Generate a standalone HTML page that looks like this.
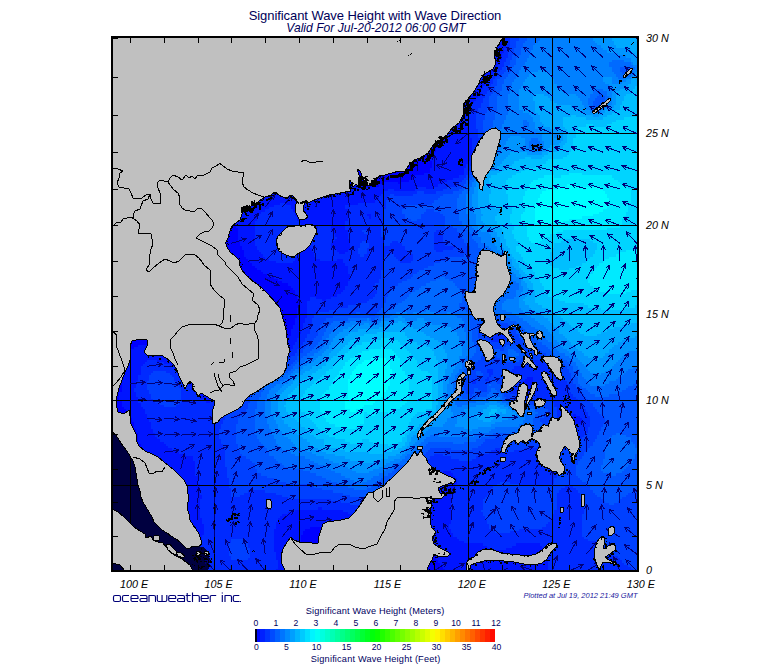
<!DOCTYPE html><html><head><meta charset="utf-8"><title>Significant Wave Height</title>
<style>html,body{margin:0;padding:0;background:#fff}body{width:775px;height:665px;overflow:hidden;position:relative;font-family:"Liberation Sans",sans-serif}svg{position:absolute;left:0;top:0}text{font-family:"Liberation Sans",sans-serif}</style></head><body>
<svg width="775" height="665" viewBox="0 0 775 665">
<defs><clipPath id="mc"><rect x="113" y="38" width="524" height="532"/></clipPath>
<linearGradient id="cb" x1="0" x2="1" y1="0" y2="0">
<stop offset="0" stop-color="#000000"/>
<stop offset="0.008" stop-color="#000010"/>
<stop offset="0.0081" stop-color="#0000ff"/>
<stop offset="0.25" stop-color="#00ffff"/>
<stop offset="0.5" stop-color="#00ff00"/>
<stop offset="0.75" stop-color="#ffff00"/>
<stop offset="1" stop-color="#ff0000"/>
</linearGradient></defs>
<rect x="0" y="0" width="775" height="665" fill="#fff"/>
<g clip-path="url(#mc)" shape-rendering="crispEdges">
<rect x="113" y="38" width="524" height="532" fill="#0000ff"/>
<path fill="#0015ff" d="M157 573h45v2h-45zM276 573h34v2h-34zM449 573h99v2h-99zM157 571h43v2h-43zM276 571h34v2h-34zM447 571h101v2h-101zM157 569h43v2h-43zM276 569h34v2h-34zM445 569h103v2h-103zM157 567h43v2h-43zM278 567h29v2h-29zM443 567h105v2h-105zM157 565h43v2h-43zM278 565h29v2h-29zM440 565h108v2h-108zM157 563h43v2h-43zM278 563h29v2h-29zM440 563h108v2h-108zM157 560h43v3h-43zM278 560h29v3h-29zM438 560h110v3h-110zM160 558h40v2h-40zM276 558h29v2h-29zM436 558h110v2h-110zM160 556h40v2h-40zM276 556h29v2h-29zM436 556h110v2h-110zM160 554h40v2h-40zM276 554h29v2h-29zM434 554h112v2h-112zM160 552h40v2h-40zM276 552h27v2h-27zM434 552h110v2h-110zM160 550h40v2h-40zM274 550h29v2h-29zM432 550h112v2h-112zM162 548h38v2h-38zM274 548h29v2h-29zM432 548h61v2h-61zM506 548h38v2h-38zM162 546h38v2h-38zM274 546h27v2h-27zM432 546h55v2h-55zM512 546h30v2h-30zM162 543h38v3h-38zM274 543h27v3h-27zM430 543h53v3h-53zM516 543h24v3h-24zM164 541h38v2h-38zM274 541h27v2h-27zM430 541h34v2h-34zM164 539h38v2h-38zM274 539h27v2h-27zM364 539h28v2h-28zM430 539h29v2h-29zM164 537h38v2h-38zM274 537h27v2h-27zM358 537h42v2h-42zM430 537h27v2h-27zM166 535h36v2h-36zM274 535h27v2h-27zM352 535h57v2h-57zM430 535h23v2h-23zM166 533h38v2h-38zM274 533h29v2h-29zM348 533h69v2h-69zM428 533h25v2h-25zM166 531h38v2h-38zM274 531h29v2h-29zM343 531h108v2h-108zM166 529h38v2h-38zM274 529h31v2h-31zM339 529h112v2h-112zM168 527h36v2h-36zM276 527h34v2h-34zM333 527h116v2h-116zM168 524h36v3h-36zM276 524h173v3h-173zM168 522h34v2h-34zM276 522h175v2h-175zM168 520h34v2h-34zM278 520h173v2h-173zM170 518h32v2h-32zM278 518h173v2h-173zM170 516h30v2h-30zM280 516h82v2h-82zM375 516h76v2h-76zM170 514h30v2h-30zM282 514h72v2h-72zM383 514h68v2h-68zM170 512h30v2h-30zM288 512h60v2h-60zM388 512h63v2h-63zM170 510h30v2h-30zM295 510h48v2h-48zM392 510h59v2h-59zM170 507h30v3h-30zM318 507h4v3h-4zM396 507h55v3h-55zM170 505h30v2h-30zM400 505h51v2h-51zM170 503h30v2h-30zM402 503h49v2h-49zM170 501h30v2h-30zM405 501h46v2h-46zM170 499h30v2h-30zM409 499h42v2h-42zM170 497h32v2h-32zM411 497h40v2h-40zM170 495h32v2h-32zM413 495h38v2h-38zM170 493h30v2h-30zM417 493h34v2h-34zM168 490h32v3h-32zM419 490h34v3h-34zM168 488h32v2h-32zM424 488h29v2h-29zM168 486h32v2h-32zM426 486h29v2h-29zM168 484h32v2h-32zM428 484h27v2h-27zM166 482h32v2h-32zM430 482h27v2h-27zM166 480h32v2h-32zM432 480h25v2h-25zM166 478h32v2h-32zM434 478h23v2h-23zM166 476h32v2h-32zM436 476h19v2h-19zM164 473h31v3h-31zM438 473h15v3h-15zM164 471h31v2h-31zM443 471h8v2h-8zM162 469h33v2h-33zM162 467h33v2h-33zM162 465h33v2h-33zM160 463h35v2h-35zM160 461h35v2h-35zM155 459h38v2h-38zM151 456h42v3h-42zM147 454h36v2h-36zM145 452h34v2h-34zM143 450h33v2h-33zM143 448h29v2h-29zM141 446h27v2h-27zM141 444h25v2h-25zM138 442h26v2h-26zM138 439h22v3h-22zM138 437h19v2h-19zM138 435h17v2h-17zM138 433h17v2h-17zM136 431h17v2h-17zM136 429h17v2h-17zM134 427h17v2h-17zM134 424h17v3h-17zM134 422h17v2h-17zM573 422h9v2h-9zM132 420h17v2h-17zM573 420h9v2h-9zM132 418h17v2h-17zM573 418h9v2h-9zM130 416h17v2h-17zM573 416h7v2h-7zM128 414h19v2h-19zM573 414h3v2h-3zM126 412h19v2h-19zM126 409h19v3h-19zM124 407h19v2h-19zM122 405h19v2h-19zM122 403h19v2h-19zM122 401h16v2h-16zM206 401h4v2h-4zM119 399h19v2h-19zM204 399h8v2h-8zM119 397h19v2h-19zM200 397h14v2h-14zM119 394h17v3h-17zM198 394h19v3h-19zM529 394h2v3h-2zM119 392h17v2h-17zM195 392h24v2h-24zM527 392h8v2h-8zM122 390h12v2h-12zM193 390h28v2h-28zM525 390h13v2h-13zM122 388h12v2h-12zM191 388h32v2h-32zM525 388h10v2h-10zM122 386h14v2h-14zM191 386h34v2h-34zM525 386h10v2h-10zM122 384h14v2h-14zM189 384h38v2h-38zM523 384h12v2h-12zM122 381h14v3h-14zM187 381h42v3h-42zM523 381h10v3h-10zM122 379h16v2h-16zM185 379h46v2h-46zM525 379h8v2h-8zM124 377h14v2h-14zM183 377h50v2h-50zM527 377h6v2h-6zM124 375h14v2h-14zM181 375h52v2h-52zM124 373h17v2h-17zM179 373h57v2h-57zM124 371h17v2h-17zM179 371h59v2h-59zM124 369h17v2h-17zM176 369h66v2h-66zM124 366h17v3h-17zM174 366h70v3h-70zM124 364h19v2h-19zM170 364h78v2h-78zM124 362h21v2h-21zM164 362h88v2h-88zM124 360h23v2h-23zM157 360h41v2h-41zM210 360h47v2h-47zM124 358h69v2h-69zM217 358h46v2h-46zM126 356h65v2h-65zM221 356h48v2h-48zM126 353h61v3h-61zM227 353h53v3h-53zM128 351h53v2h-53zM233 351h53v2h-53zM130 349h46v2h-46zM238 349h53v2h-53zM134 347h38v2h-38zM246 347h47v2h-47zM138 345h30v2h-30zM255 345h38v2h-38zM149 342h11v3h-11zM269 342h26v3h-26zM280 340h17v2h-17zM284 338h13v2h-13zM288 336h11v2h-11zM291 334h8v2h-8zM291 332h10v2h-10zM291 329h10v3h-10zM293 327h10v2h-10zM293 325h10v2h-10zM295 323h8v2h-8zM295 321h10v2h-10zM295 318h10v3h-10zM297 316h10v2h-10zM297 314h10v2h-10zM297 312h10v2h-10zM297 310h10v2h-10zM297 308h10v2h-10zM299 305h8v3h-8zM299 303h8v2h-8zM299 301h8v2h-8zM299 299h11v2h-11zM322 299h4v2h-4zM297 297h13v2h-13zM316 297h15v2h-15zM297 294h40v3h-40zM295 292h46v2h-46zM295 290h48v2h-48zM293 288h52v2h-52zM291 286h54v2h-54zM288 283h60v3h-60zM282 281h66v2h-66zM278 279h72v2h-72zM274 277h76v2h-76zM267 274h83v3h-83zM263 272h85v2h-85zM261 270h87v2h-87zM257 268h91v2h-91zM255 266h93v2h-93zM252 263h93v3h-93zM250 261h26v2h-26zM293 261h50v2h-50zM248 259h21v2h-21zM295 259h25v2h-25zM337 259h6v2h-6zM246 257h19v2h-19zM295 257h21v2h-21zM244 254h19v3h-19zM297 254h17v3h-17zM244 252h17v2h-17zM297 252h17v2h-17zM339 252h6v2h-6zM244 250h15v2h-15zM299 250h13v2h-13zM337 250h11v2h-11zM242 248h15v2h-15zM299 248h13v2h-13zM333 248h17v2h-17zM242 246h15v2h-15zM301 246h9v2h-9zM331 246h19v2h-19zM240 243h15v3h-15zM331 243h19v3h-19zM240 241h15v2h-15zM333 241h17v2h-17zM238 239h17v2h-17zM335 239h15v2h-15zM238 237h17v2h-17zM337 237h11v2h-11zM238 234h17v3h-17zM335 234h13v3h-13zM238 232h17v2h-17zM333 232h15v2h-15zM238 230h17v2h-17zM331 230h17v2h-17zM238 228h17v2h-17zM307 228h5v2h-5zM331 228h14v2h-14zM236 225h19v3h-19zM303 225h15v3h-15zM331 225h14v3h-14zM236 223h19v2h-19zM301 223h44v2h-44zM236 221h19v2h-19zM299 221h46v2h-46zM236 219h21v2h-21zM297 219h51v2h-51zM236 216h21v3h-21zM297 216h51v3h-51zM369 216h2v3h-2zM236 214h23v2h-23zM295 214h53v2h-53zM367 214h4v2h-4zM238 212h23v2h-23zM295 212h53v2h-53zM238 209h27v3h-27zM293 209h55v3h-55zM238 207h31v2h-31zM291 207h54v2h-54zM240 205h34v2h-34zM291 205h54v2h-54zM240 203h40v2h-40zM286 203h72v2h-72zM242 200h133v3h-133zM242 198h137v2h-137zM244 196h135v2h-135zM246 194h135v2h-135zM248 191h135v3h-135zM252 189h136v2h-136zM394 189h21v2h-21zM255 187h162v2h-162zM426 187h8v2h-8zM257 184h105v3h-105zM379 184h59v3h-59zM261 182h97v2h-97zM383 182h15v2h-15zM400 182h43v2h-43zM265 180h91v2h-91zM409 180h38v2h-38zM267 178h85v2h-85zM413 178h40v2h-40zM274 175h71v3h-71zM415 175h44v3h-44zM284 173h51v2h-51zM424 173h40v2h-40zM430 171h34v2h-34zM430 168h34v3h-34zM432 166h34v2h-34zM432 164h34v2h-34zM432 161h36v3h-36zM430 159h40v2h-40zM432 157h38v2h-38zM432 155h40v2h-40zM434 152h38v3h-38zM436 150h36v2h-36zM436 148h36v2h-36zM440 145h32v3h-32zM443 143h29v2h-29zM443 141h29v2h-29zM445 138h27v3h-27zM447 136h23v2h-23zM447 134h23v2h-23zM449 131h19v3h-19zM449 129h19v2h-19zM449 127h19v2h-19zM451 124h15v3h-15zM451 122h15v2h-15zM451 120h15v2h-15zM453 117h13v3h-13zM453 115h15v2h-15zM453 113h15v2h-15zM455 110h13v3h-13zM457 108h13v2h-13zM457 105h13v3h-13zM459 103h13v2h-13zM459 101h15v2h-15zM462 98h14v3h-14zM464 96h14v2h-14zM466 94h15v2h-15zM468 91h13v3h-13zM470 89h11v2h-11zM472 86h11v3h-11zM474 84h11v2h-11zM476 82h11v2h-11zM478 79h11v3h-11zM481 77h10v2h-10zM483 74h8v3h-8zM483 72h10v2h-10zM485 70h8v2h-8zM487 67h8v3h-8zM487 65h10v2h-10zM489 62h11v3h-11zM491 60h9v2h-9zM491 58h11v2h-11zM493 55h9v3h-9zM493 53h9v2h-9zM493 50h11v3h-11zM495 48h9v2h-9zM495 45h11v3h-11zM493 43h13v2h-13zM493 41h11v2h-11zM493 38h11v3h-11zM491 36h13v2h-13zM491 33h11v3h-11z"/>
<path fill="#002aff" d="M202 573h74v2h-74zM548 573h89v2h-89zM200 571h76v2h-76zM548 571h87v2h-87zM200 569h76v2h-76zM548 569h85v2h-85zM200 567h78v2h-78zM548 567h83v2h-83zM200 565h78v2h-78zM548 565h80v2h-80zM200 563h78v2h-78zM548 563h76v2h-76zM200 560h78v3h-78zM548 560h74v3h-74zM200 558h31v2h-31zM248 558h28v2h-28zM546 558h74v2h-74zM200 556h31v2h-31zM250 556h26v2h-26zM546 556h72v2h-72zM200 554h29v2h-29zM250 554h26v2h-26zM546 554h68v2h-68zM200 552h29v2h-29zM250 552h26v2h-26zM544 552h68v2h-68zM200 550h29v2h-29zM250 550h24v2h-24zM544 550h68v2h-68zM200 548h29v2h-29zM250 548h24v2h-24zM493 548h13v2h-13zM544 548h65v2h-65zM200 546h29v2h-29zM248 546h26v2h-26zM487 546h25v2h-25zM542 546h65v2h-65zM200 543h29v3h-29zM248 543h26v3h-26zM483 543h33v3h-33zM540 543h63v3h-63zM202 541h29v2h-29zM248 541h26v2h-26zM464 541h135v2h-135zM202 539h29v2h-29zM246 539h28v2h-28zM459 539h129v2h-129zM202 537h72v2h-72zM457 537h127v2h-127zM202 535h72v2h-72zM453 535h129v2h-129zM204 533h70v2h-70zM453 533h129v2h-129zM204 531h70v2h-70zM451 531h44v2h-44zM510 531h72v2h-72zM204 529h70v2h-70zM451 529h40v2h-40zM519 529h63v2h-63zM204 527h72v2h-72zM449 527h40v2h-40zM542 527h40v2h-40zM204 524h72v3h-72zM449 524h40v3h-40zM546 524h36v3h-36zM202 522h74v2h-74zM451 522h36v2h-36zM548 522h34v2h-34zM202 520h76v2h-76zM451 520h36v2h-36zM550 520h32v2h-32zM202 518h76v2h-76zM451 518h34v2h-34zM550 518h32v2h-32zM200 516h80v2h-80zM362 516h13v2h-13zM451 516h34v2h-34zM552 516h30v2h-30zM200 514h82v2h-82zM354 514h29v2h-29zM451 514h32v2h-32zM552 514h30v2h-30zM200 512h88v2h-88zM348 512h40v2h-40zM451 512h32v2h-32zM554 512h30v2h-30zM200 510h95v2h-95zM343 510h49v2h-49zM451 510h30v2h-30zM554 510h30v2h-30zM200 507h118v3h-118zM322 507h74v3h-74zM451 507h32v3h-32zM557 507h27v3h-27zM200 505h200v2h-200zM451 505h32v2h-32zM557 505h25v2h-25zM200 503h150v2h-150zM373 503h29v2h-29zM451 503h32v2h-32zM557 503h25v2h-25zM200 501h141v2h-141zM379 501h26v2h-26zM451 501h32v2h-32zM557 501h25v2h-25zM200 499h131v2h-131zM383 499h26v2h-26zM451 499h32v2h-32zM557 499h25v2h-25zM202 497h86v2h-86zM386 497h25v2h-25zM451 497h34v2h-34zM557 497h23v2h-23zM202 495h29v2h-29zM240 495h42v2h-42zM388 495h25v2h-25zM451 495h36v2h-36zM557 495h23v2h-23zM200 493h31v2h-31zM244 493h32v2h-32zM390 493h27v2h-27zM451 493h38v2h-38zM557 493h23v2h-23zM200 490h31v3h-31zM248 490h17v3h-17zM392 490h27v3h-27zM453 490h38v3h-38zM559 490h19v3h-19zM200 488h31v2h-31zM396 488h28v2h-28zM453 488h38v2h-38zM561 488h15v2h-15zM200 486h29v2h-29zM398 486h28v2h-28zM455 486h38v2h-38zM565 486h8v2h-8zM200 484h29v2h-29zM402 484h26v2h-26zM455 484h42v2h-42zM519 484h33v2h-33zM198 482h31v2h-31zM405 482h25v2h-25zM457 482h43v2h-43zM510 482h44v2h-44zM198 480h31v2h-31zM407 480h25v2h-25zM457 480h97v2h-97zM198 478h31v2h-31zM409 478h25v2h-25zM457 478h97v2h-97zM198 476h29v2h-29zM411 476h25v2h-25zM455 476h102v2h-102zM195 473h32v3h-32zM415 473h23v3h-23zM453 473h104v3h-104zM195 471h32v2h-32zM417 471h26v2h-26zM451 471h106v2h-106zM195 469h32v2h-32zM419 469h138v2h-138zM195 467h32v2h-32zM421 467h136v2h-136zM195 465h30v2h-30zM424 465h133v2h-133zM195 463h30v2h-30zM426 463h133v2h-133zM195 461h30v2h-30zM428 461h131v2h-131zM193 459h32v2h-32zM428 459h31v2h-31zM472 459h87v2h-87zM193 456h32v3h-32zM430 456h21v3h-21zM476 456h83v3h-83zM183 454h42v2h-42zM434 454h9v2h-9zM481 454h80v2h-80zM179 452h46v2h-46zM489 452h72v2h-72zM176 450h49v2h-49zM491 450h11v2h-11zM514 450h49v2h-49zM172 448h53v2h-53zM495 448h5v2h-5zM525 448h40v2h-40zM168 446h55v2h-55zM538 446h29v2h-29zM166 444h57v2h-57zM546 444h25v2h-25zM164 442h57v2h-57zM550 442h23v2h-23zM160 439h61v3h-61zM554 439h24v3h-24zM157 437h62v2h-62zM554 437h28v2h-28zM155 435h64v2h-64zM554 435h30v2h-30zM155 433h64v2h-64zM554 433h32v2h-32zM153 431h66v2h-66zM554 431h34v2h-34zM153 429h66v2h-66zM557 429h31v2h-31zM151 427h70v2h-70zM557 427h31v2h-31zM151 424h70v3h-70zM557 424h33v3h-33zM151 422h72v2h-72zM557 422h16v2h-16zM582 422h8v2h-8zM149 420h74v2h-74zM557 420h16v2h-16zM582 420h8v2h-8zM149 418h76v2h-76zM557 418h16v2h-16zM582 418h8v2h-8zM147 416h78v2h-78zM557 416h16v2h-16zM580 416h10v2h-10zM147 414h80v2h-80zM557 414h16v2h-16zM576 414h12v2h-12zM145 412h82v2h-82zM557 412h31v2h-31zM145 409h84v3h-84zM557 409h29v3h-29zM143 407h88v2h-88zM557 407h27v2h-27zM141 405h23v2h-23zM176 405h57v2h-57zM554 405h30v2h-30zM141 403h19v2h-19zM179 403h54v2h-54zM554 403h28v2h-28zM138 401h17v2h-17zM181 401h25v2h-25zM210 401h26v2h-26zM552 401h28v2h-28zM138 399h15v2h-15zM181 399h23v2h-23zM212 399h24v2h-24zM529 399h49v2h-49zM138 397h13v2h-13zM181 397h19v2h-19zM214 397h24v2h-24zM523 397h53v2h-53zM136 394h15v3h-15zM181 394h17v3h-17zM217 394h23v3h-23zM516 394h13v3h-13zM531 394h42v3h-42zM136 392h13v2h-13zM181 392h14v2h-14zM219 392h21v2h-21zM510 392h17v2h-17zM535 392h36v2h-36zM134 390h15v2h-15zM181 390h12v2h-12zM221 390h21v2h-21zM510 390h15v2h-15zM538 390h31v2h-31zM134 388h13v2h-13zM181 388h10v2h-10zM223 388h19v2h-19zM510 388h15v2h-15zM535 388h34v2h-34zM136 386h11v2h-11zM179 386h12v2h-12zM225 386h19v2h-19zM510 386h15v2h-15zM535 386h34v2h-34zM136 384h11v2h-11zM179 384h10v2h-10zM227 384h19v2h-19zM508 384h15v2h-15zM535 384h34v2h-34zM136 381h11v3h-11zM176 381h11v3h-11zM229 381h19v3h-19zM472 381h4v3h-4zM508 381h15v3h-15zM533 381h34v3h-34zM138 379h11v2h-11zM174 379h11v2h-11zM231 379h19v2h-19zM472 379h4v2h-4zM485 379h4v2h-4zM508 379h17v2h-17zM533 379h32v2h-32zM138 377h11v2h-11zM174 377h9v2h-9zM233 377h19v2h-19zM487 377h2v2h-2zM506 377h21v2h-21zM533 377h30v2h-30zM138 375h11v2h-11zM172 375h9v2h-9zM233 375h19v2h-19zM489 375h2v2h-2zM506 375h57v2h-57zM141 373h10v2h-10zM170 373h9v2h-9zM236 373h19v2h-19zM489 373h4v2h-4zM508 373h53v2h-53zM141 371h12v2h-12zM166 371h13v2h-13zM238 371h21v2h-21zM487 371h6v2h-6zM508 371h51v2h-51zM141 369h35v2h-35zM242 369h21v2h-21zM487 369h6v2h-6zM512 369h45v2h-45zM141 366h33v3h-33zM244 366h23v3h-23zM514 366h38v3h-38zM143 364h27v2h-27zM248 364h26v2h-26zM525 364h23v2h-23zM145 362h19v2h-19zM252 362h28v2h-28zM529 362h17v2h-17zM147 360h10v2h-10zM257 360h29v2h-29zM533 360h9v2h-9zM263 358h25v2h-25zM269 356h22v2h-22zM280 353h15v3h-15zM286 351h11v2h-11zM291 349h6v2h-6zM293 347h6v2h-6zM293 345h8v2h-8zM295 342h8v3h-8zM297 340h8v2h-8zM491 340h11v2h-11zM297 338h8v2h-8zM489 338h17v2h-17zM299 336h8v2h-8zM487 336h21v2h-21zM299 334h8v2h-8zM487 334h21v2h-21zM301 332h9v2h-9zM489 332h19v2h-19zM301 329h9v3h-9zM491 329h17v3h-17zM303 327h7v2h-7zM303 325h9v2h-9zM303 323h9v2h-9zM305 321h7v2h-7zM305 318h7v3h-7zM307 316h7v2h-7zM307 314h7v2h-7zM307 312h11v2h-11zM307 310h22v2h-22zM307 308h30v2h-30zM371 308h2v2h-2zM307 305h41v3h-41zM307 303h49v2h-49zM307 301h60v2h-60zM310 299h12v2h-12zM326 299h43v2h-43zM310 297h6v2h-6zM331 297h42v2h-42zM337 294h38v3h-38zM341 292h36v2h-36zM343 290h34v2h-34zM345 288h28v2h-28zM345 286h28v2h-28zM348 283h27v3h-27zM348 281h31v2h-31zM350 279h29v2h-29zM350 277h31v2h-31zM350 274h31v3h-31zM348 272h33v2h-33zM348 270h33v2h-33zM348 268h35v2h-35zM348 266h35v2h-35zM345 263h38v3h-38zM276 261h17v2h-17zM343 261h40v2h-40zM400 261h11v2h-11zM269 259h26v2h-26zM320 259h17v2h-17zM343 259h40v2h-40zM398 259h15v2h-15zM265 257h30v2h-30zM316 257h67v2h-67zM396 257h17v2h-17zM263 254h34v3h-34zM314 254h46v3h-46zM364 254h22v3h-22zM394 254h19v3h-19zM261 252h36v2h-36zM314 252h25v2h-25zM345 252h13v2h-13zM367 252h42v2h-42zM259 250h40v2h-40zM312 250h25v2h-25zM348 250h10v2h-10zM367 250h40v2h-40zM436 250h7v2h-7zM257 248h42v2h-42zM312 248h21v2h-21zM350 248h8v2h-8zM367 248h38v2h-38zM434 248h19v2h-19zM257 246h44v2h-44zM310 246h21v2h-21zM350 246h10v2h-10zM369 246h36v2h-36zM434 246h21v2h-21zM255 243h76v3h-76zM350 243h10v3h-10zM369 243h14v3h-14zM390 243h12v3h-12zM434 243h11v3h-11zM255 241h78v2h-78zM350 241h12v2h-12zM367 241h16v2h-16zM392 241h6v2h-6zM434 241h9v2h-9zM255 239h80v2h-80zM350 239h33v2h-33zM434 239h9v2h-9zM255 237h82v2h-82zM348 237h35v2h-35zM434 237h9v2h-9zM255 234h80v3h-80zM348 234h33v3h-33zM434 234h9v3h-9zM255 232h78v2h-78zM348 232h16v2h-16zM369 232h12v2h-12zM434 232h6v2h-6zM255 230h76v2h-76zM348 230h14v2h-14zM367 230h14v2h-14zM436 230h4v2h-4zM255 228h52v2h-52zM312 228h19v2h-19zM345 228h36v2h-36zM255 225h48v3h-48zM318 225h13v3h-13zM345 225h36v3h-36zM255 223h46v2h-46zM345 223h38v2h-38zM255 221h44v2h-44zM345 221h38v2h-38zM257 219h40v2h-40zM348 219h35v2h-35zM257 216h40v3h-40zM348 216h21v3h-21zM371 216h12v3h-12zM259 214h36v2h-36zM348 214h19v2h-19zM371 214h12v2h-12zM261 212h34v2h-34zM348 212h35v2h-35zM265 209h28v3h-28zM348 209h35v3h-35zM269 207h22v2h-22zM345 207h41v2h-41zM274 205h17v2h-17zM345 205h41v2h-41zM280 203h6v2h-6zM358 203h28v2h-28zM375 200h11v3h-11zM379 198h9v2h-9zM379 196h9v2h-9zM381 194h9v2h-9zM394 194h19v2h-19zM383 191h34v3h-34zM424 191h12v3h-12zM388 189h6v2h-6zM415 189h28v2h-28zM417 187h9v2h-9zM434 187h13v2h-13zM438 184h19v3h-19zM443 182h16v2h-16zM447 180h15v2h-15zM453 178h11v2h-11zM459 175h7v3h-7zM464 173h4v2h-4zM464 171h4v2h-4zM464 168h6v3h-6zM466 166h4v2h-4zM466 164h6v2h-6zM468 161h4v3h-4zM470 159h4v2h-4zM470 157h6v2h-6zM472 155h4v2h-4zM472 152h4v3h-4zM472 150h6v2h-6zM472 148h6v2h-6zM472 145h6v3h-6zM472 143h6v2h-6zM472 141h9v2h-9zM472 138h9v3h-9zM470 136h8v2h-8zM470 134h8v2h-8zM468 131h10v3h-10zM468 129h10v2h-10zM468 127h8v2h-8zM466 124h10v3h-10zM466 122h10v2h-10zM466 120h10v2h-10zM466 117h10v3h-10zM468 115h8v2h-8zM468 113h8v2h-8zM468 110h10v3h-10zM470 108h8v2h-8zM470 105h11v3h-11zM472 103h9v2h-9zM474 101h9v2h-9zM476 98h7v3h-7zM478 96h7v2h-7zM481 94h4v2h-4zM481 91h6v3h-6zM481 89h8v2h-8zM483 86h6v3h-6zM485 84h6v2h-6zM487 82h6v2h-6zM489 79h4v3h-4zM491 77h4v2h-4zM491 74h6v3h-6zM493 72h4v2h-4zM493 70h7v2h-7zM495 67h7v3h-7zM497 65h7v2h-7zM500 62h4v3h-4zM500 60h6v2h-6zM502 58h4v2h-4zM502 55h6v3h-6zM502 53h6v2h-6zM504 50h4v3h-4zM504 48h6v2h-6zM506 45h4v3h-4zM506 43h4v2h-4zM504 41h6v2h-6zM504 38h6v3h-6zM504 36h8v2h-8zM502 33h10v3h-10z"/>
<path fill="#0040ff" d="M637 573h4v2h-4zM635 571h6v2h-6zM633 569h8v2h-8zM631 567h10v2h-10zM628 565h13v2h-13zM624 563h17v2h-17zM622 560h19v3h-19zM231 558h17v2h-17zM620 558h21v2h-21zM231 556h19v2h-19zM618 556h23v2h-23zM229 554h21v2h-21zM614 554h27v2h-27zM229 552h21v2h-21zM612 552h29v2h-29zM229 550h21v2h-21zM612 550h29v2h-29zM229 548h21v2h-21zM609 548h32v2h-32zM229 546h19v2h-19zM607 546h34v2h-34zM229 543h19v3h-19zM603 543h38v3h-38zM231 541h17v2h-17zM599 541h42v2h-42zM231 539h15v2h-15zM588 539h53v2h-53zM584 537h57v2h-57zM582 535h59v2h-59zM582 533h59v2h-59zM495 531h15v2h-15zM582 531h59v2h-59zM491 529h28v2h-28zM582 529h59v2h-59zM489 527h53v2h-53zM582 527h59v2h-59zM489 524h57v3h-57zM582 524h59v3h-59zM487 522h61v2h-61zM582 522h59v2h-59zM487 520h63v2h-63zM582 520h59v2h-59zM485 518h65v2h-65zM582 518h59v2h-59zM485 516h67v2h-67zM582 516h59v2h-59zM483 514h69v2h-69zM582 514h59v2h-59zM483 512h71v2h-71zM584 512h57v2h-57zM481 510h73v2h-73zM584 510h57v2h-57zM483 507h74v3h-74zM584 507h57v3h-57zM483 505h74v2h-74zM582 505h59v2h-59zM350 503h23v2h-23zM483 503h74v2h-74zM582 503h27v2h-27zM614 503h27v2h-27zM341 501h38v2h-38zM483 501h74v2h-74zM582 501h23v2h-23zM618 501h23v2h-23zM331 499h52v2h-52zM483 499h74v2h-74zM582 499h21v2h-21zM620 499h21v2h-21zM288 497h98v2h-98zM485 497h72v2h-72zM580 497h21v2h-21zM622 497h19v2h-19zM231 495h9v2h-9zM282 495h68v2h-68zM369 495h19v2h-19zM487 495h70v2h-70zM580 495h17v2h-17zM626 495h15v2h-15zM231 493h13v2h-13zM276 493h67v2h-67zM373 493h17v2h-17zM489 493h68v2h-68zM580 493h15v2h-15zM628 493h13v2h-13zM231 490h17v3h-17zM265 490h68v3h-68zM377 490h15v3h-15zM491 490h68v3h-68zM578 490h15v3h-15zM633 490h8v3h-8zM231 488h91v2h-91zM381 488h15v2h-15zM491 488h70v2h-70zM576 488h14v2h-14zM229 486h85v2h-85zM383 486h15v2h-15zM493 486h72v2h-72zM573 486h17v2h-17zM229 484h78v2h-78zM383 484h19v2h-19zM497 484h22v2h-22zM552 484h36v2h-36zM229 482h57v2h-57zM386 482h19v2h-19zM500 482h10v2h-10zM554 482h32v2h-32zM229 480h51v2h-51zM390 480h17v2h-17zM554 480h28v2h-28zM229 478h45v2h-45zM392 478h17v2h-17zM554 478h26v2h-26zM227 476h40v2h-40zM396 476h15v2h-15zM557 476h21v2h-21zM227 473h34v3h-34zM400 473h15v3h-15zM557 473h19v3h-19zM227 471h30v2h-30zM402 471h15v2h-15zM557 471h19v2h-19zM227 469h30v2h-30zM405 469h14v2h-14zM557 469h19v2h-19zM227 467h28v2h-28zM409 467h12v2h-12zM557 467h19v2h-19zM225 465h30v2h-30zM411 465h13v2h-13zM557 465h19v2h-19zM225 463h30v2h-30zM413 463h13v2h-13zM559 463h19v2h-19zM225 461h27v2h-27zM417 461h11v2h-11zM559 461h19v2h-19zM225 459h25v2h-25zM419 459h9v2h-9zM459 459h13v2h-13zM559 459h21v2h-21zM225 456h21v3h-21zM421 456h9v3h-9zM451 456h25v3h-25zM559 456h23v3h-23zM225 454h17v2h-17zM424 454h10v2h-10zM443 454h38v2h-38zM561 454h23v2h-23zM225 452h15v2h-15zM426 452h63v2h-63zM561 452h23v2h-23zM225 450h15v2h-15zM428 450h63v2h-63zM502 450h12v2h-12zM563 450h23v2h-23zM225 448h13v2h-13zM430 448h21v2h-21zM472 448h23v2h-23zM500 448h25v2h-25zM565 448h23v2h-23zM223 446h15v2h-15zM478 446h60v2h-60zM567 446h23v2h-23zM223 444h15v2h-15zM481 444h65v2h-65zM571 444h22v2h-22zM221 442h15v2h-15zM483 442h67v2h-67zM573 442h20v2h-20zM221 439h15v3h-15zM485 439h23v3h-23zM527 439h27v3h-27zM578 439h17v3h-17zM219 437h17v2h-17zM495 437h7v2h-7zM535 437h19v2h-19zM582 437h15v2h-15zM219 435h17v2h-17zM538 435h16v2h-16zM584 435h13v2h-13zM219 433h17v2h-17zM538 433h16v2h-16zM586 433h13v2h-13zM219 431h17v2h-17zM540 431h14v2h-14zM588 431h11v2h-11zM219 429h17v2h-17zM540 429h17v2h-17zM588 429h13v2h-13zM221 427h15v2h-15zM542 427h15v2h-15zM588 427h13v2h-13zM221 424h15v3h-15zM542 424h15v3h-15zM590 424h13v3h-13zM223 422h15v2h-15zM542 422h15v2h-15zM590 422h15v2h-15zM223 420h15v2h-15zM540 420h17v2h-17zM590 420h15v2h-15zM225 418h13v2h-13zM540 418h17v2h-17zM590 418h15v2h-15zM225 416h15v2h-15zM544 416h13v2h-13zM590 416h13v2h-13zM227 414h15v2h-15zM546 414h11v2h-11zM588 414h13v2h-13zM227 412h17v2h-17zM548 412h9v2h-9zM588 412h11v2h-11zM229 409h17v3h-17zM548 409h9v3h-9zM586 409h11v3h-11zM231 407h17v2h-17zM544 407h13v2h-13zM584 407h11v2h-11zM164 405h12v2h-12zM233 405h15v2h-15zM538 405h16v2h-16zM584 405h9v2h-9zM160 403h19v2h-19zM233 403h15v2h-15zM529 403h25v2h-25zM582 403h11v2h-11zM155 401h26v2h-26zM236 401h14v2h-14zM521 401h31v2h-31zM580 401h10v2h-10zM153 399h28v2h-28zM236 399h14v2h-14zM508 399h21v2h-21zM578 399h10v2h-10zM151 397h30v2h-30zM238 397h12v2h-12zM506 397h17v2h-17zM576 397h10v2h-10zM151 394h30v3h-30zM240 394h12v3h-12zM470 394h2v3h-2zM504 394h12v3h-12zM573 394h11v3h-11zM149 392h32v2h-32zM240 392h12v2h-12zM466 392h8v2h-8zM504 392h6v2h-6zM571 392h11v2h-11zM149 390h32v2h-32zM242 390h13v2h-13zM466 390h8v2h-8zM481 390h6v2h-6zM504 390h6v2h-6zM569 390h11v2h-11zM147 388h34v2h-34zM242 388h13v2h-13zM464 388h10v2h-10zM478 388h9v2h-9zM502 388h8v2h-8zM569 388h9v2h-9zM147 386h32v2h-32zM244 386h11v2h-11zM464 386h23v2h-23zM502 386h8v2h-8zM569 386h7v2h-7zM147 384h32v2h-32zM246 384h11v2h-11zM464 384h23v2h-23zM500 384h8v2h-8zM569 384h7v2h-7zM147 381h29v3h-29zM248 381h11v3h-11zM464 381h8v3h-8zM476 381h15v3h-15zM497 381h11v3h-11zM567 381h6v3h-6zM149 379h25v2h-25zM250 379h13v2h-13zM466 379h6v2h-6zM476 379h9v2h-9zM489 379h19v2h-19zM565 379h8v2h-8zM149 377h25v2h-25zM252 377h13v2h-13zM466 377h21v2h-21zM489 377h17v2h-17zM563 377h8v2h-8zM149 375h23v2h-23zM252 375h15v2h-15zM466 375h12v2h-12zM483 375h6v2h-6zM491 375h15v2h-15zM563 375h8v2h-8zM151 373h19v2h-19zM255 373h16v2h-16zM468 373h8v2h-8zM483 373h6v2h-6zM493 373h15v2h-15zM561 373h10v2h-10zM153 371h13v2h-13zM259 371h17v2h-17zM470 371h6v2h-6zM481 371h6v2h-6zM493 371h15v2h-15zM559 371h10v2h-10zM263 369h17v2h-17zM470 369h17v2h-17zM493 369h19v2h-19zM557 369h12v2h-12zM267 366h19v3h-19zM470 366h44v3h-44zM552 366h15v3h-15zM274 364h17v2h-17zM470 364h55v2h-55zM548 364h17v2h-17zM280 362h13v2h-13zM474 362h55v2h-55zM546 362h13v2h-13zM286 360h9v2h-9zM478 360h26v2h-26zM519 360h14v2h-14zM542 360h15v2h-15zM288 358h9v2h-9zM481 358h19v2h-19zM521 358h31v2h-31zM291 356h6v2h-6zM481 356h16v2h-16zM523 356h27v2h-27zM295 353h4v3h-4zM485 353h6v3h-6zM525 353h21v3h-21zM297 351h6v2h-6zM525 351h17v2h-17zM297 349h6v2h-6zM485 349h4v2h-4zM500 349h4v2h-4zM525 349h15v2h-15zM299 347h6v2h-6zM485 347h19v2h-19zM523 347h12v2h-12zM301 345h6v2h-6zM483 345h23v2h-23zM519 345h8v2h-8zM303 342h7v3h-7zM481 342h31v3h-31zM514 342h11v3h-11zM305 340h7v2h-7zM481 340h10v2h-10zM502 340h21v2h-21zM305 338h9v2h-9zM481 338h8v2h-8zM506 338h15v2h-15zM307 336h9v2h-9zM478 336h9v2h-9zM508 336h11v2h-11zM307 334h11v2h-11zM478 334h9v2h-9zM508 334h11v2h-11zM310 332h8v2h-8zM478 332h11v2h-11zM508 332h8v2h-8zM310 329h8v3h-8zM478 329h13v3h-13zM508 329h8v3h-8zM310 327h10v2h-10zM481 327h33v2h-33zM312 325h8v2h-8zM481 325h29v2h-29zM312 323h10v2h-10zM481 323h27v2h-27zM312 321h12v2h-12zM483 321h17v2h-17zM312 318h14v3h-14zM314 316h19v2h-19zM314 314h36v2h-36zM369 314h6v2h-6zM318 312h38v2h-38zM360 312h17v2h-17zM329 310h50v2h-50zM337 308h34v2h-34zM373 308h8v2h-8zM348 305h35v3h-35zM356 303h27v2h-27zM367 301h19v2h-19zM369 299h17v2h-17zM373 297h13v2h-13zM375 294h13v3h-13zM377 292h11v2h-11zM377 290h13v2h-13zM373 288h19v2h-19zM373 286h21v2h-21zM375 283h23v3h-23zM379 281h23v2h-23zM379 279h28v2h-28zM381 277h30v2h-30zM381 274h32v3h-32zM381 272h36v2h-36zM381 270h38v2h-38zM383 268h41v2h-41zM383 266h45v2h-45zM383 263h51v3h-51zM383 261h17v2h-17zM411 261h29v2h-29zM383 259h15v2h-15zM413 259h32v2h-32zM383 257h13v2h-13zM413 257h34v2h-34zM360 254h4v3h-4zM386 254h8v3h-8zM413 254h51v3h-51zM358 252h9v2h-9zM409 252h59v2h-59zM358 250h9v2h-9zM407 250h29v2h-29zM443 250h27v2h-27zM358 248h9v2h-9zM405 248h29v2h-29zM453 248h17v2h-17zM360 246h9v2h-9zM405 246h29v2h-29zM455 246h15v2h-15zM360 243h9v3h-9zM383 243h7v3h-7zM402 243h32v3h-32zM445 243h21v3h-21zM362 241h5v2h-5zM383 241h9v2h-9zM398 241h36v2h-36zM443 241h21v2h-21zM383 239h51v2h-51zM443 239h21v2h-21zM383 237h51v2h-51zM443 237h19v2h-19zM381 234h53v3h-53zM443 234h16v3h-16zM364 232h5v2h-5zM381 232h53v2h-53zM440 232h19v2h-19zM362 230h5v2h-5zM381 230h55v2h-55zM440 230h17v2h-17zM381 228h76v2h-76zM381 225h64v3h-64zM447 225h6v3h-6zM383 223h62v2h-62zM383 221h62v2h-62zM383 219h28v2h-28zM417 219h28v2h-28zM383 216h22v3h-22zM421 216h24v3h-24zM383 214h22v2h-22zM421 214h22v2h-22zM383 212h19v2h-19zM424 212h16v2h-16zM383 209h19v3h-19zM426 209h8v3h-8zM386 207h19v2h-19zM386 205h21v2h-21zM386 203h46v2h-46zM386 200h48v3h-48zM388 198h50v2h-50zM388 196h52v2h-52zM390 194h4v2h-4zM413 194h30v2h-30zM417 191h7v3h-7zM436 191h17v3h-17zM443 189h16v2h-16zM447 187h15v2h-15zM457 184h7v3h-7zM459 182h7v2h-7zM462 180h4v2h-4zM464 178h4v2h-4zM466 175h4v3h-4zM468 173h4v2h-4zM468 171h4v2h-4zM470 168h4v3h-4zM470 166h4v2h-4zM472 164h4v2h-4zM472 161h6v3h-6zM474 159h4v2h-4zM476 157h2v2h-2zM476 155h5v2h-5zM476 152h5v3h-5zM478 150h5v2h-5zM478 148h5v2h-5zM478 145h7v3h-7zM478 143h7v2h-7zM481 141h4v2h-4zM481 138h4v3h-4zM478 136h7v2h-7zM478 134h7v2h-7zM478 131h7v3h-7zM478 129h5v2h-5zM476 127h7v2h-7zM476 124h7v3h-7zM476 122h7v2h-7zM476 120h7v2h-7zM476 117h9v3h-9zM476 115h9v2h-9zM476 113h9v2h-9zM478 110h9v3h-9zM478 108h9v2h-9zM481 105h8v3h-8zM481 103h8v2h-8zM483 101h6v2h-6zM483 98h6v3h-6zM485 96h4v2h-4zM485 94h6v2h-6zM487 91h6v3h-6zM489 89h6v2h-6zM489 86h6v3h-6zM491 84h6v2h-6zM493 82h4v2h-4zM493 79h4v3h-4zM495 77h5v2h-5zM497 74h5v3h-5zM497 72h7v2h-7zM500 70h6v2h-6zM502 67h4v3h-4zM504 65h4v2h-4zM504 62h6v3h-6zM506 60h4v2h-4zM506 58h6v2h-6zM508 55h4v3h-4zM508 53h6v2h-6zM508 50h6v3h-6zM510 48h4v2h-4zM510 45h6v3h-6zM510 43h6v2h-6zM510 41h6v2h-6zM510 38h9v3h-9zM512 36h7v2h-7zM512 33h7v3h-7z"/>
<path fill="#0055ff" d="M609 503h5v2h-5zM605 501h13v2h-13zM603 499h17v2h-17zM601 497h21v2h-21zM350 495h19v2h-19zM597 495h29v2h-29zM343 493h30v2h-30zM595 493h33v2h-33zM333 490h44v3h-44zM593 490h40v3h-40zM322 488h32v2h-32zM367 488h14v2h-14zM590 488h51v2h-51zM314 486h34v2h-34zM371 486h12v2h-12zM590 486h51v2h-51zM307 484h36v2h-36zM373 484h10v2h-10zM588 484h53v2h-53zM286 482h51v2h-51zM375 482h11v2h-11zM586 482h55v2h-55zM280 480h51v2h-51zM379 480h11v2h-11zM582 480h59v2h-59zM274 478h52v2h-52zM381 478h11v2h-11zM580 478h61v2h-61zM267 476h55v2h-55zM383 476h13v2h-13zM578 476h63v2h-63zM261 473h55v3h-55zM388 473h12v3h-12zM576 473h33v3h-33zM616 473h25v3h-25zM257 471h53v2h-53zM392 471h10v2h-10zM576 471h27v2h-27zM622 471h19v2h-19zM257 469h46v2h-46zM394 469h11v2h-11zM576 469h25v2h-25zM624 469h17v2h-17zM255 467h33v2h-33zM398 467h11v2h-11zM576 467h25v2h-25zM626 467h15v2h-15zM255 465h29v2h-29zM400 465h11v2h-11zM576 465h25v2h-25zM628 465h13v2h-13zM255 463h27v2h-27zM405 463h8v2h-8zM578 463h25v2h-25zM631 463h10v2h-10zM252 461h26v2h-26zM407 461h10v2h-10zM578 461h25v2h-25zM633 461h8v2h-8zM250 459h26v2h-26zM409 459h10v2h-10zM580 459h23v2h-23zM633 459h8v2h-8zM246 456h28v3h-28zM413 456h8v3h-8zM582 456h23v3h-23zM635 456h6v3h-6zM242 454h27v2h-27zM415 454h9v2h-9zM584 454h21v2h-21zM635 454h6v2h-6zM240 452h29v2h-29zM417 452h9v2h-9zM584 452h21v2h-21zM637 452h4v2h-4zM240 450h27v2h-27zM419 450h9v2h-9zM586 450h19v2h-19zM637 450h4v2h-4zM238 448h29v2h-29zM421 448h9v2h-9zM451 448h21v2h-21zM588 448h17v2h-17zM637 448h4v2h-4zM238 446h27v2h-27zM424 446h54v2h-54zM590 446h15v2h-15zM635 446h6v2h-6zM238 444h25v2h-25zM426 444h55v2h-55zM593 444h14v2h-14zM635 444h6v2h-6zM236 442h25v2h-25zM428 442h25v2h-25zM464 442h19v2h-19zM593 442h14v2h-14zM633 442h8v2h-8zM236 439h23v3h-23zM476 439h9v3h-9zM508 439h19v3h-19zM595 439h12v3h-12zM631 439h10v3h-10zM236 437h21v2h-21zM481 437h14v2h-14zM502 437h33v2h-33zM597 437h12v2h-12zM631 437h10v2h-10zM236 435h21v2h-21zM489 435h49v2h-49zM597 435h15v2h-15zM626 435h15v2h-15zM236 433h19v2h-19zM493 433h13v2h-13zM519 433h19v2h-19zM599 433h17v2h-17zM622 433h19v2h-19zM236 431h19v2h-19zM531 431h9v2h-9zM599 431h42v2h-42zM236 429h19v2h-19zM533 429h7v2h-7zM601 429h40v2h-40zM236 427h19v2h-19zM533 427h9v2h-9zM601 427h40v2h-40zM236 424h19v3h-19zM533 424h9v3h-9zM603 424h38v3h-38zM238 422h17v2h-17zM533 422h9v2h-9zM605 422h36v2h-36zM238 420h17v2h-17zM533 420h7v2h-7zM605 420h36v2h-36zM238 418h17v2h-17zM533 418h7v2h-7zM605 418h36v2h-36zM240 416h15v2h-15zM535 416h9v2h-9zM603 416h38v2h-38zM242 414h13v2h-13zM535 414h11v2h-11zM601 414h40v2h-40zM244 412h11v2h-11zM538 412h10v2h-10zM599 412h42v2h-42zM246 409h9v3h-9zM535 409h13v3h-13zM597 409h44v3h-44zM248 407h9v2h-9zM525 407h19v2h-19zM595 407h46v2h-46zM248 405h9v2h-9zM521 405h17v2h-17zM593 405h48v2h-48zM248 403h9v2h-9zM514 403h15v2h-15zM593 403h48v2h-48zM250 401h7v2h-7zM508 401h13v2h-13zM590 401h51v2h-51zM250 399h9v2h-9zM504 399h4v2h-4zM588 399h53v2h-53zM250 397h9v2h-9zM462 397h14v2h-14zM502 397h4v2h-4zM586 397h55v2h-55zM252 394h9v3h-9zM459 394h11v3h-11zM472 394h15v3h-15zM502 394h2v3h-2zM584 394h11v3h-11zM609 394h32v3h-32zM252 392h9v2h-9zM459 392h7v2h-7zM474 392h15v2h-15zM500 392h4v2h-4zM582 392h8v2h-8zM618 392h23v2h-23zM255 390h8v2h-8zM459 390h7v2h-7zM474 390h7v2h-7zM487 390h4v2h-4zM497 390h7v2h-7zM580 390h8v2h-8zM622 390h19v2h-19zM255 388h8v2h-8zM459 388h5v2h-5zM474 388h4v2h-4zM487 388h4v2h-4zM495 388h7v2h-7zM578 388h8v2h-8zM626 388h15v2h-15zM255 386h10v2h-10zM459 386h5v2h-5zM487 386h15v2h-15zM576 386h6v2h-6zM628 386h13v2h-13zM257 384h10v2h-10zM459 384h5v2h-5zM487 384h2v2h-2zM491 384h9v2h-9zM576 384h4v2h-4zM633 384h8v2h-8zM259 381h10v3h-10zM459 381h5v3h-5zM491 381h6v3h-6zM573 381h5v3h-5zM263 379h11v2h-11zM459 379h7v2h-7zM573 379h5v2h-5zM265 377h13v2h-13zM459 377h7v2h-7zM571 377h7v2h-7zM267 375h15v2h-15zM462 375h4v2h-4zM478 375h5v2h-5zM571 375h5v2h-5zM271 373h13v2h-13zM462 373h6v2h-6zM476 373h7v2h-7zM571 373h5v2h-5zM276 371h12v2h-12zM464 371h6v2h-6zM476 371h5v2h-5zM569 371h7v2h-7zM280 369h11v2h-11zM464 369h6v2h-6zM569 369h4v2h-4zM286 366h7v3h-7zM466 366h4v3h-4zM567 366h6v3h-6zM291 364h4v2h-4zM466 364h4v2h-4zM565 364h6v2h-6zM293 362h4v2h-4zM466 362h8v2h-8zM559 362h10v2h-10zM295 360h4v2h-4zM468 360h10v2h-10zM504 360h15v2h-15zM557 360h10v2h-10zM297 358h4v2h-4zM470 358h11v2h-11zM500 358h21v2h-21zM552 358h11v2h-11zM297 356h6v2h-6zM472 356h9v2h-9zM497 356h15v2h-15zM516 356h7v2h-7zM550 356h9v2h-9zM299 353h8v3h-8zM474 353h11v3h-11zM491 353h17v3h-17zM519 353h6v3h-6zM546 353h8v3h-8zM303 351h7v2h-7zM476 351h32v2h-32zM516 351h9v2h-9zM542 351h10v2h-10zM303 349h9v2h-9zM476 349h9v2h-9zM489 349h11v2h-11zM504 349h4v2h-4zM514 349h11v2h-11zM540 349h10v2h-10zM305 347h9v2h-9zM476 347h9v2h-9zM504 347h19v2h-19zM535 347h13v2h-13zM307 345h9v2h-9zM474 345h9v2h-9zM506 345h13v2h-13zM527 345h19v2h-19zM310 342h8v3h-8zM474 342h7v3h-7zM512 342h2v3h-2zM525 342h17v3h-17zM312 340h8v2h-8zM472 340h9v2h-9zM523 340h15v2h-15zM314 338h8v2h-8zM472 338h9v2h-9zM521 338h14v2h-14zM316 336h6v2h-6zM472 336h6v2h-6zM519 336h14v2h-14zM318 334h6v2h-6zM472 334h6v2h-6zM519 334h12v2h-12zM318 332h6v2h-6zM472 332h6v2h-6zM516 332h13v2h-13zM318 329h8v3h-8zM472 329h6v3h-6zM516 329h9v3h-9zM320 327h6v2h-6zM470 327h11v2h-11zM514 327h9v2h-9zM320 325h9v2h-9zM470 325h11v2h-11zM510 325h11v2h-11zM322 323h9v2h-9zM470 323h11v2h-11zM508 323h11v2h-11zM324 321h9v2h-9zM470 321h13v2h-13zM500 321h16v2h-16zM326 318h22v3h-22zM371 318h4v3h-4zM470 318h40v3h-40zM333 316h46v2h-46zM470 316h34v2h-34zM350 314h19v2h-19zM375 314h6v2h-6zM468 314h32v2h-32zM356 312h4v2h-4zM377 312h9v2h-9zM468 312h27v2h-27zM379 310h9v2h-9zM466 310h27v2h-27zM381 308h11v2h-11zM462 308h29v2h-29zM383 305h11v3h-11zM459 305h32v3h-32zM383 303h15v2h-15zM459 303h30v2h-30zM386 301h16v2h-16zM462 301h27v2h-27zM386 299h19v2h-19zM462 299h27v2h-27zM386 297h21v2h-21zM462 297h29v2h-29zM388 294h21v3h-21zM462 294h29v3h-29zM388 292h23v2h-23zM462 292h33v2h-33zM390 290h25v2h-25zM462 290h35v2h-35zM392 288h27v2h-27zM459 288h41v2h-41zM394 286h27v2h-27zM457 286h45v2h-45zM398 283h28v3h-28zM455 283h49v3h-49zM402 281h28v2h-28zM453 281h51v2h-51zM407 279h29v2h-29zM449 279h57v2h-57zM411 277h29v2h-29zM445 277h61v2h-61zM413 274h93v3h-93zM417 272h87v2h-87zM419 270h83v2h-83zM424 268h78v2h-78zM428 266h74v2h-74zM434 263h68v3h-68zM440 261h55v2h-55zM445 259h44v2h-44zM447 257h40v2h-40zM464 254h21v3h-21zM468 252h15v2h-15zM470 250h11v2h-11zM470 248h11v2h-11zM470 246h8v2h-8zM466 243h12v3h-12zM464 241h12v2h-12zM464 239h10v2h-10zM462 237h10v2h-10zM459 234h13v3h-13zM459 232h11v2h-11zM457 230h11v2h-11zM457 228h9v2h-9zM445 225h2v3h-2zM453 225h11v3h-11zM445 223h17v2h-17zM445 221h17v2h-17zM411 219h6v2h-6zM445 219h14v2h-14zM405 216h16v3h-16zM445 216h14v3h-14zM405 214h16v2h-16zM443 214h16v2h-16zM402 212h22v2h-22zM440 212h19v2h-19zM402 209h24v3h-24zM434 209h25v3h-25zM405 207h52v2h-52zM407 205h50v2h-50zM432 203h25v2h-25zM434 200h23v3h-23zM438 198h19v2h-19zM440 196h19v2h-19zM443 194h16v2h-16zM453 191h9v3h-9zM459 189h5v2h-5zM462 187h4v2h-4zM464 184h4v3h-4zM466 182h4v2h-4zM466 180h4v2h-4zM468 178h4v2h-4zM470 175h4v3h-4zM472 173h2v2h-2zM472 171h4v2h-4zM474 168h2v3h-2zM474 166h4v2h-4zM476 164h5v2h-5zM478 161h3v3h-3zM478 159h5v2h-5zM478 157h7v2h-7zM481 155h4v2h-4zM481 152h6v3h-6zM483 150h4v2h-4zM483 148h6v2h-6zM485 145h4v3h-4zM485 143h6v2h-6zM485 141h6v2h-6zM485 138h6v3h-6zM485 136h6v2h-6zM485 134h6v2h-6zM485 131h6v3h-6zM483 129h8v2h-8zM483 127h8v2h-8zM483 124h10v3h-10zM483 122h10v2h-10zM483 120h10v2h-10zM485 117h10v3h-10zM485 115h10v2h-10zM485 113h10v2h-10zM487 110h10v3h-10zM487 108h10v2h-10zM489 105h8v3h-8zM593 105h10v3h-10zM489 103h8v2h-8zM593 103h12v2h-12zM489 101h8v2h-8zM593 101h12v2h-12zM489 98h8v3h-8zM595 98h10v3h-10zM489 96h8v2h-8zM597 96h8v2h-8zM491 94h9v2h-9zM599 94h4v2h-4zM493 91h7v3h-7zM495 89h7v2h-7zM495 86h7v3h-7zM497 84h5v2h-5zM497 82h7v2h-7zM497 79h7v3h-7zM500 77h6v2h-6zM502 74h6v3h-6zM504 72h6v2h-6zM622 72h6v2h-6zM506 70h6v2h-6zM620 70h11v2h-11zM506 67h6v3h-6zM620 67h11v3h-11zM508 65h6v2h-6zM510 62h6v3h-6zM510 60h6v2h-6zM512 58h4v2h-4zM512 55h7v3h-7zM514 53h7v2h-7zM514 50h7v3h-7zM514 48h7v2h-7zM516 45h7v3h-7zM516 43h7v2h-7zM516 41h9v2h-9zM519 38h8v3h-8zM519 36h8v2h-8zM519 33h10v3h-10z"/>
<path fill="#006aff" d="M354 488h13v2h-13zM348 486h23v2h-23zM343 484h30v2h-30zM337 482h23v2h-23zM362 482h13v2h-13zM331 480h23v2h-23zM367 480h12v2h-12zM326 478h24v2h-24zM371 478h10v2h-10zM322 476h23v2h-23zM373 476h10v2h-10zM316 473h25v3h-25zM379 473h9v3h-9zM609 473h7v3h-7zM310 471h25v2h-25zM383 471h9v2h-9zM603 471h19v2h-19zM303 469h28v2h-28zM386 469h8v2h-8zM601 469h23v2h-23zM288 467h38v2h-38zM390 467h8v2h-8zM601 467h25v2h-25zM284 465h40v2h-40zM392 465h8v2h-8zM601 465h27v2h-27zM282 463h36v2h-36zM396 463h9v2h-9zM603 463h28v2h-28zM278 461h36v2h-36zM400 461h7v2h-7zM603 461h30v2h-30zM276 459h34v2h-34zM402 459h7v2h-7zM603 459h30v2h-30zM274 456h31v3h-31zM405 456h8v3h-8zM605 456h30v3h-30zM269 454h26v2h-26zM407 454h8v2h-8zM605 454h30v2h-30zM269 452h22v2h-22zM411 452h6v2h-6zM605 452h32v2h-32zM267 450h19v2h-19zM413 450h6v2h-6zM605 450h32v2h-32zM267 448h15v2h-15zM415 448h6v2h-6zM605 448h32v2h-32zM265 446h15v2h-15zM417 446h7v2h-7zM605 446h30v2h-30zM263 444h15v2h-15zM419 444h7v2h-7zM607 444h28v2h-28zM261 442h15v2h-15zM421 442h7v2h-7zM453 442h11v2h-11zM607 442h26v2h-26zM259 439h17v3h-17zM424 439h52v3h-52zM607 439h24v3h-24zM257 437h17v2h-17zM426 437h55v2h-55zM609 437h22v2h-22zM257 435h17v2h-17zM430 435h8v2h-8zM474 435h15v2h-15zM612 435h14v2h-14zM255 433h16v2h-16zM478 433h15v2h-15zM506 433h13v2h-13zM616 433h6v2h-6zM255 431h16v2h-16zM489 431h42v2h-42zM255 429h16v2h-16zM491 429h42v2h-42zM255 427h14v2h-14zM495 427h38v2h-38zM255 424h14v3h-14zM519 424h14v3h-14zM255 422h12v2h-12zM523 422h10v2h-10zM255 420h12v2h-12zM523 420h10v2h-10zM255 418h12v2h-12zM525 418h8v2h-8zM255 416h12v2h-12zM525 416h10v2h-10zM255 414h10v2h-10zM523 414h12v2h-12zM255 412h10v2h-10zM523 412h15v2h-15zM255 409h10v3h-10zM519 409h16v3h-16zM257 407h8v2h-8zM516 407h9v2h-9zM257 405h8v2h-8zM457 405h5v2h-5zM510 405h11v2h-11zM257 403h8v2h-8zM455 403h13v2h-13zM506 403h8v2h-8zM257 401h8v2h-8zM455 401h21v2h-21zM502 401h6v2h-6zM259 399h6v2h-6zM455 399h28v2h-28zM500 399h4v2h-4zM259 397h8v2h-8zM453 397h9v2h-9zM476 397h13v2h-13zM500 397h2v2h-2zM261 394h6v3h-6zM453 394h6v3h-6zM487 394h6v3h-6zM497 394h5v3h-5zM595 394h14v3h-14zM261 392h8v2h-8zM453 392h6v2h-6zM489 392h11v2h-11zM590 392h28v2h-28zM263 390h6v2h-6zM453 390h6v2h-6zM491 390h6v2h-6zM588 390h34v2h-34zM263 388h8v2h-8zM453 388h6v2h-6zM491 388h4v2h-4zM586 388h40v2h-40zM265 386h9v2h-9zM453 386h6v2h-6zM582 386h46v2h-46zM267 384h9v2h-9zM453 384h6v2h-6zM489 384h2v2h-2zM580 384h10v2h-10zM605 384h28v2h-28zM269 381h11v3h-11zM453 381h6v3h-6zM578 381h10v3h-10zM609 381h32v3h-32zM274 379h10v2h-10zM455 379h4v2h-4zM578 379h8v2h-8zM616 379h25v2h-25zM278 377h10v2h-10zM455 377h4v2h-4zM578 377h6v2h-6zM618 377h23v2h-23zM282 375h6v2h-6zM455 375h7v2h-7zM576 375h6v2h-6zM622 375h19v2h-19zM284 373h7v2h-7zM457 373h5v2h-5zM576 373h6v2h-6zM624 373h17v2h-17zM288 371h5v2h-5zM459 371h5v2h-5zM576 371h4v2h-4zM626 371h15v2h-15zM291 369h4v2h-4zM459 369h5v2h-5zM573 369h7v2h-7zM628 369h13v2h-13zM293 366h6v3h-6zM462 366h4v3h-4zM573 366h5v3h-5zM633 366h8v3h-8zM295 364h6v2h-6zM462 364h4v2h-4zM571 364h5v2h-5zM297 362h6v2h-6zM462 362h4v2h-4zM569 362h7v2h-7zM299 360h6v2h-6zM464 360h4v2h-4zM567 360h6v2h-6zM301 358h6v2h-6zM464 358h6v2h-6zM563 358h8v2h-8zM303 356h7v2h-7zM466 356h6v2h-6zM512 356h4v2h-4zM559 356h10v2h-10zM307 353h7v3h-7zM468 353h6v3h-6zM508 353h11v3h-11zM554 353h11v3h-11zM310 351h8v2h-8zM468 351h8v2h-8zM508 351h8v2h-8zM552 351h7v2h-7zM312 349h8v2h-8zM468 349h8v2h-8zM508 349h6v2h-6zM550 349h7v2h-7zM314 347h8v2h-8zM468 347h8v2h-8zM548 347h6v2h-6zM316 345h8v2h-8zM468 345h6v2h-6zM546 345h8v2h-8zM318 342h6v3h-6zM468 342h6v3h-6zM542 342h10v3h-10zM320 340h6v2h-6zM468 340h4v2h-4zM538 340h10v2h-10zM322 338h4v2h-4zM466 338h6v2h-6zM535 338h11v2h-11zM322 336h7v2h-7zM466 336h6v2h-6zM533 336h11v2h-11zM324 334h5v2h-5zM466 334h6v2h-6zM531 334h11v2h-11zM324 332h7v2h-7zM466 332h6v2h-6zM529 332h11v2h-11zM326 329h7v3h-7zM464 329h8v3h-8zM525 329h13v3h-13zM326 327h9v2h-9zM464 327h6v2h-6zM523 327h12v2h-12zM329 325h10v2h-10zM464 325h6v2h-6zM521 325h10v2h-10zM331 323h14v2h-14zM464 323h6v2h-6zM519 323h10v2h-10zM333 321h17v2h-17zM371 321h6v2h-6zM464 321h6v2h-6zM516 321h11v2h-11zM348 318h19v3h-19zM369 318h2v3h-2zM375 318h6v3h-6zM462 318h8v3h-8zM510 318h13v3h-13zM379 316h11v2h-11zM457 316h13v2h-13zM504 316h15v2h-15zM381 314h11v2h-11zM455 314h13v2h-13zM500 314h16v2h-16zM386 312h10v2h-10zM407 312h6v2h-6zM436 312h11v2h-11zM451 312h17v2h-17zM495 312h17v2h-17zM388 310h38v2h-38zM430 310h36v2h-36zM493 310h13v2h-13zM392 308h70v2h-70zM491 308h11v2h-11zM394 305h65v3h-65zM491 305h11v3h-11zM398 303h61v2h-61zM489 303h13v2h-13zM402 301h60v2h-60zM489 301h15v2h-15zM405 299h57v2h-57zM489 299h17v2h-17zM407 297h55v2h-55zM491 297h23v2h-23zM409 294h53v3h-53zM491 294h25v3h-25zM411 292h51v2h-51zM495 292h21v2h-21zM415 290h47v2h-47zM497 290h19v2h-19zM419 288h40v2h-40zM500 288h19v2h-19zM421 286h36v2h-36zM502 286h17v2h-17zM426 283h29v3h-29zM504 283h15v3h-15zM430 281h23v2h-23zM504 281h12v2h-12zM436 279h13v2h-13zM506 279h6v2h-6zM440 277h5v2h-5zM506 277h6v2h-6zM506 274h6v3h-6zM504 272h6v2h-6zM502 270h6v2h-6zM502 268h4v2h-4zM502 266h4v2h-4zM502 263h4v3h-4zM495 261h11v2h-11zM489 259h15v2h-15zM487 257h15v2h-15zM485 254h12v3h-12zM483 252h12v2h-12zM481 250h12v2h-12zM481 248h10v2h-10zM478 246h11v2h-11zM478 243h7v3h-7zM476 241h5v2h-5zM474 239h7v2h-7zM472 237h9v2h-9zM472 234h6v3h-6zM470 232h6v2h-6zM468 230h8v2h-8zM466 228h8v2h-8zM464 225h8v3h-8zM462 223h8v2h-8zM462 221h8v2h-8zM459 219h11v2h-11zM459 216h9v3h-9zM459 214h9v2h-9zM459 212h7v2h-7zM459 209h7v3h-7zM457 207h9v2h-9zM457 205h9v2h-9zM457 203h9v2h-9zM457 200h9v3h-9zM457 198h9v2h-9zM459 196h7v2h-7zM459 194h7v2h-7zM462 191h6v3h-6zM464 189h6v2h-6zM466 187h4v2h-4zM468 184h4v3h-4zM470 182h2v2h-2zM470 180h4v2h-4zM472 178h4v2h-4zM474 175h2v3h-2zM474 173h4v2h-4zM476 171h2v2h-2zM476 168h5v3h-5zM478 166h5v2h-5zM481 164h2v2h-2zM481 161h6v3h-6zM483 159h6v2h-6zM485 157h4v2h-4zM485 155h6v2h-6zM487 152h6v3h-6zM487 150h6v2h-6zM489 148h6v2h-6zM533 148h5v2h-5zM489 145h6v3h-6zM529 145h11v3h-11zM491 143h6v2h-6zM529 143h13v2h-13zM491 141h6v2h-6zM529 141h11v2h-11zM491 138h6v3h-6zM531 138h7v3h-7zM491 136h9v2h-9zM491 134h9v2h-9zM491 131h9v3h-9zM491 129h9v2h-9zM491 127h11v2h-11zM493 124h9v3h-9zM523 124h6v3h-6zM493 122h11v2h-11zM523 122h6v2h-6zM493 120h11v2h-11zM523 120h4v2h-4zM495 117h11v3h-11zM495 115h11v2h-11zM495 113h13v2h-13zM497 110h11v3h-11zM497 108h11v2h-11zM590 108h13v2h-13zM497 105h11v3h-11zM590 105h3v3h-3zM603 105h2v3h-2zM497 103h11v2h-11zM588 103h5v2h-5zM605 103h2v2h-2zM497 101h11v2h-11zM588 101h5v2h-5zM605 101h4v2h-4zM497 98h11v3h-11zM588 98h7v3h-7zM605 98h4v3h-4zM497 96h11v2h-11zM590 96h7v2h-7zM605 96h4v2h-4zM500 94h8v2h-8zM590 94h9v2h-9zM603 94h4v2h-4zM500 91h10v3h-10zM593 91h14v3h-14zM502 89h8v2h-8zM593 89h10v2h-10zM502 86h8v3h-8zM502 84h10v2h-10zM504 82h8v2h-8zM504 79h10v3h-10zM506 77h10v2h-10zM618 77h6v2h-6zM508 74h8v3h-8zM616 74h15v3h-15zM510 72h9v2h-9zM614 72h8v2h-8zM628 72h5v2h-5zM512 70h7v2h-7zM612 70h8v2h-8zM631 70h2v2h-2zM512 67h9v3h-9zM612 67h8v3h-8zM631 67h4v3h-4zM514 65h9v2h-9zM609 65h24v2h-24zM516 62h9v3h-9zM609 62h22v3h-22zM516 60h11v2h-11zM612 60h12v2h-12zM516 58h11v2h-11zM519 55h10v3h-10zM521 53h10v2h-10zM521 50h10v3h-10zM521 48h12v2h-12zM523 45h10v3h-10zM523 43h12v2h-12zM525 41h13v2h-13zM527 38h13v3h-13zM527 36h15v2h-15zM529 33h17v3h-17z"/>
<path fill="#0080ff" d="M360 482h2v2h-2zM354 480h13v2h-13zM350 478h21v2h-21zM345 476h28v2h-28zM341 473h38v3h-38zM335 471h21v2h-21zM369 471h14v2h-14zM331 469h21v2h-21zM373 469h13v2h-13zM326 467h22v2h-22zM379 467h11v2h-11zM324 465h19v2h-19zM383 465h9v2h-9zM318 463h21v2h-21zM386 463h10v2h-10zM314 461h19v2h-19zM390 461h10v2h-10zM310 459h19v2h-19zM394 459h8v2h-8zM305 456h19v3h-19zM400 456h5v3h-5zM295 454h21v2h-21zM402 454h5v2h-5zM291 452h21v2h-21zM405 452h6v2h-6zM286 450h21v2h-21zM407 450h6v2h-6zM282 448h19v2h-19zM409 448h6v2h-6zM280 446h15v2h-15zM411 446h6v2h-6zM278 444h17v2h-17zM413 444h6v2h-6zM276 442h17v2h-17zM415 442h6v2h-6zM276 439h15v3h-15zM417 439h7v3h-7zM274 437h14v2h-14zM419 437h7v2h-7zM274 435h10v2h-10zM421 435h9v2h-9zM438 435h36v2h-36zM271 433h11v2h-11zM424 433h54v2h-54zM271 431h11v2h-11zM426 431h63v2h-63zM271 429h9v2h-9zM428 429h42v2h-42zM472 429h19v2h-19zM269 427h9v2h-9zM430 427h34v2h-34zM478 427h17v2h-17zM269 424h9v3h-9zM443 424h12v3h-12zM491 424h28v3h-28zM267 422h9v2h-9zM445 422h12v2h-12zM495 422h28v2h-28zM267 420h9v2h-9zM447 420h10v2h-10zM502 420h21v2h-21zM267 418h7v2h-7zM447 418h10v2h-10zM508 418h17v2h-17zM267 416h7v2h-7zM451 416h6v2h-6zM514 416h11v2h-11zM265 414h9v2h-9zM453 414h6v2h-6zM516 414h7v2h-7zM265 412h6v2h-6zM453 412h9v2h-9zM516 412h7v2h-7zM265 409h6v3h-6zM451 409h13v3h-13zM512 409h7v3h-7zM265 407h6v2h-6zM451 407h19v2h-19zM508 407h8v2h-8zM265 405h6v2h-6zM449 405h8v2h-8zM462 405h14v2h-14zM504 405h6v2h-6zM265 403h6v2h-6zM449 403h6v2h-6zM468 403h17v2h-17zM500 403h6v2h-6zM265 401h6v2h-6zM449 401h6v2h-6zM476 401h13v2h-13zM497 401h5v2h-5zM265 399h6v2h-6zM447 399h8v2h-8zM483 399h17v2h-17zM267 397h7v2h-7zM447 397h6v2h-6zM489 397h11v2h-11zM267 394h7v3h-7zM447 394h6v3h-6zM493 394h4v3h-4zM269 392h7v2h-7zM447 392h6v2h-6zM269 390h9v2h-9zM447 390h6v2h-6zM271 388h9v2h-9zM447 388h6v2h-6zM274 386h8v2h-8zM447 386h6v2h-6zM276 384h8v2h-8zM447 384h6v2h-6zM590 384h15v2h-15zM280 381h8v3h-8zM449 381h4v3h-4zM588 381h21v3h-21zM284 379h7v2h-7zM449 379h6v2h-6zM586 379h30v2h-30zM288 377h3v2h-3zM449 377h6v2h-6zM584 377h34v2h-34zM288 375h5v2h-5zM451 375h4v2h-4zM582 375h40v2h-40zM291 373h4v2h-4zM451 373h6v2h-6zM582 373h13v2h-13zM601 373h23v2h-23zM293 371h6v2h-6zM453 371h6v2h-6zM580 371h10v2h-10zM605 371h21v2h-21zM295 369h6v2h-6zM453 369h6v2h-6zM580 369h8v2h-8zM609 369h19v2h-19zM299 366h4v3h-4zM455 366h7v3h-7zM578 366h8v3h-8zM612 366h21v3h-21zM301 364h6v2h-6zM457 364h5v2h-5zM576 364h8v2h-8zM614 364h27v2h-27zM303 362h7v2h-7zM457 362h5v2h-5zM576 362h6v2h-6zM616 362h25v2h-25zM305 360h9v2h-9zM459 360h5v2h-5zM573 360h7v2h-7zM618 360h23v2h-23zM307 358h9v2h-9zM459 358h5v2h-5zM571 358h7v2h-7zM620 358h21v2h-21zM310 356h8v2h-8zM459 356h7v2h-7zM569 356h7v2h-7zM622 356h19v2h-19zM314 353h8v3h-8zM462 353h6v3h-6zM565 353h8v3h-8zM626 353h15v3h-15zM318 351h6v2h-6zM462 351h6v2h-6zM559 351h10v2h-10zM628 351h13v2h-13zM320 349h6v2h-6zM462 349h6v2h-6zM557 349h10v2h-10zM322 347h7v2h-7zM462 347h6v2h-6zM554 347h9v2h-9zM324 345h5v2h-5zM462 345h6v2h-6zM554 345h7v2h-7zM324 342h7v3h-7zM462 342h6v3h-6zM552 342h7v3h-7zM326 340h7v2h-7zM459 340h9v2h-9zM548 340h9v2h-9zM326 338h7v2h-7zM459 338h7v2h-7zM546 338h8v2h-8zM329 336h6v2h-6zM459 336h7v2h-7zM544 336h10v2h-10zM329 334h8v2h-8zM457 334h9v2h-9zM542 334h10v2h-10zM331 332h8v2h-8zM457 332h9v2h-9zM540 332h10v2h-10zM333 329h10v3h-10zM453 329h11v3h-11zM538 329h10v3h-10zM335 327h13v2h-13zM451 327h13v2h-13zM535 327h11v2h-11zM339 325h13v2h-13zM447 325h17v2h-17zM531 325h13v2h-13zM345 323h19v2h-19zM369 323h10v2h-10zM432 323h32v2h-32zM529 323h11v2h-11zM350 321h21v2h-21zM377 321h4v2h-4zM428 321h36v2h-36zM527 321h11v2h-11zM367 318h2v3h-2zM381 318h13v3h-13zM405 318h12v3h-12zM424 318h38v3h-38zM523 318h12v3h-12zM390 316h8v2h-8zM402 316h55v2h-55zM519 316h12v2h-12zM392 314h63v2h-63zM516 314h11v2h-11zM396 312h11v2h-11zM413 312h23v2h-23zM447 312h4v2h-4zM512 312h13v2h-13zM426 310h4v2h-4zM506 310h17v2h-17zM502 308h19v2h-19zM502 305h17v3h-17zM502 303h17v2h-17zM504 301h15v2h-15zM506 299h13v2h-13zM514 297h5v2h-5zM516 294h5v3h-5zM516 292h5v2h-5zM516 290h7v2h-7zM519 288h4v2h-4zM519 286h4v2h-4zM519 283h2v3h-2zM516 281h5v2h-5zM512 279h9v2h-9zM512 277h7v2h-7zM512 274h4v3h-4zM510 272h4v2h-4zM508 270h4v2h-4zM506 268h4v2h-4zM506 266h2v2h-2zM506 263h4v3h-4zM506 261h4v2h-4zM504 259h4v2h-4zM502 257h6v2h-6zM497 254h9v3h-9zM495 252h7v2h-7zM493 250h7v2h-7zM491 248h6v2h-6zM489 246h8v2h-8zM485 243h10v3h-10zM481 241h14v2h-14zM481 239h14v2h-14zM481 237h14v2h-14zM478 234h13v3h-13zM476 232h13v2h-13zM476 230h5v2h-5zM474 228h4v2h-4zM472 225h6v3h-6zM470 223h6v2h-6zM470 221h6v2h-6zM470 219h6v2h-6zM468 216h8v3h-8zM468 214h8v2h-8zM466 212h8v2h-8zM466 209h8v3h-8zM466 207h8v2h-8zM466 205h6v2h-6zM466 203h6v2h-6zM466 200h6v3h-6zM466 198h6v2h-6zM466 196h6v2h-6zM466 194h6v2h-6zM468 191h6v3h-6zM470 189h4v2h-4zM470 187h4v2h-4zM472 184h4v3h-4zM472 182h4v2h-4zM474 180h4v2h-4zM476 178h2v2h-2zM476 175h5v3h-5zM478 173h3v2h-3zM478 171h5v2h-5zM481 168h4v3h-4zM483 166h4v2h-4zM483 164h6v2h-6zM487 161h6v3h-6zM489 159h6v2h-6zM489 157h8v2h-8zM491 155h6v2h-6zM493 152h7v3h-7zM493 150h7v2h-7zM529 150h11v2h-11zM495 148h7v2h-7zM527 148h6v2h-6zM538 148h4v2h-4zM495 145h9v3h-9zM525 145h4v3h-4zM540 145h4v3h-4zM497 143h9v2h-9zM525 143h4v2h-4zM542 143h2v2h-2zM497 141h9v2h-9zM525 141h4v2h-4zM540 141h4v2h-4zM497 138h11v3h-11zM525 138h6v3h-6zM538 138h4v3h-4zM500 136h10v2h-10zM521 136h21v2h-21zM554 136h5v2h-5zM500 134h42v2h-42zM554 134h5v2h-5zM500 131h40v3h-40zM500 129h38v2h-38zM502 127h33v2h-33zM502 124h21v3h-21zM529 124h6v3h-6zM504 122h19v2h-19zM529 122h6v2h-6zM504 120h19v2h-19zM527 120h6v2h-6zM506 117h27v3h-27zM506 115h25v2h-25zM508 113h21v2h-21zM508 110h15v3h-15zM590 110h11v3h-11zM508 108h11v2h-11zM586 108h4v2h-4zM603 108h2v2h-2zM508 105h11v3h-11zM584 105h6v3h-6zM605 105h4v3h-4zM508 103h11v2h-11zM582 103h6v2h-6zM607 103h5v2h-5zM508 101h11v2h-11zM582 101h6v2h-6zM609 101h3v2h-3zM508 98h11v3h-11zM580 98h8v3h-8zM609 98h3v3h-3zM508 96h11v2h-11zM578 96h12v2h-12zM609 96h3v2h-3zM508 94h11v2h-11zM576 94h14v2h-14zM607 94h5v2h-5zM510 91h9v3h-9zM565 91h28v3h-28zM607 91h5v3h-5zM510 89h9v2h-9zM561 89h32v2h-32zM603 89h9v2h-9zM510 86h11v3h-11zM559 86h53v3h-53zM512 84h11v2h-11zM557 84h52v2h-52zM512 82h11v2h-11zM554 82h51v2h-51zM612 82h10v2h-10zM514 79h11v3h-11zM554 79h49v3h-49zM612 79h14v3h-14zM516 77h11v2h-11zM552 77h51v2h-51zM612 77h6v2h-6zM624 77h7v2h-7zM516 74h13v3h-13zM552 74h64v3h-64zM631 74h2v3h-2zM519 72h12v2h-12zM548 72h66v2h-66zM633 72h2v2h-2zM519 70h19v2h-19zM546 70h66v2h-66zM633 70h4v2h-4zM521 67h91v3h-91zM635 67h2v3h-2zM523 65h86v2h-86zM633 65h4v2h-4zM525 62h84v3h-84zM631 62h2v3h-2zM527 60h85v2h-85zM624 60h7v2h-7zM527 58h104v2h-104zM529 55h97v3h-97zM531 53h87v2h-87zM531 50h76v3h-76zM533 48h70v2h-70zM533 45h68v3h-68zM535 43h62v2h-62zM538 41h57v2h-57zM540 38h53v3h-53zM542 36h51v2h-51zM546 33h44v3h-44z"/>
<path fill="#0095ff" d="M356 471h13v2h-13zM352 469h21v2h-21zM348 467h31v2h-31zM343 465h40v2h-40zM339 463h47v2h-47zM333 461h25v2h-25zM373 461h17v2h-17zM329 459h21v2h-21zM381 459h13v2h-13zM324 456h21v3h-21zM388 456h12v3h-12zM316 454h19v2h-19zM396 454h6v2h-6zM312 452h14v2h-14zM400 452h5v2h-5zM307 450h15v2h-15zM402 450h5v2h-5zM301 448h17v2h-17zM405 448h4v2h-4zM295 446h17v2h-17zM407 446h4v2h-4zM295 444h15v2h-15zM409 444h4v2h-4zM293 442h17v2h-17zM409 442h6v2h-6zM291 439h16v3h-16zM411 439h6v3h-6zM288 437h15v2h-15zM411 437h8v2h-8zM284 435h15v2h-15zM413 435h8v2h-8zM282 433h15v2h-15zM417 433h7v2h-7zM282 431h13v2h-13zM421 431h5v2h-5zM280 429h11v2h-11zM421 429h7v2h-7zM470 429h2v2h-2zM278 427h13v2h-13zM424 427h6v2h-6zM464 427h14v2h-14zM278 424h10v3h-10zM426 424h17v3h-17zM455 424h36v3h-36zM276 422h8v2h-8zM428 422h17v2h-17zM457 422h38v2h-38zM276 420h8v2h-8zM430 420h17v2h-17zM457 420h26v2h-26zM491 420h11v2h-11zM274 418h8v2h-8zM432 418h15v2h-15zM457 418h21v2h-21zM493 418h15v2h-15zM274 416h8v2h-8zM436 416h15v2h-15zM457 416h19v2h-19zM497 416h17v2h-17zM274 414h6v2h-6zM438 414h15v2h-15zM459 414h17v2h-17zM500 414h16v2h-16zM271 412h9v2h-9zM440 412h13v2h-13zM462 412h16v2h-16zM500 412h2v2h-2zM506 412h10v2h-10zM271 409h7v3h-7zM443 409h8v3h-8zM464 409h19v3h-19zM506 409h6v3h-6zM271 407h7v2h-7zM443 407h8v2h-8zM470 407h17v2h-17zM500 407h8v2h-8zM271 405h7v2h-7zM443 405h6v2h-6zM476 405h13v2h-13zM497 405h7v2h-7zM271 403h7v2h-7zM443 403h6v2h-6zM485 403h15v2h-15zM271 401h7v2h-7zM443 401h6v2h-6zM489 401h8v2h-8zM271 399h7v2h-7zM443 399h4v2h-4zM274 397h6v2h-6zM443 397h4v2h-4zM274 394h6v3h-6zM443 394h4v3h-4zM276 392h6v2h-6zM443 392h4v2h-4zM278 390h6v2h-6zM443 390h4v2h-4zM280 388h6v2h-6zM443 388h4v2h-4zM282 386h6v2h-6zM443 386h4v2h-4zM284 384h7v2h-7zM443 384h4v2h-4zM288 381h5v3h-5zM443 381h6v3h-6zM291 379h4v2h-4zM443 379h6v2h-6zM291 377h6v2h-6zM443 377h6v2h-6zM293 375h6v2h-6zM445 375h6v2h-6zM295 373h8v2h-8zM445 373h6v2h-6zM595 373h6v2h-6zM299 371h6v2h-6zM445 371h8v2h-8zM590 371h15v2h-15zM301 369h9v2h-9zM445 369h8v2h-8zM588 369h21v2h-21zM303 366h9v3h-9zM447 366h8v3h-8zM586 366h26v3h-26zM307 364h9v2h-9zM447 364h10v2h-10zM584 364h30v2h-30zM310 362h10v2h-10zM447 362h10v2h-10zM582 362h34v2h-34zM314 360h8v2h-8zM447 360h12v2h-12zM580 360h38v2h-38zM316 358h8v2h-8zM447 358h12v2h-12zM578 358h15v2h-15zM599 358h21v2h-21zM318 356h8v2h-8zM447 356h12v2h-12zM576 356h12v2h-12zM603 356h19v2h-19zM322 353h7v3h-7zM447 353h15v3h-15zM573 353h11v3h-11zM605 353h21v3h-21zM324 351h7v2h-7zM445 351h17v2h-17zM569 351h13v2h-13zM609 351h19v2h-19zM326 349h7v2h-7zM445 349h17v2h-17zM567 349h11v2h-11zM609 349h32v2h-32zM329 347h6v2h-6zM443 347h19v2h-19zM563 347h13v2h-13zM612 347h29v2h-29zM329 345h8v2h-8zM443 345h19v2h-19zM561 345h12v2h-12zM614 345h27v2h-27zM331 342h8v3h-8zM440 342h22v3h-22zM559 342h12v3h-12zM618 342h23v3h-23zM333 340h8v2h-8zM438 340h21v2h-21zM557 340h12v2h-12zM622 340h19v2h-19zM333 338h10v2h-10zM434 338h25v2h-25zM554 338h13v2h-13zM628 338h13v2h-13zM335 336h10v2h-10zM430 336h29v2h-29zM554 336h11v2h-11zM635 336h6v2h-6zM337 334h11v2h-11zM426 334h31v2h-31zM552 334h11v2h-11zM339 332h11v2h-11zM424 332h33v2h-33zM550 332h9v2h-9zM343 329h15v3h-15zM421 329h32v3h-32zM548 329h11v3h-11zM348 327h31v2h-31zM413 327h38v2h-38zM546 327h11v2h-11zM352 325h34v2h-34zM407 325h40v2h-40zM544 325h10v2h-10zM364 323h5v2h-5zM379 323h15v2h-15zM405 323h27v2h-27zM540 323h12v2h-12zM381 321h17v2h-17zM402 321h26v2h-26zM538 321h12v2h-12zM394 318h11v3h-11zM417 318h7v3h-7zM535 318h13v3h-13zM398 316h4v2h-4zM531 316h13v2h-13zM527 314h15v2h-15zM525 312h13v2h-13zM523 310h12v2h-12zM521 308h10v2h-10zM519 305h10v3h-10zM519 303h6v2h-6zM519 301h6v2h-6zM519 299h4v2h-4zM519 297h6v2h-6zM521 294h6v3h-6zM521 292h6v2h-6zM523 290h6v2h-6zM523 288h6v2h-6zM523 286h4v2h-4zM521 283h6v3h-6zM521 281h4v2h-4zM521 279h2v2h-2zM519 277h4v2h-4zM516 274h5v3h-5zM514 272h5v2h-5zM512 270h7v2h-7zM510 268h6v2h-6zM508 266h6v2h-6zM510 263h2v3h-2zM510 261h2v2h-2zM508 259h4v2h-4zM508 257h2v2h-2zM506 254h2v3h-2zM502 252h6v2h-6zM500 250h6v2h-6zM497 248h7v2h-7zM497 246h5v2h-5zM495 243h7v3h-7zM495 241h5v2h-5zM495 239h5v2h-5zM495 237h5v2h-5zM491 234h6v3h-6zM489 232h8v2h-8zM481 230h14v2h-14zM478 228h15v2h-15zM478 225h13v3h-13zM476 223h9v2h-9zM476 221h7v2h-7zM476 219h5v2h-5zM476 216h5v3h-5zM476 214h7v2h-7zM474 212h7v2h-7zM474 209h7v3h-7zM474 207h4v2h-4zM472 205h6v2h-6zM472 203h6v2h-6zM472 200h6v3h-6zM472 198h6v2h-6zM472 196h6v2h-6zM472 194h6v2h-6zM474 191h4v3h-4zM474 189h4v2h-4zM474 187h4v2h-4zM476 184h5v3h-5zM476 182h5v2h-5zM478 180h5v2h-5zM478 178h5v2h-5zM481 175h4v3h-4zM481 173h4v2h-4zM483 171h4v2h-4zM485 168h12v3h-12zM487 166h10v2h-10zM489 164h11v2h-11zM493 161h9v3h-9zM495 159h9v2h-9zM497 157h9v2h-9zM497 155h11v2h-11zM500 152h10v3h-10zM527 152h15v3h-15zM500 150h29v2h-29zM540 150h6v2h-6zM502 148h25v2h-25zM542 148h6v2h-6zM504 145h21v3h-21zM544 145h6v3h-6zM506 143h19v2h-19zM544 143h15v2h-15zM506 141h19v2h-19zM544 141h17v2h-17zM508 138h17v3h-17zM542 138h21v3h-21zM510 136h11v2h-11zM542 136h12v2h-12zM559 136h4v2h-4zM542 134h12v2h-12zM559 134h4v2h-4zM540 131h23v3h-23zM538 129h21v2h-21zM535 127h15v2h-15zM535 124h9v3h-9zM535 122h7v2h-7zM533 120h7v2h-7zM533 117h7v3h-7zM531 115h9v2h-9zM593 115h6v2h-6zM529 113h9v2h-9zM586 113h17v2h-17zM523 110h12v3h-12zM582 110h8v3h-8zM601 110h4v3h-4zM519 108h16v2h-16zM578 108h8v2h-8zM605 108h7v2h-7zM519 105h16v3h-16zM571 105h13v3h-13zM609 105h5v3h-5zM519 103h16v2h-16zM557 103h25v2h-25zM612 103h4v2h-4zM519 101h16v2h-16zM554 101h28v2h-28zM612 101h4v2h-4zM519 98h14v3h-14zM550 98h30v3h-30zM612 98h4v3h-4zM519 96h14v2h-14zM548 96h30v2h-30zM612 96h4v2h-4zM519 94h16v2h-16zM544 94h32v2h-32zM612 94h4v2h-4zM519 91h46v3h-46zM612 91h4v3h-4zM519 89h42v2h-42zM612 89h8v2h-8zM521 86h38v3h-38zM612 86h12v3h-12zM523 84h34v2h-34zM609 84h19v2h-19zM523 82h31v2h-31zM605 82h7v2h-7zM622 82h9v2h-9zM525 79h29v3h-29zM603 79h9v3h-9zM626 79h5v3h-5zM527 77h25v2h-25zM603 77h9v2h-9zM631 77h2v2h-2zM529 74h23v3h-23zM633 74h6v3h-6zM531 72h17v2h-17zM635 72h6v2h-6zM538 70h8v2h-8zM637 70h4v2h-4zM637 67h4v3h-4zM637 65h4v2h-4zM633 62h8v3h-8zM631 60h8v2h-8zM631 58h8v2h-8zM626 55h11v3h-11zM618 53h17v2h-17zM607 50h24v3h-24zM603 48h25v2h-25zM601 45h15v3h-15zM597 43h17v2h-17zM595 41h19v2h-19zM593 38h19v3h-19zM593 36h19v2h-19zM590 33h22v3h-22z"/>
<path fill="#00aaff" d="M358 461h15v2h-15zM350 459h31v2h-31zM345 456h43v3h-43zM335 454h61v2h-61zM326 452h43v2h-43zM383 452h17v2h-17zM322 450h23v2h-23zM392 450h10v2h-10zM318 448h21v2h-21zM398 448h7v2h-7zM312 446h14v2h-14zM402 446h5v2h-5zM310 444h14v2h-14zM405 444h4v2h-4zM310 442h14v2h-14zM405 442h4v2h-4zM307 439h17v3h-17zM407 439h4v3h-4zM303 437h13v2h-13zM407 437h4v2h-4zM299 435h15v2h-15zM407 435h6v2h-6zM297 433h13v2h-13zM409 433h8v2h-8zM295 431h15v2h-15zM411 431h10v2h-10zM291 429h16v2h-16zM415 429h6v2h-6zM291 427h14v2h-14zM417 427h7v2h-7zM288 424h13v3h-13zM419 424h7v3h-7zM284 422h15v2h-15zM424 422h4v2h-4zM284 420h13v2h-13zM424 420h6v2h-6zM483 420h8v2h-8zM282 418h13v2h-13zM426 418h6v2h-6zM478 418h15v2h-15zM282 416h9v2h-9zM428 416h8v2h-8zM476 416h21v2h-21zM280 414h11v2h-11zM430 414h8v2h-8zM476 414h13v2h-13zM491 414h9v2h-9zM280 412h8v2h-8zM432 412h8v2h-8zM478 412h11v2h-11zM495 412h5v2h-5zM502 412h4v2h-4zM278 409h8v3h-8zM436 409h7v3h-7zM483 409h8v3h-8zM497 409h9v3h-9zM278 407h8v2h-8zM436 407h7v2h-7zM487 407h13v2h-13zM278 405h6v2h-6zM436 405h7v2h-7zM489 405h8v2h-8zM278 403h8v2h-8zM438 403h5v2h-5zM278 401h8v2h-8zM438 401h5v2h-5zM278 399h8v2h-8zM438 399h5v2h-5zM280 397h8v2h-8zM438 397h5v2h-5zM280 394h8v3h-8zM438 394h5v3h-5zM282 392h9v2h-9zM438 392h5v2h-5zM284 390h9v2h-9zM438 390h5v2h-5zM286 388h9v2h-9zM438 388h5v2h-5zM288 386h9v2h-9zM438 386h5v2h-5zM291 384h8v2h-8zM438 384h5v2h-5zM293 381h8v3h-8zM438 381h5v3h-5zM295 379h8v2h-8zM438 379h5v2h-5zM297 377h10v2h-10zM438 377h5v2h-5zM299 375h11v2h-11zM438 375h7v2h-7zM303 373h9v2h-9zM438 373h7v2h-7zM305 371h11v2h-11zM438 371h7v2h-7zM310 369h8v2h-8zM438 369h7v2h-7zM312 366h10v3h-10zM438 366h9v3h-9zM316 364h10v2h-10zM438 364h9v2h-9zM320 362h6v2h-6zM438 362h9v2h-9zM322 360h7v2h-7zM438 360h9v2h-9zM324 358h7v2h-7zM436 358h11v2h-11zM593 358h6v2h-6zM326 356h7v2h-7zM436 356h11v2h-11zM588 356h15v2h-15zM329 353h8v3h-8zM434 353h13v3h-13zM584 353h21v3h-21zM331 351h8v2h-8zM434 351h11v2h-11zM582 351h27v2h-27zM333 349h8v2h-8zM432 349h13v2h-13zM578 349h31v2h-31zM335 347h8v2h-8zM430 347h13v2h-13zM576 347h36v2h-36zM337 345h8v2h-8zM426 345h17v2h-17zM573 345h41v2h-41zM339 342h9v3h-9zM417 342h23v3h-23zM571 342h47v3h-47zM341 340h9v2h-9zM413 340h25v2h-25zM569 340h53v2h-53zM343 338h11v2h-11zM411 338h23v2h-23zM567 338h61v2h-61zM345 336h13v2h-13zM407 336h23v2h-23zM565 336h70v2h-70zM348 334h16v2h-16zM405 334h21v2h-21zM563 334h21v2h-21zM597 334h44v2h-44zM350 332h27v2h-27zM405 332h19v2h-19zM559 332h21v2h-21zM601 332h40v2h-40zM358 329h63v3h-63zM559 329h19v3h-19zM607 329h34v3h-34zM379 327h34v2h-34zM557 327h16v2h-16zM614 327h27v2h-27zM386 325h21v2h-21zM554 325h17v2h-17zM622 325h19v2h-19zM394 323h11v2h-11zM552 323h17v2h-17zM631 323h10v2h-10zM398 321h4v2h-4zM550 321h17v2h-17zM637 321h4v2h-4zM548 318h15v3h-15zM544 316h17v2h-17zM542 314h15v2h-15zM538 312h16v2h-16zM535 310h17v2h-17zM531 308h17v2h-17zM529 305h13v3h-13zM525 303h13v2h-13zM525 301h10v2h-10zM523 299h12v2h-12zM525 297h10v2h-10zM527 294h8v3h-8zM527 292h8v2h-8zM529 290h6v2h-6zM529 288h4v2h-4zM527 286h6v2h-6zM527 283h6v3h-6zM525 281h6v2h-6zM523 279h6v2h-6zM523 277h6v2h-6zM521 274h6v3h-6zM519 272h6v2h-6zM519 270h4v2h-4zM516 268h5v2h-5zM514 266h5v2h-5zM512 263h7v3h-7zM512 261h4v2h-4zM512 259h4v2h-4zM510 257h4v2h-4zM508 254h4v3h-4zM508 252h2v2h-2zM506 250h4v2h-4zM504 248h6v2h-6zM502 246h6v2h-6zM502 243h4v3h-4zM500 241h6v2h-6zM500 239h6v2h-6zM500 237h4v2h-4zM497 234h7v3h-7zM497 232h7v2h-7zM495 230h7v2h-7zM493 228h9v2h-9zM491 225h9v3h-9zM485 223h12v2h-12zM483 221h14v2h-14zM481 219h14v2h-14zM481 216h14v3h-14zM483 214h14v2h-14zM481 212h21v2h-21zM481 209h19v3h-19zM478 207h17v2h-17zM478 205h15v2h-15zM478 203h13v2h-13zM478 200h11v3h-11zM478 198h11v2h-11zM478 196h11v2h-11zM478 194h11v2h-11zM478 191h13v3h-13zM478 189h13v2h-13zM478 187h11v2h-11zM481 184h8v3h-8zM481 182h8v2h-8zM483 180h6v2h-6zM483 178h6v2h-6zM485 175h6v3h-6zM485 173h12v2h-12zM487 171h13v2h-13zM497 168h7v3h-7zM497 166h13v2h-13zM500 164h12v2h-12zM502 161h12v3h-12zM504 159h15v2h-15zM506 157h19v2h-19zM531 157h11v2h-11zM508 155h36v2h-36zM510 152h17v3h-17zM542 152h6v3h-6zM546 150h11v2h-11zM548 148h13v2h-13zM550 145h13v3h-13zM559 143h6v2h-6zM561 141h6v2h-6zM563 138h4v3h-4zM563 136h4v2h-4zM563 134h4v2h-4zM563 131h4v3h-4zM559 129h8v2h-8zM550 127h15v2h-15zM544 124h19v3h-19zM542 122h21v2h-21zM540 120h23v2h-23zM540 117h23v3h-23zM586 117h17v3h-17zM540 115h31v2h-31zM576 115h17v2h-17zM599 115h8v2h-8zM538 113h48v2h-48zM603 113h9v2h-9zM535 110h47v3h-47zM605 110h11v3h-11zM535 108h43v2h-43zM612 108h8v2h-8zM535 105h36v3h-36zM614 105h6v3h-6zM535 103h22v2h-22zM616 103h6v2h-6zM535 101h19v2h-19zM616 101h6v2h-6zM533 98h17v3h-17zM616 98h8v3h-8zM533 96h15v2h-15zM616 96h8v2h-8zM535 94h9v2h-9zM616 94h10v2h-10zM616 91h15v3h-15zM620 89h13v2h-13zM624 86h11v3h-11zM628 84h9v2h-9zM631 82h8v2h-8zM631 79h10v3h-10zM633 77h8v2h-8zM639 74h2v3h-2zM639 60h2v2h-2zM639 58h2v2h-2zM637 55h4v3h-4zM635 53h6v2h-6zM631 50h10v3h-10zM628 48h13v2h-13zM616 45h25v3h-25zM614 43h27v2h-27zM614 41h27v2h-27zM612 38h29v3h-29zM612 36h29v2h-29zM612 33h29v3h-29z"/>
<path fill="#00bfff" d="M369 452h14v2h-14zM345 450h47v2h-47zM339 448h59v2h-59zM326 446h76v2h-76zM324 444h64v2h-64zM390 444h15v2h-15zM324 442h26v2h-26zM360 442h13v2h-13zM398 442h7v2h-7zM324 439h21v3h-21zM362 439h7v3h-7zM402 439h5v3h-5zM316 437h19v2h-19zM402 437h5v2h-5zM314 435h15v2h-15zM405 435h2v2h-2zM310 433h16v2h-16zM405 433h4v2h-4zM310 431h14v2h-14zM407 431h4v2h-4zM307 429h13v2h-13zM407 429h8v2h-8zM305 427h13v2h-13zM407 427h10v2h-10zM301 424h15v3h-15zM409 424h10v3h-10zM299 422h15v2h-15zM409 422h15v2h-15zM297 420h15v2h-15zM411 420h13v2h-13zM295 418h15v2h-15zM411 418h15v2h-15zM291 416h16v2h-16zM413 416h15v2h-15zM291 414h16v2h-16zM415 414h15v2h-15zM489 414h2v2h-2zM288 412h17v2h-17zM417 412h15v2h-15zM489 412h6v2h-6zM286 409h15v3h-15zM426 409h10v3h-10zM491 409h6v3h-6zM286 407h13v2h-13zM432 407h4v2h-4zM284 405h15v2h-15zM432 405h4v2h-4zM286 403h13v2h-13zM432 403h6v2h-6zM286 401h13v2h-13zM432 401h6v2h-6zM286 399h15v2h-15zM432 399h6v2h-6zM288 397h13v2h-13zM432 397h6v2h-6zM288 394h15v3h-15zM432 394h6v3h-6zM291 392h14v2h-14zM432 392h6v2h-6zM293 390h12v2h-12zM432 390h6v2h-6zM295 388h12v2h-12zM432 388h6v2h-6zM297 386h13v2h-13zM432 386h6v2h-6zM299 384h13v2h-13zM432 384h6v2h-6zM301 381h13v3h-13zM432 381h6v3h-6zM303 379h15v2h-15zM432 379h6v2h-6zM307 377h13v2h-13zM432 377h6v2h-6zM310 375h12v2h-12zM432 375h6v2h-6zM312 373h14v2h-14zM430 373h8v2h-8zM316 371h10v2h-10zM428 371h10v2h-10zM318 369h11v2h-11zM421 369h17v2h-17zM322 366h11v3h-11zM419 366h19v3h-19zM326 364h9v2h-9zM419 364h19v2h-19zM326 362h11v2h-11zM417 362h21v2h-21zM329 360h10v2h-10zM417 360h21v2h-21zM331 358h10v2h-10zM415 358h21v2h-21zM333 356h10v2h-10zM413 356h23v2h-23zM337 353h8v3h-8zM411 353h23v3h-23zM339 351h9v2h-9zM409 351h25v2h-25zM341 349h9v2h-9zM407 349h25v2h-25zM343 347h9v2h-9zM405 347h25v2h-25zM345 345h11v2h-11zM402 345h24v2h-24zM348 342h14v3h-14zM400 342h17v3h-17zM350 340h21v2h-21zM398 340h15v2h-15zM354 338h27v2h-27zM390 338h21v2h-21zM358 336h49v2h-49zM364 334h41v2h-41zM584 334h13v2h-13zM377 332h28v2h-28zM580 332h21v2h-21zM578 329h29v3h-29zM573 327h41v2h-41zM571 325h51v2h-51zM569 323h62v2h-62zM567 321h70v2h-70zM563 318h78v3h-78zM561 316h80v2h-80zM557 314h84v2h-84zM554 312h87v2h-87zM552 310h89v2h-89zM548 308h53v2h-53zM624 308h17v2h-17zM542 305h46v3h-46zM635 305h6v3h-6zM538 303h46v2h-46zM535 301h30v2h-30zM535 299h24v2h-24zM535 297h19v2h-19zM535 294h13v3h-13zM535 292h11v2h-11zM535 290h9v2h-9zM533 288h11v2h-11zM533 286h11v2h-11zM533 283h9v3h-9zM531 281h9v2h-9zM529 279h11v2h-11zM529 277h9v2h-9zM527 274h8v3h-8zM525 272h10v2h-10zM523 270h10v2h-10zM521 268h10v2h-10zM559 268h10v2h-10zM519 266h10v2h-10zM552 266h24v2h-24zM519 263h8v3h-8zM550 263h32v3h-32zM516 261h9v2h-9zM550 261h36v2h-36zM516 259h7v2h-7zM550 259h38v2h-38zM514 257h9v2h-9zM550 257h40v2h-40zM512 254h9v3h-9zM550 254h43v3h-43zM510 252h9v2h-9zM550 252h45v2h-45zM510 250h6v2h-6zM552 250h43v2h-43zM510 248h6v2h-6zM552 248h45v2h-45zM508 246h8v2h-8zM554 246h43v2h-43zM506 243h13v3h-13zM554 243h43v3h-43zM506 241h13v2h-13zM561 241h32v2h-32zM506 239h10v2h-10zM565 239h25v2h-25zM504 237h10v2h-10zM504 234h10v3h-10zM504 232h8v2h-8zM502 230h10v2h-10zM502 228h12v2h-12zM500 225h14v3h-14zM497 223h15v2h-15zM497 221h13v2h-13zM495 219h15v2h-15zM495 216h15v3h-15zM497 214h13v2h-13zM502 212h10v2h-10zM500 209h12v3h-12zM495 207h17v2h-17zM493 205h17v2h-17zM491 203h17v2h-17zM489 200h19v3h-19zM489 198h19v2h-19zM489 196h19v2h-19zM489 194h19v2h-19zM491 191h15v3h-15zM491 189h15v2h-15zM489 187h17v2h-17zM489 184h17v3h-17zM489 182h17v2h-17zM489 180h17v2h-17zM489 178h19v2h-19zM491 175h21v3h-21zM497 173h19v2h-19zM500 171h21v2h-21zM504 168h21v3h-21zM510 166h25v2h-25zM512 164h30v2h-30zM514 161h32v3h-32zM519 159h29v2h-29zM525 157h6v2h-6zM542 157h21v2h-21zM544 155h23v2h-23zM548 152h21v3h-21zM557 150h14v2h-14zM561 148h10v2h-10zM563 145h10v3h-10zM565 143h8v2h-8zM567 141h6v2h-6zM567 138h6v3h-6zM567 136h9v2h-9zM567 134h9v2h-9zM567 131h9v3h-9zM567 129h9v2h-9zM565 127h13v2h-13zM563 124h23v3h-23zM593 124h14v3h-14zM563 122h49v2h-49zM563 120h53v2h-53zM563 117h23v3h-23zM603 117h21v3h-21zM571 115h5v2h-5zM607 115h32v2h-32zM612 113h29v2h-29zM616 110h25v3h-25zM620 108h21v2h-21zM620 105h21v3h-21zM622 103h19v2h-19zM622 101h19v2h-19zM624 98h17v3h-17zM624 96h17v2h-17zM626 94h15v2h-15zM631 91h10v3h-10zM633 89h8v2h-8zM635 86h6v3h-6zM637 84h4v2h-4zM639 82h2v2h-2z"/>
<path fill="#00d4ff" d="M388 444h2v2h-2zM350 442h10v2h-10zM373 442h25v2h-25zM345 439h17v3h-17zM369 439h33v3h-33zM335 437h67v2h-67zM329 435h76v2h-76zM326 433h79v2h-79zM324 431h83v2h-83zM320 429h87v2h-87zM318 427h23v2h-23zM356 427h51v2h-51zM316 424h19v3h-19zM360 424h49v3h-49zM314 422h15v2h-15zM364 422h45v2h-45zM312 420h14v2h-14zM364 420h47v2h-47zM310 418h16v2h-16zM364 418h47v2h-47zM307 416h17v2h-17zM364 416h49v2h-49zM307 414h15v2h-15zM364 414h7v2h-7zM375 414h40v2h-40zM305 412h17v2h-17zM364 412h3v2h-3zM377 412h11v2h-11zM394 412h23v2h-23zM301 409h19v3h-19zM396 409h30v3h-30zM299 407h21v2h-21zM400 407h32v2h-32zM299 405h21v2h-21zM402 405h30v2h-30zM299 403h21v2h-21zM405 403h27v2h-27zM299 401h21v2h-21zM407 401h25v2h-25zM301 399h19v2h-19zM407 399h25v2h-25zM301 397h19v2h-19zM409 397h23v2h-23zM303 394h19v3h-19zM409 394h23v3h-23zM305 392h19v2h-19zM411 392h21v2h-21zM305 390h21v2h-21zM411 390h21v2h-21zM307 388h22v2h-22zM409 388h23v2h-23zM310 386h19v2h-19zM409 386h23v2h-23zM312 384h19v2h-19zM409 384h23v2h-23zM314 381h19v3h-19zM409 381h23v3h-23zM318 379h15v2h-15zM407 379h25v2h-25zM320 377h15v2h-15zM407 377h25v2h-25zM322 375h15v2h-15zM407 375h25v2h-25zM326 373h13v2h-13zM405 373h25v2h-25zM326 371h13v2h-13zM405 371h23v2h-23zM329 369h12v2h-12zM402 369h19v2h-19zM333 366h10v3h-10zM402 366h17v3h-17zM335 364h10v2h-10zM402 364h17v2h-17zM337 362h8v2h-8zM400 362h17v2h-17zM339 360h9v2h-9zM400 360h17v2h-17zM341 358h9v2h-9zM400 358h15v2h-15zM343 356h11v2h-11zM398 356h15v2h-15zM345 353h13v3h-13zM396 353h15v3h-15zM348 351h14v2h-14zM394 351h15v2h-15zM350 349h19v2h-19zM392 349h15v2h-15zM352 347h29v2h-29zM386 347h19v2h-19zM356 345h46v2h-46zM362 342h38v3h-38zM371 340h27v2h-27zM381 338h9v2h-9zM601 308h23v2h-23zM588 305h47v3h-47zM584 303h57v2h-57zM565 301h76v2h-76zM559 299h82v2h-82zM554 297h87v2h-87zM548 294h93v3h-93zM546 292h59v2h-59zM626 292h15v2h-15zM544 290h55v2h-55zM631 290h10v2h-10zM544 288h51v2h-51zM637 288h4v2h-4zM544 286h49v2h-49zM639 286h2v2h-2zM542 283h48v3h-48zM540 281h48v2h-48zM540 279h48v2h-48zM538 277h52v2h-52zM535 274h55v3h-55zM535 272h58v2h-58zM533 270h60v2h-60zM531 268h28v2h-28zM569 268h26v2h-26zM529 266h23v2h-23zM576 266h21v2h-21zM527 263h23v3h-23zM582 263h17v3h-17zM525 261h25v2h-25zM586 261h17v2h-17zM523 259h27v2h-27zM588 259h17v2h-17zM523 257h27v2h-27zM590 257h19v2h-19zM521 254h29v3h-29zM593 254h23v3h-23zM519 252h31v2h-31zM595 252h25v2h-25zM516 250h36v2h-36zM595 250h31v2h-31zM516 248h36v2h-36zM597 248h42v2h-42zM516 246h38v2h-38zM597 246h44v2h-44zM519 243h35v3h-35zM597 243h44v3h-44zM519 241h12v2h-12zM540 241h21v2h-21zM593 241h48v2h-48zM516 239h13v2h-13zM542 239h23v2h-23zM590 239h51v2h-51zM514 237h15v2h-15zM546 237h95v2h-95zM514 234h13v3h-13zM550 234h91v3h-91zM512 232h15v2h-15zM557 232h84v2h-84zM512 230h15v2h-15zM563 230h78v2h-78zM514 228h13v2h-13zM607 228h34v2h-34zM514 225h13v3h-13zM620 225h21v3h-21zM512 223h13v2h-13zM622 223h19v2h-19zM510 221h13v2h-13zM622 221h19v2h-19zM510 219h11v2h-11zM622 219h19v2h-19zM510 216h11v3h-11zM624 216h17v3h-17zM510 214h11v2h-11zM626 214h15v2h-15zM512 212h11v2h-11zM626 212h15v2h-15zM512 209h13v3h-13zM628 209h13v3h-13zM512 207h13v2h-13zM628 207h13v2h-13zM510 205h13v2h-13zM628 205h13v2h-13zM508 203h15v2h-15zM628 203h13v2h-13zM508 200h15v3h-15zM631 200h10v3h-10zM508 198h15v2h-15zM631 198h10v2h-10zM508 196h15v2h-15zM631 196h10v2h-10zM508 194h17v2h-17zM631 194h10v2h-10zM506 191h19v3h-19zM631 191h10v3h-10zM506 189h21v2h-21zM631 189h10v2h-10zM506 187h23v2h-23zM628 187h13v2h-13zM506 184h23v3h-23zM624 184h17v3h-17zM506 182h25v2h-25zM620 182h21v2h-21zM506 180h27v2h-27zM618 180h23v2h-23zM508 178h30v2h-30zM614 178h27v2h-27zM512 175h32v3h-32zM554 175h7v3h-7zM612 175h29v3h-29zM516 173h53v2h-53zM582 173h59v2h-59zM521 171h120v2h-120zM525 168h116v3h-116zM535 166h106v2h-106zM542 164h99v2h-99zM546 161h95v3h-95zM548 159h93v2h-93zM563 157h78v2h-78zM567 155h74v2h-74zM569 152h72v3h-72zM571 150h70v2h-70zM571 148h70v2h-70zM573 145h68v3h-68zM573 143h68v2h-68zM573 141h68v2h-68zM573 138h68v3h-68zM576 136h65v2h-65zM576 134h65v2h-65zM576 131h65v3h-65zM576 129h65v2h-65zM578 127h63v2h-63zM586 124h7v3h-7zM607 124h34v3h-34zM612 122h29v2h-29zM616 120h25v2h-25zM624 117h17v3h-17zM639 115h2v2h-2z"/>
<path fill="#00eaff" d="M341 427h15v2h-15zM335 424h25v3h-25zM329 422h35v2h-35zM326 420h38v2h-38zM326 418h38v2h-38zM324 416h40v2h-40zM322 414h42v2h-42zM371 414h4v2h-4zM322 412h42v2h-42zM367 412h10v2h-10zM388 412h6v2h-6zM320 409h30v3h-30zM356 409h40v3h-40zM320 407h25v2h-25zM362 407h38v2h-38zM320 405h25v2h-25zM364 405h38v2h-38zM320 403h25v2h-25zM373 403h32v2h-32zM320 401h25v2h-25zM375 401h32v2h-32zM320 399h25v2h-25zM377 399h30v2h-30zM320 397h28v2h-28zM381 397h28v2h-28zM322 394h26v3h-26zM383 394h26v3h-26zM324 392h24v2h-24zM383 392h28v2h-28zM326 390h22v2h-22zM386 390h25v2h-25zM329 388h19v2h-19zM388 388h21v2h-21zM329 386h19v2h-19zM388 386h21v2h-21zM331 384h17v2h-17zM390 384h19v2h-19zM333 381h15v3h-15zM390 381h19v3h-19zM333 379h15v2h-15zM390 379h17v2h-17zM335 377h15v2h-15zM390 377h17v2h-17zM337 375h13v2h-13zM392 375h15v2h-15zM339 373h13v2h-13zM392 373h13v2h-13zM339 371h13v2h-13zM392 371h13v2h-13zM341 369h13v2h-13zM392 369h10v2h-10zM343 366h13v3h-13zM390 366h12v3h-12zM345 364h13v2h-13zM390 364h12v2h-12zM345 362h17v2h-17zM390 362h10v2h-10zM348 360h16v2h-16zM388 360h12v2h-12zM350 358h21v2h-21zM386 358h14v2h-14zM354 356h44v2h-44zM358 353h38v3h-38zM362 351h32v2h-32zM369 349h23v2h-23zM381 347h5v2h-5zM605 292h21v2h-21zM599 290h32v2h-32zM595 288h42v2h-42zM593 286h46v2h-46zM590 283h51v3h-51zM588 281h53v2h-53zM588 279h53v2h-53zM590 277h51v2h-51zM590 274h51v3h-51zM593 272h48v2h-48zM593 270h48v2h-48zM595 268h46v2h-46zM597 266h44v2h-44zM599 263h42v3h-42zM603 261h38v2h-38zM605 259h36v2h-36zM609 257h32v2h-32zM616 254h25v3h-25zM620 252h21v2h-21zM626 250h15v2h-15zM639 248h2v2h-2zM531 241h9v2h-9zM529 239h13v2h-13zM529 237h17v2h-17zM527 234h23v3h-23zM527 232h30v2h-30zM527 230h36v2h-36zM527 228h80v2h-80zM527 225h93v3h-93zM525 223h15v2h-15zM550 223h72v2h-72zM523 221h12v2h-12zM563 221h59v2h-59zM521 219h14v2h-14zM569 219h53v2h-53zM521 216h14v3h-14zM582 216h42v3h-42zM521 214h14v2h-14zM593 214h33v2h-33zM523 212h12v2h-12zM599 212h27v2h-27zM525 209h10v3h-10zM603 209h25v3h-25zM525 207h10v2h-10zM607 207h21v2h-21zM523 205h12v2h-12zM609 205h19v2h-19zM523 203h12v2h-12zM609 203h19v2h-19zM523 200h15v3h-15zM609 200h22v3h-22zM523 198h15v2h-15zM609 198h22v2h-22zM523 196h17v2h-17zM607 196h24v2h-24zM525 194h15v2h-15zM607 194h24v2h-24zM525 191h17v3h-17zM605 191h26v3h-26zM527 189h19v2h-19zM603 189h28v2h-28zM529 187h28v2h-28zM601 187h27v2h-27zM529 184h38v3h-38zM576 184h48v3h-48zM531 182h89v2h-89zM533 180h85v2h-85zM538 178h76v2h-76zM544 175h10v3h-10zM561 175h51v3h-51zM569 173h13v2h-13z"/>
<path fill="#00ffff" d="M350 409h6v3h-6zM345 407h17v2h-17zM345 405h19v2h-19zM345 403h28v2h-28zM345 401h30v2h-30zM345 399h32v2h-32zM348 397h33v2h-33zM348 394h35v3h-35zM348 392h35v2h-35zM348 390h38v2h-38zM348 388h40v2h-40zM348 386h40v2h-40zM348 384h42v2h-42zM348 381h42v3h-42zM348 379h42v2h-42zM350 377h40v2h-40zM350 375h42v2h-42zM352 373h40v2h-40zM352 371h40v2h-40zM354 369h38v2h-38zM356 366h34v3h-34zM358 364h32v2h-32zM362 362h28v2h-28zM364 360h24v2h-24zM371 358h15v2h-15zM540 223h10v2h-10zM535 221h28v2h-28zM535 219h34v2h-34zM535 216h47v3h-47zM535 214h58v2h-58zM535 212h64v2h-64zM535 209h68v3h-68zM535 207h72v2h-72zM535 205h74v2h-74zM535 203h74v2h-74zM538 200h71v3h-71zM538 198h71v2h-71zM540 196h67v2h-67zM540 194h67v2h-67zM542 191h63v3h-63zM546 189h57v2h-57zM557 187h44v2h-44zM567 184h9v3h-9z"/>
<polygon fill="#000040" points="112,425 122,432 127,440 143,458 153,473 163,490 169,510 175,525 186,538 196,546 204,547 208,552 210,560 208,572 112,572"/>
</g>
<g clip-path="url(#mc)" shape-rendering="crispEdges" stroke="#000" stroke-width="1">
<line x1="130.5" y1="38" x2="130.5" y2="570"/>
<line x1="214.5" y1="38" x2="214.5" y2="570"/>
<line x1="299.5" y1="38" x2="299.5" y2="570"/>
<line x1="383.5" y1="38" x2="383.5" y2="570"/>
<line x1="468.5" y1="38" x2="468.5" y2="570"/>
<line x1="552.5" y1="38" x2="552.5" y2="570"/>
<line x1="113" y1="485.5" x2="637" y2="485.5"/>
<line x1="113" y1="400.5" x2="637" y2="400.5"/>
<line x1="113" y1="314.5" x2="637" y2="314.5"/>
<line x1="113" y1="225.5" x2="637" y2="225.5"/>
<line x1="113" y1="133.5" x2="637" y2="133.5"/>
</g>
<g clip-path="url(#mc)" stroke="#000078" stroke-width="1" fill="none" shape-rendering="crispEdges">
<path d="M130.0 400.8L145.4 399.2M141.1 402.1L145.4 399.2L140.6 397.3"/>
<path d="M130.0 383.6L145.4 382.2M141.1 385.0L145.4 382.2L140.6 380.2"/>
<path d="M146.9 435.1L162.3 433.6M158.0 436.4L162.3 433.6L157.5 431.6"/>
<path d="M146.9 418.0L162.3 420.0M157.4 421.8L162.3 420.0L158.0 417.0"/>
<path d="M146.9 400.8L162.4 401.3M157.7 403.6L162.4 401.3L157.9 398.8"/>
<path d="M146.9 383.6L162.4 382.5M157.9 385.2L162.4 382.5L157.6 380.5"/>
<path d="M146.9 366.3L162.2 364.2M158.0 367.2L162.2 364.2L157.4 362.5"/>
<path d="M163.8 452.2L179.2 450.1M174.9 453.1L179.2 450.1L174.3 448.4"/>
<path d="M163.8 435.1L179.3 434.2M174.8 436.9L179.3 434.2L174.5 432.1"/>
<path d="M163.8 418.0L179.2 419.5M174.4 421.4L179.2 419.5L174.9 416.6"/>
<path d="M163.8 400.8L179.2 402.7M174.3 404.5L179.2 402.7L174.9 399.8"/>
<path d="M163.8 383.6L179.3 384.4M174.5 386.6L179.3 384.4L174.8 381.8"/>
<path d="M163.8 366.3L179.3 365.8M174.8 368.4L179.3 365.8L174.6 363.6"/>
<path d="M180.7 469.2L184.4 454.2M185.6 459.2L184.4 454.2L180.9 458.1"/>
<path d="M180.7 452.2L194.3 444.8M191.4 449.1L194.3 444.8L189.1 444.9"/>
<path d="M180.7 435.1L196.1 434.0M191.7 436.7L196.1 434.0L191.4 432.0"/>
<path d="M180.7 418.0L195.9 421.2M190.9 422.6L195.9 421.2L191.8 417.9"/>
<path d="M180.7 400.8L196.0 402.9M191.2 404.7L196.0 402.9L191.8 399.9"/>
<path d="M197.6 520.2L197.3 504.7M199.8 509.3L197.3 504.7L195.0 509.3"/>
<path d="M197.6 503.2L198.9 487.8M200.9 492.6L198.9 487.8L196.1 492.2"/>
<path d="M197.6 486.2L198.9 470.8M200.9 475.6L198.9 470.8L196.1 475.2"/>
<path d="M197.6 469.2L201.4 454.2M202.6 459.3L201.4 454.2L198.0 458.1"/>
<path d="M197.6 452.2L211.6 445.5M208.5 449.7L211.6 445.5L206.4 445.3"/>
<path d="M197.6 435.1L213.0 433.9M208.6 436.6L213.0 433.9L208.2 431.8"/>
<path d="M197.6 418.0L213.1 418.4M208.4 420.7L213.1 418.4L208.5 415.9"/>
<path d="M214.5 571.0L204.9 558.8M209.6 560.9L204.9 558.8L205.9 563.9"/>
<path d="M214.5 554.1L208.8 539.6M212.7 543.0L208.8 539.6L208.3 544.8"/>
<path d="M214.5 537.1L213.5 521.7M216.2 526.1L213.5 521.7L211.4 526.4"/>
<path d="M214.5 520.2L215.7 504.7M217.7 509.5L215.7 504.7L212.9 509.1"/>
<path d="M214.5 503.2L215.8 487.8M217.8 492.6L215.8 487.8L213.0 492.2"/>
<path d="M214.5 486.2L217.0 471.0M218.6 475.9L217.0 471.0L213.9 475.1"/>
<path d="M214.5 469.2L219.8 454.7M220.4 459.8L219.8 454.7L215.9 458.2"/>
<path d="M214.5 452.2L228.5 445.7M225.4 449.8L228.5 445.7L223.3 445.4"/>
<path d="M214.5 435.1L229.5 431.2M225.6 434.7L229.5 431.2L224.4 430.0"/>
<path d="M231.4 571.0L220.2 560.3M225.2 561.7L220.2 560.3L221.8 565.2"/>
<path d="M231.4 554.1L225.5 539.7M229.5 543.1L225.5 539.7L225.1 544.9"/>
<path d="M231.4 537.1L233.5 521.8M235.2 526.7L233.5 521.8L230.5 526.0"/>
<path d="M231.4 520.2L234.0 504.9M235.6 509.9L234.0 504.9L230.9 509.0"/>
<path d="M231.4 503.2L235.1 488.2M236.4 493.2L235.1 488.2L231.7 492.1"/>
<path d="M231.4 486.2L236.4 471.6M237.2 476.7L236.4 471.6L232.7 475.2"/>
<path d="M231.4 469.2L240.2 456.5M239.6 461.7L240.2 456.5L235.6 458.9"/>
<path d="M231.4 452.2L245.7 446.3M242.4 450.3L245.7 446.3L240.6 445.9"/>
<path d="M231.4 435.1L245.9 429.8M242.4 433.6L245.9 429.8L240.8 429.1"/>
<path d="M231.4 418.0L245.9 412.7M242.4 416.5L245.9 412.7L240.8 412.0"/>
<path d="M231.4 243.3L246.2 238.8M242.5 242.4L246.2 238.8L241.1 237.8"/>
<path d="M248.3 571.0L237.7 559.7M242.6 561.4L237.7 559.7L239.1 564.7"/>
<path d="M248.3 554.1L243.7 539.3M247.3 542.9L243.7 539.3L242.7 544.4"/>
<path d="M248.3 537.1L250.5 521.8M252.2 526.7L250.5 521.8L247.5 526.0"/>
<path d="M248.3 520.2L251.4 505.0M252.8 510.0L251.4 505.0L248.1 509.0"/>
<path d="M248.3 503.2L252.2 488.2M253.4 493.3L252.2 488.2L248.7 492.1"/>
<path d="M248.3 486.2L256.8 473.3M256.3 478.5L256.8 473.3L252.3 475.8"/>
<path d="M248.3 469.2L262.3 462.7M259.2 466.8L262.3 462.7L257.1 462.5"/>
<path d="M248.3 452.2L262.8 446.9M259.3 450.7L262.8 446.9L257.7 446.2"/>
<path d="M248.3 435.1L262.8 429.6M259.3 433.5L262.8 429.6L257.6 429.0"/>
<path d="M248.3 418.0L262.8 412.6M259.3 416.4L262.8 412.6L257.6 411.9"/>
<path d="M248.3 261.1L263.7 259.5M259.4 262.4L263.7 259.5L258.9 257.6"/>
<path d="M248.3 243.3L261.4 235.1M258.8 239.5L261.4 235.1L256.2 235.5"/>
<path d="M248.3 225.3L258.5 213.6M257.2 218.7L258.5 213.6L253.6 215.5"/>
<path d="M265.2 571.0L255.8 558.7M260.5 560.9L255.8 558.7L256.6 563.8"/>
<path d="M265.2 554.1L263.1 538.7M266.1 542.9L263.1 538.7L261.3 543.6"/>
<path d="M265.2 537.1L267.7 521.8M269.3 526.8L267.7 521.8L264.6 526.0"/>
<path d="M265.2 520.2L269.2 505.2M270.3 510.3L269.2 505.2L265.6 509.0"/>
<path d="M265.2 486.2L279.4 480.2M276.1 484.2L279.4 480.2L274.2 479.8"/>
<path d="M265.2 469.2L280.1 465.1M276.3 468.6L280.1 465.1L275.0 464.0"/>
<path d="M265.2 452.2L279.9 447.5M276.3 451.2L279.9 447.5L274.8 446.6"/>
<path d="M265.2 435.1L279.9 430.3M276.3 434.0L279.9 430.3L274.8 429.4"/>
<path d="M265.2 418.0L279.6 412.5M276.2 416.4L279.6 412.5L274.5 411.9"/>
<path d="M265.2 400.8L279.7 395.5M276.2 399.4L279.7 395.5L274.6 394.8"/>
<path d="M265.2 278.9L279.1 285.7M273.9 285.8L279.1 285.7L276.0 281.5"/>
<path d="M265.2 261.1L276.0 250.1M274.5 255.0L276.0 250.1L271.1 251.7"/>
<path d="M265.2 243.3L272.4 229.5M272.4 234.7L272.4 229.5L268.1 232.5"/>
<path d="M265.2 225.3L272.6 211.7M272.5 216.9L272.6 211.7L268.3 214.6"/>
<path d="M265.2 207.2L274.6 195.0M273.7 200.1L274.6 195.0L269.9 197.1"/>
<path d="M282.1 537.1L291.5 524.9M290.6 530.0L291.5 524.9L286.8 527.0"/>
<path d="M282.1 520.2L293.6 509.9M291.8 514.7L293.6 509.9L288.6 511.1"/>
<path d="M282.1 503.2L295.3 495.2M292.6 499.6L295.3 495.2L290.1 495.5"/>
<path d="M282.1 486.2L297.0 482.0M293.2 485.6L297.0 482.0L291.9 481.0"/>
<path d="M282.1 469.2L297.2 466.0M293.2 469.3L297.2 466.0L292.2 464.6"/>
<path d="M282.1 452.2L297.0 448.2M293.2 451.7L297.0 448.2L292.0 447.1"/>
<path d="M282.1 435.1L296.8 430.4M293.2 434.1L296.8 430.4L291.7 429.5"/>
<path d="M282.1 418.0L296.6 412.7M293.1 416.5L296.6 412.7L291.5 412.0"/>
<path d="M282.1 400.8L296.6 395.5M293.1 399.4L296.6 395.5L291.5 394.9"/>
<path d="M282.1 383.6L295.6 376.0M292.7 380.4L295.6 376.0L290.4 376.2"/>
<path d="M282.1 296.5L272.2 308.5M273.3 303.4L272.2 308.5L277.0 306.5"/>
<path d="M282.1 278.9L267.2 274.4M272.3 273.4L267.2 274.4L270.9 278.0"/>
<path d="M282.1 261.1L280.6 245.7M283.4 250.0L280.6 245.7L278.6 250.5"/>
<path d="M282.1 207.2L292.2 195.5M291.0 200.6L292.2 195.5L287.4 197.4"/>
<path d="M298.9 520.2L314.1 517.1M310.1 520.3L314.1 517.1L309.1 515.6"/>
<path d="M298.9 503.2L314.4 501.6M310.0 504.5L314.4 501.6L309.5 499.7"/>
<path d="M298.9 486.2L314.3 484.0M310.1 487.1L314.3 484.0L309.4 482.3"/>
<path d="M298.9 469.2L314.1 466.1M310.1 469.4L314.1 466.1L309.1 464.7"/>
<path d="M298.9 452.2L313.6 447.1M310.0 450.9L313.6 447.1L308.4 446.3"/>
<path d="M298.9 435.1L313.3 429.4M310.0 433.3L313.3 429.4L308.2 428.8"/>
<path d="M298.9 418.0L313.3 412.2M310.0 416.1L313.3 412.2L308.2 411.7"/>
<path d="M298.9 400.8L313.3 395.1M310.0 399.0L313.3 395.1L308.2 394.5"/>
<path d="M298.9 383.6L313.0 377.1M309.8 381.2L313.0 377.1L307.8 376.8"/>
<path d="M298.9 366.3L312.4 358.6M309.6 363.0L312.4 358.6L307.2 358.8"/>
<path d="M298.9 349.0L312.4 341.4M309.6 345.7L312.4 341.4L307.2 341.5"/>
<path d="M298.9 331.6L312.8 324.6M309.8 328.8L312.8 324.6L307.6 324.5"/>
<path d="M298.9 314.1L299.1 298.6M301.5 303.2L299.1 298.6L296.7 303.2"/>
<path d="M298.9 296.5L284.6 290.7M289.8 290.2L284.6 290.7L288.0 294.6"/>
<path d="M298.9 278.9L288.1 267.8M293.0 269.4L288.1 267.8L289.6 272.8"/>
<path d="M298.9 261.1L294.3 246.3M298.0 250.0L294.3 246.3L293.4 251.4"/>
<path d="M315.8 520.2L331.3 519.9M326.8 522.4L331.3 519.9L326.7 517.6"/>
<path d="M315.8 503.2L331.3 502.0M326.9 504.7L331.3 502.0L326.5 499.9"/>
<path d="M315.8 486.2L331.1 483.6M327.0 486.8L331.1 483.6L326.2 482.0"/>
<path d="M315.8 469.2L330.7 464.6M327.0 468.3L330.7 464.6L325.5 463.7"/>
<path d="M315.8 452.2L330.0 445.8M326.8 449.9L330.0 445.8L324.8 445.5"/>
<path d="M315.8 435.1L329.9 428.6M326.7 432.7L329.9 428.6L324.7 428.3"/>
<path d="M315.8 418.0L329.9 411.5M326.7 415.6L329.9 411.5L324.7 411.2"/>
<path d="M315.8 400.8L329.9 394.3M326.7 398.4L329.9 394.3L324.7 394.1"/>
<path d="M315.8 383.6L329.3 376.0M326.5 380.3L329.3 376.0L324.1 376.2"/>
<path d="M315.8 366.3L328.6 357.5M326.2 362.1L328.6 357.5L323.4 358.1"/>
<path d="M315.8 349.0L328.6 340.1M326.2 344.7L328.6 340.1L323.4 340.8"/>
<path d="M315.8 331.6L328.6 322.8M326.2 327.4L328.6 322.8L323.4 323.4"/>
<path d="M315.8 314.1L325.0 301.6M324.2 306.7L325.0 301.6L320.3 303.9"/>
<path d="M315.8 296.5L317.0 281.1M319.1 285.8L317.0 281.1L314.3 285.5"/>
<path d="M315.8 278.9L313.8 263.5M316.8 267.7L313.8 263.5L312.0 268.4"/>
<path d="M315.8 261.1L314.3 245.7M317.1 250.0L314.3 245.7L312.4 250.5"/>
<path d="M315.8 207.2L320.2 192.4M321.2 197.4L320.2 192.4L316.6 196.1"/>
<path d="M332.7 503.2L347.0 497.1M343.7 501.2L347.0 497.1L341.8 496.7"/>
<path d="M332.7 486.2L347.3 481.0M343.8 484.8L347.3 481.0L342.2 480.3"/>
<path d="M332.7 469.2L346.9 462.9M343.7 467.0L346.9 462.9L341.7 462.6"/>
<path d="M332.7 452.2L346.2 444.6M343.4 448.9L346.2 444.6L341.1 444.7"/>
<path d="M332.7 435.1L346.2 427.4M343.4 431.8L346.2 427.4L341.0 427.6"/>
<path d="M332.7 418.0L346.2 410.3M343.4 414.7L346.2 410.3L341.0 410.5"/>
<path d="M332.7 400.8L346.4 393.6M343.5 397.9L346.4 393.6L341.2 393.6"/>
<path d="M332.7 383.6L344.7 373.7M342.7 378.5L344.7 373.7L339.6 374.8"/>
<path d="M332.7 366.3L343.6 355.2M342.1 360.2L343.6 355.2L338.6 356.9"/>
<path d="M332.7 349.0L344.0 338.4M342.3 343.3L344.0 338.4L339.0 339.8"/>
<path d="M332.7 331.6L344.6 321.7M342.6 326.4L344.6 321.7L339.6 322.8"/>
<path d="M332.7 314.1L342.9 302.4M341.7 307.5L342.9 302.4L338.1 304.3"/>
<path d="M332.7 296.5L339.4 282.6M339.6 287.7L339.4 282.6L335.3 285.7"/>
<path d="M332.7 278.9L335.4 263.6M337.0 268.5L335.4 263.6L332.2 267.7"/>
<path d="M332.7 261.1L333.6 245.6M335.7 250.4L333.6 245.6L330.9 250.1"/>
<path d="M332.7 243.3L334.0 227.8M336.0 232.6L334.0 227.8L331.3 232.2"/>
<path d="M332.7 225.3L333.3 209.8M335.5 214.5L333.3 209.8L330.7 214.3"/>
<path d="M332.7 207.2L331.2 191.8M334.0 196.1L331.2 191.8L329.3 196.6"/>
<path d="M349.6 503.2L364.2 498.0M360.7 501.8L364.2 498.0L359.1 497.3"/>
<path d="M349.6 486.2L363.2 478.8M360.3 483.1L363.2 478.8L358.0 478.9"/>
<path d="M349.6 469.2L363.1 461.5M360.3 465.9L363.1 461.5L357.9 461.7"/>
<path d="M349.6 452.2L362.4 443.4M360.0 448.0L362.4 443.4L357.3 444.0"/>
<path d="M349.6 435.1L362.3 426.2M359.9 430.8L362.3 426.2L357.2 426.9"/>
<path d="M349.6 418.0L362.8 409.7M360.1 414.2L362.8 409.7L357.6 410.2"/>
<path d="M349.6 400.8L362.8 392.7M360.2 397.1L362.8 392.7L357.6 393.0"/>
<path d="M349.6 383.6L361.5 373.7M359.5 378.5L361.5 373.7L356.5 374.8"/>
<path d="M349.6 366.3L360.6 355.4M359.0 360.3L360.6 355.4L355.6 356.9"/>
<path d="M349.6 349.0L359.7 337.2M358.6 342.3L359.7 337.2L354.9 339.2"/>
<path d="M349.6 331.6L360.6 320.7M359.1 325.6L360.6 320.7L355.7 322.2"/>
<path d="M349.6 314.1L360.6 303.1M359.0 308.1L360.6 303.1L355.6 304.7"/>
<path d="M349.6 296.5L359.6 284.7M358.5 289.7L359.6 284.7L354.8 286.6"/>
<path d="M349.6 278.9L356.2 264.8M356.4 270.0L356.2 264.8L352.1 268.0"/>
<path d="M349.6 261.1L353.0 246.0M354.4 251.0L353.0 246.0L349.7 250.0"/>
<path d="M349.6 243.3L350.2 227.8M352.5 232.5L350.2 227.8L347.7 232.3"/>
<path d="M349.6 225.3L348.4 209.9M351.1 214.2L348.4 209.9L346.4 214.6"/>
<path d="M349.6 207.2L347.3 191.9M350.3 196.1L347.3 191.9L345.6 196.8"/>
<path d="M366.5 486.2L381.8 483.3M377.7 486.6L381.8 483.3L376.8 481.8"/>
<path d="M366.5 469.2L379.6 460.8M377.0 465.3L379.6 460.8L374.4 461.3"/>
<path d="M366.5 452.2L378.8 442.7M376.6 447.4L378.8 442.7L373.7 443.6"/>
<path d="M366.5 435.1L378.8 425.6M376.6 430.3L378.8 425.6L373.7 426.5"/>
<path d="M366.5 418.0L379.2 409.1M376.8 413.7L379.2 409.1L374.1 409.8"/>
<path d="M366.5 400.8L379.3 392.0M376.8 396.6L379.3 392.0L374.1 392.6"/>
<path d="M366.5 383.6L378.5 373.7M376.5 378.5L378.5 373.7L373.4 374.8"/>
<path d="M366.5 366.3L378.3 356.3M376.4 361.1L378.3 356.3L373.3 357.5"/>
<path d="M366.5 349.0L376.5 337.1M375.4 342.2L376.5 337.1L371.7 339.1"/>
<path d="M366.5 331.6L376.9 320.1M375.6 325.1L376.9 320.1L372.1 321.9"/>
<path d="M366.5 314.1L377.5 303.1M375.9 308.1L377.5 303.1L372.5 304.7"/>
<path d="M366.5 296.5L377.5 285.6M375.9 290.5L377.5 285.6L372.5 287.1"/>
<path d="M366.5 278.9L375.4 266.2M374.7 271.3L375.4 266.2L370.8 268.6"/>
<path d="M366.5 261.1L373.2 247.1M373.4 252.3L373.2 247.1L369.1 250.2"/>
<path d="M366.5 243.3L369.2 228.0M370.8 232.9L369.2 228.0L366.1 232.1"/>
<path d="M366.5 225.3L360.6 211.0M364.6 214.3L360.6 211.0L360.1 216.2"/>
<path d="M366.5 207.2L362.1 192.4M365.7 196.1L362.1 192.4L361.1 197.5"/>
<path d="M383.4 469.2L398.4 465.2M394.6 468.7L398.4 465.2L393.3 464.1"/>
<path d="M383.4 452.2L397.0 444.6M394.1 449.0L397.0 444.6L391.8 444.8"/>
<path d="M383.4 435.1L396.1 426.2M393.7 430.8L396.1 426.2L391.0 426.9"/>
<path d="M383.4 418.0L396.1 409.1M393.7 413.7L396.1 409.1L391.0 409.8"/>
<path d="M383.4 400.8L396.1 392.0M393.7 396.6L396.1 392.0L391.0 392.6"/>
<path d="M383.4 383.6L395.5 373.9M393.4 378.6L395.5 373.9L390.4 374.9"/>
<path d="M383.4 366.3L394.8 355.8M393.0 360.7L394.8 355.8L389.8 357.2"/>
<path d="M383.4 349.0L393.9 337.6M392.6 342.6L393.9 337.6L389.0 339.3"/>
<path d="M383.4 331.6L393.8 320.1M392.5 325.1L393.8 320.1L389.0 321.9"/>
<path d="M383.4 314.1L395.2 304.0M393.3 308.8L395.2 304.0L390.1 305.2"/>
<path d="M383.4 296.5L394.9 286.2M393.1 291.0L394.9 286.2L389.9 287.5"/>
<path d="M383.4 278.9L394.3 267.9M392.8 272.8L394.3 267.9L389.4 269.4"/>
<path d="M383.4 261.1L393.4 249.2M392.3 254.3L393.4 249.2L388.6 251.2"/>
<path d="M383.4 243.3L386.3 228.0M387.8 233.0L386.3 228.0L383.1 232.1"/>
<path d="M383.4 225.3L375.7 211.9M380.1 214.7L375.7 211.9L375.9 217.1"/>
<path d="M383.4 207.2L374.3 194.7M378.9 197.0L374.3 194.7L375.1 199.8"/>
<path d="M383.4 189.0L382.0 173.6M384.8 178.0L382.0 173.6L380.0 178.4"/>
<path d="M400.3 452.2L414.9 447.0M411.4 450.8L414.9 447.0L409.8 446.3"/>
<path d="M400.3 435.1L413.1 426.4M410.7 430.9L413.1 426.4L408.0 427.0"/>
<path d="M400.3 418.0L412.6 408.6M410.4 413.3L412.6 408.6L407.5 409.5"/>
<path d="M400.3 400.8L413.0 391.9M410.6 396.5L413.0 391.9L407.9 392.6"/>
<path d="M400.3 383.6L413.0 374.7M410.6 379.3L413.0 374.7L407.9 375.4"/>
<path d="M400.3 366.3L412.2 356.4M410.2 361.2L412.2 356.4L407.1 357.5"/>
<path d="M400.3 349.0L412.5 339.4M410.4 344.1L412.5 339.4L407.4 340.4"/>
<path d="M400.3 331.6L412.2 321.6M410.2 326.4L412.2 321.6L407.1 322.7"/>
<path d="M400.3 314.1L412.9 305.1M410.6 309.7L412.9 305.1L407.8 305.8"/>
<path d="M400.3 296.5L413.0 287.6M410.6 292.2L413.0 287.6L407.8 288.3"/>
<path d="M400.3 278.9L412.5 269.3M410.4 274.0L412.5 269.3L407.4 270.3"/>
<path d="M400.3 261.1L411.7 250.5M409.9 255.4L411.7 250.5L406.7 251.9"/>
<path d="M400.3 243.3L406.7 229.1M407.0 234.3L406.7 229.1L402.6 232.3"/>
<path d="M400.3 225.3L390.1 213.7M394.9 215.5L390.1 213.7L391.3 218.7"/>
<path d="M400.3 207.2L387.9 197.9M393.0 198.8L387.9 197.9L390.2 202.6"/>
<path d="M400.3 189.0L400.4 173.5M402.8 178.1L400.4 173.5L398.0 178.1"/>
<path d="M417.2 418.0L431.3 411.5M428.1 415.6L431.3 411.5L426.1 411.2"/>
<path d="M417.2 400.8L430.7 393.2M427.9 397.5L430.7 393.2L425.5 393.4"/>
<path d="M417.2 383.6L431.0 376.6M428.0 380.8L431.0 376.6L425.8 376.5"/>
<path d="M417.2 366.3L430.3 358.1M427.7 362.6L430.3 358.1L425.2 358.5"/>
<path d="M417.2 349.0L429.9 340.1M427.5 344.7L429.9 340.1L424.8 340.8"/>
<path d="M417.2 331.6L429.9 322.7M427.5 327.3L429.9 322.7L424.7 323.3"/>
<path d="M417.2 314.1L430.3 305.8M427.7 310.3L430.3 305.8L425.1 306.2"/>
<path d="M417.2 296.5L430.3 288.3M427.7 292.8L430.3 288.3L425.2 288.7"/>
<path d="M417.2 278.9L430.3 270.6M427.7 275.1L430.3 270.6L425.2 271.0"/>
<path d="M417.2 261.1L430.4 253.0M427.7 257.4L430.4 253.0L425.2 253.3"/>
<path d="M417.2 243.3L428.0 232.1M426.5 237.1L428.0 232.1L423.1 233.8"/>
<path d="M417.2 225.3L402.9 219.3M408.1 218.9L402.9 219.3L406.2 223.3"/>
<path d="M417.2 207.2L401.8 205.8M406.6 203.8L401.8 205.8L406.1 208.6"/>
<path d="M417.2 189.0L412.2 174.4M416.0 177.9L412.2 174.4L411.4 179.5"/>
<path d="M417.2 170.7L418.5 155.3M420.5 160.0L418.5 155.3L415.7 159.7"/>
<path d="M434.1 571.0L446.9 562.3M444.5 566.9L446.9 562.3L441.8 562.9"/>
<path d="M434.1 452.2L449.6 453.0M444.9 455.1L449.6 453.0L445.1 450.3"/>
<path d="M434.1 435.1L449.2 431.4M445.3 434.8L449.2 431.4L444.1 430.2"/>
<path d="M434.1 400.8L448.1 394.1M445.0 398.3L448.1 394.1L442.9 393.9"/>
<path d="M434.1 383.6L448.1 376.9M445.0 381.1L448.1 376.9L442.9 376.7"/>
<path d="M434.1 366.3L447.7 359.0M444.8 363.3L447.7 359.0L442.6 359.0"/>
<path d="M434.1 349.0L447.4 341.0M444.7 345.4L447.4 341.0L442.2 341.3"/>
<path d="M434.1 331.6L447.3 323.5M444.6 327.9L447.3 323.5L442.1 323.8"/>
<path d="M434.1 314.1L447.6 306.4M444.8 310.8L447.6 306.4L442.4 306.6"/>
<path d="M434.1 296.5L447.6 288.9M444.8 293.3L447.6 288.9L442.4 289.1"/>
<path d="M434.1 278.9L448.0 272.1M445.0 276.2L448.0 272.1L442.8 271.9"/>
<path d="M434.1 261.1L449.4 258.5M445.3 261.7L449.4 258.5L444.5 256.9"/>
<path d="M434.1 243.3L449.6 242.0M445.2 244.8L449.6 242.0L444.8 240.0"/>
<path d="M434.1 225.3L418.7 226.5M423.1 223.7L418.7 226.5L423.4 228.5"/>
<path d="M434.1 207.2L418.8 204.7M423.7 203.1L418.8 204.7L423.0 207.8"/>
<path d="M434.1 189.0L428.9 174.4M432.7 178.0L428.9 174.4L428.2 179.6"/>
<path d="M434.1 170.7L434.8 155.2M437.0 159.9L434.8 155.2L432.2 159.7"/>
<path d="M451.0 571.0L464.5 563.3M461.7 567.7L464.5 563.3L459.3 563.5"/>
<path d="M451.0 537.1L443.4 523.6M447.8 526.4L443.4 523.6L443.6 528.8"/>
<path d="M451.0 520.2L452.5 504.8M454.4 509.6L452.5 504.8L449.7 509.1"/>
<path d="M451.0 503.2L454.3 488.1M455.6 493.1L454.3 488.1L451.0 492.1"/>
<path d="M451.0 469.2L466.5 468.2M462.0 470.9L466.5 468.2L461.7 466.1"/>
<path d="M451.0 452.2L466.5 453.0M461.8 455.2L466.5 453.0L462.0 450.4"/>
<path d="M451.0 435.1L466.4 433.2M462.1 436.2L466.4 433.2L461.5 431.4"/>
<path d="M451.0 418.0L465.7 413.1M462.1 416.8L465.7 413.1L460.6 412.3"/>
<path d="M451.0 383.6L465.0 377.0M461.9 381.2L465.0 377.0L459.9 376.8"/>
<path d="M451.0 366.3L464.7 359.2M461.8 363.4L464.7 359.2L459.6 359.2"/>
<path d="M451.0 349.0L464.6 341.6M461.7 345.9L464.6 341.6L459.4 341.7"/>
<path d="M451.0 331.6L464.6 324.2M461.7 328.5L464.6 324.2L459.4 324.3"/>
<path d="M451.0 314.1L464.9 307.2M461.8 311.4L464.9 307.2L459.7 307.1"/>
<path d="M451.0 296.5L465.0 289.8M461.9 293.9L465.0 289.8L459.8 289.6"/>
<path d="M451.0 278.9L465.4 273.1M462.0 277.1L465.4 273.1L460.2 272.6"/>
<path d="M451.0 261.1L466.5 262.3M461.7 264.4L466.5 262.3L462.1 259.6"/>
<path d="M451.0 243.3L463.4 252.6M458.3 251.7L463.4 252.6L461.2 247.9"/>
<path d="M451.0 225.3L438.8 234.9M440.9 230.1L438.8 234.9L443.9 233.9"/>
<path d="M451.0 207.2L435.6 209.2M439.9 206.3L435.6 209.2L440.5 211.0"/>
<path d="M451.0 189.0L439.4 178.8M444.4 180.0L439.4 178.8L441.2 183.7"/>
<path d="M451.0 170.7L436.5 165.1M441.7 164.5L436.5 165.1L440.0 169.0"/>
<path d="M451.0 152.2L442.5 165.2M443.0 160.0L442.5 165.2L447.0 162.7"/>
<path d="M467.9 537.1L473.1 522.5M473.8 527.7L473.1 522.5L469.3 526.1"/>
<path d="M467.9 520.2L473.1 505.6M473.8 510.7L473.1 505.6L469.3 509.1"/>
<path d="M467.9 503.2L473.9 488.9M474.3 494.1L473.9 488.9L469.9 492.2"/>
<path d="M467.9 486.2L477.7 474.3M476.7 479.3L477.7 474.3L473.0 476.3"/>
<path d="M467.9 469.2L483.1 466.0M479.1 469.3L483.1 466.0L478.1 464.6"/>
<path d="M467.9 452.2L483.2 454.8M478.2 456.4L483.2 454.8L479.0 451.7"/>
<path d="M467.9 435.1L483.4 434.8M478.9 437.3L483.4 434.8L478.7 432.5"/>
<path d="M467.9 418.0L482.7 413.3M479.0 417.0L482.7 413.3L477.6 412.4"/>
<path d="M467.9 400.8L480.5 391.9M478.2 396.5L480.5 391.9L475.4 392.6"/>
<path d="M467.9 383.6L481.8 376.7M478.7 380.9L481.8 376.7L476.6 376.6"/>
<path d="M467.9 349.0L481.7 341.9M478.7 346.1L481.7 341.9L476.5 341.8"/>
<path d="M467.9 331.6L481.7 324.6M478.7 328.8L481.7 324.6L476.6 324.5"/>
<path d="M467.9 278.9L483.0 275.2M479.1 278.6L483.0 275.2L477.9 274.0"/>
<path d="M467.9 261.1L482.6 266.1M477.5 266.9L482.6 266.1L479.0 262.3"/>
<path d="M467.9 243.3L467.8 258.8M465.4 254.2L467.8 258.8L470.2 254.2"/>
<path d="M467.9 225.3L458.7 237.8M459.5 232.7L458.7 237.8L463.4 235.5"/>
<path d="M467.9 207.2L453.4 212.8M456.9 208.9L453.4 212.8L458.6 213.4"/>
<path d="M467.9 189.0L453.7 182.9M458.9 182.5L453.7 182.9L456.9 186.9"/>
<path d="M467.9 133.6L456.0 143.6M458.0 138.8L456.0 143.6L461.1 142.5"/>
<path d="M484.8 571.0L480.9 556.0M484.4 559.8L480.9 556.0L479.8 561.0"/>
<path d="M484.8 537.1L495.6 526.0M494.1 531.0L495.6 526.0L490.7 527.6"/>
<path d="M484.8 520.2L495.4 508.9M494.0 513.9L495.4 508.9L490.5 510.6"/>
<path d="M484.8 503.2L492.0 489.5M492.0 494.7L492.0 489.5L487.8 492.5"/>
<path d="M484.8 486.2L494.2 474.0M493.3 479.1L494.2 474.0L489.5 476.1"/>
<path d="M484.8 469.2L499.6 464.7M495.9 468.4L499.6 464.7L494.5 463.8"/>
<path d="M484.8 452.2L500.3 453.0M495.6 455.1L500.3 453.0L495.8 450.3"/>
<path d="M484.8 435.1L500.3 435.3M495.7 437.7L500.3 435.3L495.7 432.9"/>
<path d="M484.8 418.0L500.0 415.2M495.9 418.4L500.0 415.2L495.1 413.7"/>
<path d="M484.8 400.8L498.5 393.6M495.6 397.9L498.5 393.6L493.3 393.6"/>
<path d="M484.8 383.6L499.4 378.6M495.9 382.3L499.4 378.6L494.3 377.8"/>
<path d="M484.8 366.3L499.1 360.5M495.8 364.4L499.1 360.5L494.0 360.0"/>
<path d="M484.8 243.3L482.1 258.5M480.6 253.6L482.1 258.5L485.3 254.4"/>
<path d="M484.8 225.3L472.7 235.0M474.8 230.2L472.7 235.0L477.8 234.0"/>
<path d="M484.8 207.2L469.5 209.9M473.6 206.8L469.5 209.9L474.5 211.5"/>
<path d="M484.8 114.9L470.1 109.8M475.3 109.1L470.1 109.8L473.7 113.6"/>
<path d="M484.8 96.0L470.5 89.9M475.7 89.5L470.5 89.9L473.8 93.9"/>
<path d="M501.7 571.0L486.2 571.1M490.8 568.6L486.2 571.1L490.8 573.4"/>
<path d="M501.7 537.1L491.2 525.8M496.0 527.5L491.2 525.8L492.5 530.8"/>
<path d="M501.7 520.2L495.8 505.9M499.7 509.2L495.8 505.9L495.3 511.0"/>
<path d="M501.7 503.2L507.7 488.9M508.1 494.1L507.7 488.9L503.7 492.2"/>
<path d="M501.7 486.2L511.0 473.9M510.2 479.0L511.0 473.9L506.3 476.1"/>
<path d="M501.7 469.2L515.3 461.9M512.4 466.2L515.3 461.9L510.1 461.9"/>
<path d="M501.7 435.1L517.2 434.2M512.7 436.9L517.2 434.2L512.4 432.1"/>
<path d="M501.7 418.0L517.2 417.3M512.7 419.9L517.2 417.3L512.5 415.1"/>
<path d="M501.7 400.8L516.9 397.6M512.9 400.9L516.9 397.6L511.9 396.2"/>
<path d="M501.7 243.3L502.4 258.8M499.8 254.3L502.4 258.8L504.6 254.1"/>
<path d="M501.7 225.3L487.4 231.4M490.7 227.4L487.4 231.4L492.6 231.8"/>
<path d="M501.7 207.2L486.2 206.7M490.9 204.5L486.2 206.7L490.7 209.3"/>
<path d="M501.7 189.0L486.8 184.9M491.8 183.8L486.8 184.9L490.5 188.4"/>
<path d="M501.7 170.7L486.6 167.0M491.7 165.8L486.6 167.0L490.5 170.5"/>
<path d="M501.7 152.2L486.4 149.7M491.3 148.1L486.4 149.7L490.5 152.8"/>
<path d="M501.7 114.9L487.9 107.8M493.1 107.7L487.9 107.8L490.9 112.0"/>
<path d="M501.7 96.0L488.8 87.4M493.9 88.0L488.8 87.4L491.3 92.0"/>
<path d="M501.7 76.9L489.1 67.9M494.2 68.6L489.1 67.9L491.4 72.5"/>
<path d="M501.7 57.6L489.2 48.5M494.3 49.3L489.2 48.5L491.5 53.1"/>
<path d="M518.6 571.0L503.1 570.3M507.8 568.1L503.1 570.3L507.6 572.9"/>
<path d="M518.6 537.1L510.1 524.2M514.6 526.7L510.1 524.2L510.6 529.3"/>
<path d="M518.6 520.2L511.7 506.3M515.9 509.4L511.7 506.3L511.6 511.5"/>
<path d="M518.6 503.2L517.1 487.8M519.9 492.1L517.1 487.8L515.1 492.6"/>
<path d="M518.6 486.2L524.3 471.8M524.8 477.0L524.3 471.8L520.4 475.2"/>
<path d="M518.6 469.2L531.1 460.1M528.8 464.7L531.1 460.1L526.0 460.9"/>
<path d="M518.6 452.2L533.0 446.5M529.6 450.4L533.0 446.5L527.8 446.0"/>
<path d="M518.6 314.1L533.9 311.6M529.7 314.7L533.9 311.6L529.0 310.0"/>
<path d="M518.6 296.5L533.0 290.9M529.6 294.8L533.0 290.9L527.9 290.3"/>
<path d="M518.6 278.9L533.7 275.5M529.7 278.9L533.7 275.5L528.7 274.2"/>
<path d="M518.6 261.1L532.0 268.9M526.8 268.7L532.0 268.9L529.2 264.5"/>
<path d="M518.6 243.3L531.5 251.9M526.3 251.3L531.5 251.9L529.0 247.3"/>
<path d="M518.6 225.3L503.1 226.0M507.6 223.4L503.1 226.0L507.8 228.2"/>
<path d="M518.6 207.2L503.2 205.8M508.0 203.8L503.2 205.8L507.5 208.6"/>
<path d="M518.6 189.0L503.3 186.7M508.2 185.0L503.3 186.7L507.4 189.8"/>
<path d="M518.6 170.7L503.6 166.6M508.7 165.5L503.6 166.6L507.4 170.2"/>
<path d="M518.6 152.2L503.7 148.0M508.8 147.0L503.7 148.0L507.4 151.6"/>
<path d="M518.6 133.6L504.3 127.6M509.5 127.2L504.3 127.6L507.6 131.6"/>
<path d="M518.6 114.9L505.6 106.4M510.8 106.9L505.6 106.4L508.2 110.9"/>
<path d="M518.6 96.0L506.6 86.2M511.7 87.2L506.6 86.2L508.6 90.9"/>
<path d="M518.6 76.9L506.9 66.7M511.9 67.9L506.9 66.7L508.8 71.5"/>
<path d="M518.6 57.6L506.8 47.5M511.9 48.7L506.8 47.5L508.7 52.3"/>
<path d="M518.6 38.2L506.8 28.1M511.9 29.2L506.8 28.1L508.8 32.9"/>
<path d="M535.5 571.0L520.7 566.3M525.8 565.4L520.7 566.3L524.4 570.0"/>
<path d="M535.5 537.1L523.8 526.9M528.9 528.2L523.8 526.9L525.7 531.8"/>
<path d="M535.5 520.2L528.4 506.4M532.7 509.4L528.4 506.4L528.4 511.6"/>
<path d="M535.5 503.2L533.6 487.8M536.5 492.1L533.6 487.8L531.8 492.7"/>
<path d="M535.5 486.2L536.6 470.8M538.7 475.5L536.6 470.8L533.9 475.2"/>
<path d="M535.5 469.2L543.1 455.7M542.9 460.9L543.1 455.7L538.8 458.6"/>
<path d="M535.5 418.0L550.2 413.1M546.6 416.8L550.2 413.1L545.0 412.3"/>
<path d="M535.5 314.1L550.6 310.8M546.6 314.1L550.6 310.8L545.6 309.4"/>
<path d="M535.5 296.5L549.7 290.4M546.4 294.4L549.7 290.4L544.5 290.0"/>
<path d="M535.5 278.9L550.6 275.4M546.6 278.8L550.6 275.4L545.6 274.1"/>
<path d="M535.5 261.1L551.0 261.4M546.3 263.7L551.0 261.4L546.4 258.9"/>
<path d="M535.5 243.3L550.2 248.2M545.1 249.0L550.2 248.2L546.6 244.4"/>
<path d="M535.5 225.3L520.2 222.7M525.1 221.1L520.2 222.7L524.3 225.8"/>
<path d="M535.5 207.2L520.2 204.6M525.1 203.0L520.2 204.6L524.3 207.8"/>
<path d="M535.5 189.0L520.3 186.1M525.2 184.6L520.3 186.1L524.3 189.3"/>
<path d="M535.5 170.7L520.5 166.8M525.6 165.6L520.5 166.8L524.3 170.3"/>
<path d="M535.5 152.2L520.8 147.4M525.9 146.6L520.8 147.4L524.4 151.1"/>
<path d="M535.5 133.6L521.4 127.1M526.6 126.9L521.4 127.1L524.6 131.2"/>
<path d="M535.5 114.9L522.5 106.4M527.6 106.9L522.5 106.4L525.0 111.0"/>
<path d="M535.5 96.0L523.5 86.2M528.6 87.2L523.5 86.2L525.5 90.9"/>
<path d="M535.5 76.9L523.9 66.5M529.0 67.8L523.9 66.5L525.8 71.4"/>
<path d="M535.5 57.6L523.9 47.3M529.0 48.6L523.9 47.3L525.8 52.1"/>
<path d="M535.5 38.2L523.9 27.8M528.9 29.1L523.9 27.8L525.7 32.7"/>
<path d="M552.4 571.0L557.3 556.3M558.1 561.4L557.3 556.3L553.5 559.9"/>
<path d="M552.4 537.1L538.1 531.1M543.3 530.7L538.1 531.1L541.4 535.1"/>
<path d="M552.4 520.2L539.8 511.1M544.9 511.9L539.8 511.1L542.1 515.8"/>
<path d="M552.4 503.2L548.6 488.2M552.1 492.1L548.6 488.2L547.4 493.2"/>
<path d="M552.4 486.2L552.2 470.7M554.7 475.3L552.2 470.7L549.9 475.4"/>
<path d="M552.4 349.0L566.0 341.6M563.1 345.9L566.0 341.6L560.8 341.7"/>
<path d="M552.4 331.6L564.7 322.2M562.5 326.9L564.7 322.2L559.6 323.1"/>
<path d="M552.4 314.1L566.9 308.7M563.4 312.5L566.9 308.7L561.7 308.0"/>
<path d="M552.4 296.5L566.8 290.8M563.4 294.8L566.8 290.8L561.6 290.3"/>
<path d="M552.4 278.9L566.6 272.6M563.3 276.7L566.6 272.6L561.4 272.3"/>
<path d="M552.4 261.1L564.7 251.8M562.5 256.4L564.7 251.8L559.6 252.6"/>
<path d="M552.4 243.3L540.0 234.0M545.1 234.8L540.0 234.0L542.2 238.7"/>
<path d="M552.4 225.3L537.4 221.2M542.5 220.1L537.4 221.2L541.2 224.7"/>
<path d="M552.4 207.2L537.3 203.8M542.3 202.5L537.3 203.8L541.2 207.2"/>
<path d="M552.4 189.0L537.3 185.6M542.3 184.3L537.3 185.6L541.2 189.0"/>
<path d="M552.4 170.7L537.4 166.7M542.5 165.5L537.4 166.7L541.2 170.2"/>
<path d="M552.4 152.2L537.7 147.3M542.8 146.5L537.7 147.3L541.3 151.0"/>
<path d="M552.4 133.6L538.3 127.2M543.5 126.9L538.3 127.2L541.5 131.3"/>
<path d="M552.4 114.9L539.3 106.6M544.4 107.0L539.3 106.6L541.9 111.1"/>
<path d="M552.4 96.0L540.3 86.3M545.4 87.3L540.3 86.3L542.4 91.0"/>
<path d="M552.4 76.9L540.7 66.7M545.8 67.9L540.7 66.7L542.6 71.5"/>
<path d="M552.4 57.6L540.8 47.3M545.9 48.5L540.8 47.3L542.7 52.1"/>
<path d="M552.4 38.2L540.9 27.7M545.9 29.0L540.9 27.7L542.7 32.6"/>
<path d="M569.3 571.0L583.3 564.4M580.2 568.6L583.3 564.4L578.1 564.2"/>
<path d="M569.3 554.1L576.8 540.5M576.6 545.7L576.8 540.5L572.4 543.4"/>
<path d="M569.3 537.1L573.8 522.3M574.7 527.4L573.8 522.3L570.1 526.0"/>
<path d="M569.3 520.2L569.1 504.7M571.5 509.3L569.1 504.7L566.7 509.3"/>
<path d="M569.3 503.2L568.8 487.7M571.4 492.3L568.8 487.7L566.6 492.4"/>
<path d="M569.3 486.2L569.2 470.7M571.6 475.3L569.2 470.7L566.8 475.4"/>
<path d="M569.3 400.8L566.9 385.5M570.0 389.7L566.9 385.5L565.2 390.4"/>
<path d="M569.3 383.6L578.0 370.8M577.4 375.9L578.0 370.8L573.4 373.2"/>
<path d="M569.3 366.3L574.5 351.7M575.2 356.9L574.5 351.7L570.7 355.3"/>
<path d="M569.3 349.0L582.7 341.2M579.9 345.6L582.7 341.2L577.5 341.4"/>
<path d="M569.3 331.6L582.4 323.4M579.8 327.9L582.4 323.4L577.3 323.8"/>
<path d="M569.3 314.1L583.1 307.0M580.1 311.2L583.1 307.0L577.9 307.0"/>
<path d="M569.3 296.5L583.2 289.7M580.1 293.9L583.2 289.7L578.0 289.6"/>
<path d="M569.3 278.9L580.0 267.7M578.5 272.6L580.0 267.7L575.1 269.3"/>
<path d="M569.3 261.1L569.8 245.6M572.0 250.3L569.8 245.6L567.2 250.1"/>
<path d="M569.3 243.3L556.6 234.3M561.7 235.0L556.6 234.3L559.0 239.0"/>
<path d="M569.3 225.3L554.4 221.1M559.4 220.0L554.4 221.1L558.1 224.6"/>
<path d="M569.3 207.2L554.3 203.3M559.4 202.1L554.3 203.3L558.1 206.8"/>
<path d="M569.3 189.0L554.1 185.8M559.1 184.4L554.1 185.8L558.1 189.1"/>
<path d="M569.3 170.7L554.3 166.7M559.4 165.6L554.3 166.7L558.1 170.2"/>
<path d="M569.3 152.2L554.7 147.0M559.8 146.3L554.7 147.0L558.2 150.8"/>
<path d="M569.3 133.6L555.1 127.4M560.3 127.1L555.1 127.4L558.3 131.5"/>
<path d="M569.3 114.9L556.2 106.6M561.3 107.0L556.2 106.6L558.8 111.1"/>
<path d="M569.3 96.0L557.4 86.0M562.5 87.1L557.4 86.0L559.4 90.8"/>
<path d="M569.3 76.9L557.8 66.5M562.8 67.8L557.8 66.5L559.6 71.4"/>
<path d="M569.3 57.6L557.8 47.2M562.8 48.5L557.8 47.2L559.6 52.1"/>
<path d="M569.3 38.2L557.9 27.7M562.9 29.0L557.9 27.7L559.6 32.5"/>
<path d="M586.2 571.0L599.7 563.4M596.9 567.8L599.7 563.4L594.5 563.6"/>
<path d="M586.2 554.1L596.4 542.4M595.2 547.5L596.4 542.4L591.6 544.3"/>
<path d="M586.2 537.1L595.9 525.1M594.9 530.2L595.9 525.1L591.2 527.2"/>
<path d="M586.2 520.2L586.8 504.7M589.0 509.4L586.8 504.7L584.2 509.2"/>
<path d="M586.2 486.2L591.2 471.6M592.0 476.7L591.2 471.6L587.5 475.2"/>
<path d="M586.2 469.2L594.9 456.4M594.3 461.6L594.9 456.4L590.3 458.9"/>
<path d="M586.2 452.2L586.1 436.7M588.5 441.3L586.1 436.7L583.7 441.3"/>
<path d="M586.2 435.1L582.2 420.1M585.7 424.0L582.2 420.1L581.1 425.2"/>
<path d="M586.2 418.0L581.0 403.4M584.8 406.9L581.0 403.4L580.3 408.5"/>
<path d="M586.2 400.8L577.9 387.7M582.4 390.3L577.9 387.7L578.3 392.9"/>
<path d="M586.2 383.6L598.1 373.7M596.1 378.5L598.1 373.7L593.0 374.8"/>
<path d="M586.2 366.3L597.7 356.0M595.9 360.9L597.7 356.0L592.7 357.3"/>
<path d="M586.2 349.0L599.2 340.5M596.6 345.1L599.2 340.5L594.0 341.0"/>
<path d="M586.2 331.6L599.0 322.9M596.5 327.4L599.0 322.9L593.8 323.5"/>
<path d="M586.2 314.1L599.0 305.3M596.5 309.9L599.0 305.3L593.8 306.0"/>
<path d="M586.2 296.5L599.0 287.9M596.5 292.4L599.0 287.9L593.9 288.4"/>
<path d="M586.2 278.9L594.0 265.5M593.7 270.7L594.0 265.5L589.6 268.3"/>
<path d="M586.2 261.1L585.3 245.6M587.9 250.1L585.3 245.6L583.1 250.4"/>
<path d="M586.2 243.3L572.1 236.7M577.3 236.5L572.1 236.7L575.3 240.8"/>
<path d="M586.2 225.3L571.2 221.3M576.3 220.2L571.2 221.3L575.0 224.8"/>
<path d="M586.2 207.2L571.5 202.4M576.6 201.5L571.5 202.4L575.1 206.1"/>
<path d="M586.2 189.0L571.3 184.6M576.4 183.6L571.3 184.6L575.0 188.2"/>
<path d="M586.2 170.7L571.4 166.1M576.5 165.2L571.4 166.1L575.0 169.8"/>
<path d="M586.2 152.2L571.6 147.0M576.7 146.3L571.6 147.0L575.1 150.8"/>
<path d="M586.2 133.6L572.1 127.1M577.3 126.8L572.1 127.1L575.3 131.2"/>
<path d="M586.2 114.9L573.1 106.6M578.3 107.0L573.1 106.6L575.7 111.1"/>
<path d="M586.2 96.0L574.2 86.1M579.3 87.2L574.2 86.1L576.2 90.9"/>
<path d="M586.2 76.9L574.8 66.4M579.8 67.7L574.8 66.4L576.5 71.3"/>
<path d="M586.2 57.6L574.8 47.0M579.8 48.4L574.8 47.0L576.6 51.9"/>
<path d="M586.2 38.2L574.8 27.6M579.8 29.0L574.8 27.6L576.6 32.5"/>
<path d="M603.1 520.2L601.5 504.8M604.3 509.1L601.5 504.8L599.6 509.6"/>
<path d="M603.1 503.2L604.5 487.8M606.5 492.6L604.5 487.8L601.7 492.1"/>
<path d="M603.1 486.2L610.8 472.8M610.6 478.0L610.8 472.8L606.5 475.6"/>
<path d="M603.1 469.2L614.0 458.2M612.4 463.2L614.0 458.2L609.0 459.8"/>
<path d="M603.1 452.2L610.9 438.8M610.6 444.0L610.9 438.8L606.5 441.6"/>
<path d="M603.1 435.1L608.1 420.5M608.9 425.6L608.1 420.5L604.3 424.0"/>
<path d="M603.1 418.0L602.3 402.5M604.9 407.0L602.3 402.5L600.1 407.2"/>
<path d="M603.1 400.8L598.0 386.2M601.8 389.7L598.0 386.2L597.2 391.3"/>
<path d="M603.1 383.6L611.1 370.3M610.7 375.5L611.1 370.3L606.6 373.0"/>
<path d="M603.1 366.3L613.1 354.5M612.0 359.6L613.1 354.5L608.3 356.5"/>
<path d="M603.1 349.0L614.1 338.1M612.5 343.1L614.1 338.1L609.2 339.7"/>
<path d="M603.1 331.6L615.0 321.7M613.0 326.5L615.0 321.7L609.9 322.8"/>
<path d="M603.1 314.1L614.2 303.4M612.6 308.3L614.2 303.4L609.3 304.8"/>
<path d="M603.1 296.5L613.8 285.3M612.3 290.3L613.8 285.3L608.8 287.0"/>
<path d="M603.1 278.9L609.9 264.9M610.0 270.1L609.9 264.9L605.7 268.0"/>
<path d="M603.1 261.1L603.4 245.6M605.7 250.3L603.4 245.6L600.9 250.2"/>
<path d="M603.1 243.3L589.8 235.3M595.0 235.6L589.8 235.3L592.5 239.7"/>
<path d="M603.1 225.3L588.6 219.8M593.7 219.2L588.6 219.8L592.0 223.7"/>
<path d="M603.1 207.2L588.7 201.4M593.9 200.9L588.7 201.4L592.1 205.4"/>
<path d="M603.1 189.0L588.3 184.2M593.4 183.4L588.3 184.2L592.0 187.9"/>
<path d="M603.1 170.7L588.3 165.9M593.4 165.0L588.3 165.9L592.0 169.6"/>
<path d="M603.1 152.2L588.5 146.8M593.7 146.2L588.5 146.8L592.0 150.7"/>
<path d="M603.1 133.6L589.1 127.0M594.2 126.8L589.1 127.0L592.2 131.1"/>
<path d="M603.1 114.9L590.0 106.5M595.2 107.0L590.0 106.5L592.6 111.0"/>
<path d="M603.1 96.0L591.2 86.0M596.2 87.1L591.2 86.0L593.2 90.8"/>
<path d="M603.1 76.9L591.9 66.1M596.9 67.6L591.9 66.1L593.5 71.0"/>
<path d="M603.1 57.6L591.8 46.9M596.8 48.4L591.8 46.9L593.5 51.8"/>
<path d="M603.1 38.2L591.8 27.5M596.8 28.9L591.8 27.5L593.5 32.4"/>
<path d="M620.0 571.0L613.8 556.8M617.8 560.1L613.8 556.8L613.4 562.0"/>
<path d="M620.0 554.1L609.3 542.8M614.2 544.5L609.3 542.8L610.7 547.8"/>
<path d="M620.0 537.1L606.8 529.0M611.9 529.4L606.8 529.0L609.4 533.5"/>
<path d="M620.0 520.2L609.0 509.3M613.9 510.8L609.0 509.3L610.5 514.2"/>
<path d="M620.0 503.2L618.6 487.8M621.4 492.2L618.6 487.8L616.6 492.6"/>
<path d="M620.0 486.2L629.5 474.0M628.5 479.1L629.5 474.0L624.7 476.2"/>
<path d="M620.0 469.2L631.8 459.2M629.8 464.0L631.8 459.2L626.7 460.4"/>
<path d="M620.0 452.2L629.9 440.3M628.8 445.4L629.9 440.3L625.1 442.3"/>
<path d="M620.0 435.1L628.7 422.3M628.1 427.5L628.7 422.3L624.2 424.8"/>
<path d="M620.0 418.0L622.9 402.8M624.4 407.8L622.9 402.8L619.7 406.8"/>
<path d="M620.0 400.8L617.0 385.6M620.2 389.7L617.0 385.6L615.5 390.6"/>
<path d="M620.0 383.6L621.9 368.2M623.7 373.1L621.9 368.2L618.9 372.5"/>
<path d="M620.0 366.3L628.4 353.4M627.9 358.5L628.4 353.4L623.9 355.9"/>
<path d="M620.0 349.0L629.1 336.5M628.3 341.6L629.1 336.5L624.4 338.8"/>
<path d="M620.0 331.6L630.0 319.8M628.9 324.9L630.0 319.8L625.2 321.7"/>
<path d="M620.0 314.1L628.8 301.3M628.1 306.5L628.8 301.3L624.2 303.8"/>
<path d="M620.0 296.5L628.5 283.6M627.9 288.7L628.5 283.6L623.9 286.1"/>
<path d="M620.0 278.9L625.3 264.3M625.9 269.4L625.3 264.3L621.4 267.8"/>
<path d="M620.0 261.1L618.9 245.7M621.6 250.1L618.9 245.7L616.9 250.4"/>
<path d="M620.0 243.3L607.5 234.0M612.6 234.8L607.5 234.0L609.8 238.7"/>
<path d="M620.0 225.3L605.4 220.1M610.5 219.4L605.4 220.1L608.9 223.9"/>
<path d="M620.0 207.2L605.2 202.6M610.3 201.7L605.2 202.6L608.8 206.2"/>
<path d="M620.0 189.0L605.1 184.5M610.2 183.6L605.1 184.5L608.8 188.2"/>
<path d="M620.0 170.7L605.0 166.5M610.1 165.4L605.0 166.5L608.8 170.0"/>
<path d="M620.0 152.2L605.5 146.7M610.6 146.1L605.5 146.7L608.9 150.6"/>
<path d="M620.0 133.6L605.9 127.1M611.1 126.8L605.9 127.1L609.1 131.2"/>
<path d="M620.0 114.9L606.8 106.7M611.9 107.1L606.8 106.7L609.4 111.2"/>
<path d="M620.0 96.0L608.0 86.2M613.0 87.2L608.0 86.2L610.0 90.9"/>
<path d="M620.0 57.6L608.6 47.0M613.6 48.4L608.6 47.0L610.3 51.9"/>
<path d="M620.0 38.2L608.6 27.6M613.6 29.0L608.6 27.6L610.3 32.5"/>
<path d="M636.8 571.0L626.0 559.9M630.9 561.5L626.0 559.9L627.5 564.9"/>
<path d="M636.8 554.1L624.4 544.8M629.5 545.7L624.4 544.8L626.7 549.5"/>
<path d="M636.8 537.1L624.9 527.2M630.0 528.3L624.9 527.2L626.9 532.0"/>
<path d="M636.8 520.2L627.6 507.7M632.3 510.0L627.6 507.7L628.4 512.8"/>
<path d="M636.8 503.2L634.2 488.0M637.3 492.1L634.2 488.0L632.6 492.9"/>
<path d="M636.8 486.2L643.3 472.1M643.5 477.3L643.3 472.1L639.2 475.3"/>
<path d="M636.8 469.2L646.7 457.3M645.6 462.3L646.7 457.3L641.9 459.3"/>
<path d="M636.8 452.2L647.0 440.5M645.8 445.5L647.0 440.5L642.2 442.4"/>
<path d="M636.8 435.1L644.9 421.9M644.6 427.1L644.9 421.9L640.5 424.6"/>
<path d="M636.8 418.0L640.6 403.0M641.8 408.0L640.6 403.0L637.2 406.8"/>
<path d="M636.8 400.8L637.4 385.3M639.6 390.0L637.4 385.3L634.8 389.9"/>
<path d="M636.8 383.6L637.7 368.1M639.9 372.9L637.7 368.1L635.1 372.6"/>
<path d="M636.8 366.3L642.4 351.9M643.0 357.0L642.4 351.9L638.5 355.3"/>
<path d="M636.8 349.0L644.3 335.4M644.2 340.6L644.3 335.4L640.0 338.3"/>
<path d="M636.8 331.6L644.9 318.3M644.6 323.5L644.9 318.3L640.5 321.0"/>
<path d="M636.8 314.1L644.5 300.6M644.3 305.8L644.5 300.6L640.1 303.4"/>
<path d="M636.8 296.5L642.9 282.2M643.3 287.4L642.9 282.2L638.9 285.6"/>
<path d="M636.8 278.9L640.1 263.7M641.5 268.7L640.1 263.7L636.8 267.7"/>
<path d="M636.8 261.1L635.1 245.7M638.0 250.0L635.1 245.7L633.2 250.6"/>
<path d="M636.8 243.3L626.3 231.9M631.2 233.7L626.3 231.9L627.7 236.9"/>
<path d="M636.8 225.3L623.6 217.3M628.8 217.6L623.6 217.3L626.3 221.7"/>
<path d="M636.8 207.2L622.4 201.6M627.6 201.1L622.4 201.6L625.8 205.5"/>
<path d="M636.8 189.0L622.1 184.2M627.3 183.3L622.1 184.2L625.7 187.9"/>
<path d="M636.8 170.7L622.1 165.9M627.2 165.1L622.1 165.9L625.7 169.6"/>
<path d="M636.8 152.2L622.4 146.5M627.6 146.0L622.4 146.5L625.8 150.4"/>
<path d="M636.8 133.6L622.9 127.0M628.0 126.8L622.9 127.0L626.0 131.1"/>
<path d="M636.8 114.9L623.5 107.0M628.7 107.2L623.5 107.0L626.3 111.4"/>
<path d="M636.8 96.0L624.4 86.7M629.5 87.5L624.4 86.7L626.7 91.4"/>
<path d="M636.8 76.9L625.1 66.8M630.1 68.0L625.1 66.8L627.0 71.6"/>
<path d="M636.8 57.6L625.3 47.3M630.3 48.6L625.3 47.3L627.1 52.2"/>
<path d="M636.8 38.2L625.4 27.7M630.4 29.1L625.4 27.7L627.2 32.6"/>
</g>
<g clip-path="url(#mc)" stroke="#000" stroke-width="1" stroke-linejoin="round" shape-rendering="crispEdges">
<polygon points="112.0,37.0 502.0,37.0 502.0,39.0 497.0,47.0 494.0,55.0 496.0,63.0 493.0,69.0 486.0,73.0 481.0,78.0 478.0,85.0 473.0,93.0 467.0,100.0 463.0,105.0 463.0,115.0 459.0,123.0 452.0,128.0 447.0,135.0 442.0,139.0 434.0,144.0 428.0,153.0 420.0,158.0 414.0,160.0 409.0,165.0 405.0,171.0 395.0,172.0 385.0,175.0 379.0,176.0 374.0,180.0 369.0,185.0 365.0,186.0 363.0,178.0 360.0,171.0 357.0,169.0 359.0,175.0 361.0,182.0 359.0,187.0 356.0,184.0 353.0,187.0 350.0,180.0 349.0,187.0 351.0,191.0 345.0,192.0 340.0,193.0 335.0,194.0 329.0,195.0 323.0,197.0 317.0,199.0 312.0,201.0 308.0,203.0 306.0,200.0 304.0,205.0 303.0,210.0 306.0,214.0 308.0,217.0 304.0,220.0 299.0,219.0 296.0,213.0 295.0,207.0 297.0,201.0 293.0,196.0 290.0,195.0 287.0,199.0 283.0,197.0 279.0,195.0 275.0,192.0 271.0,195.0 265.0,197.0 259.0,201.0 254.0,205.0 248.0,207.0 243.0,208.0 242.0,214.0 240.0,220.0 232.0,226.0 229.6,232.0 228.0,238.0 225.6,243.0 227.0,247.0 230.0,252.0 235.0,256.0 239.0,260.0 240.0,266.0 243.0,272.0 248.0,277.0 254.0,282.0 262.0,288.0 268.0,294.0 274.0,301.0 280.0,308.0 282.0,315.0 284.0,322.0 286.0,330.0 287.0,338.0 288.0,345.0 290.0,350.0 288.0,356.0 287.0,362.0 286.0,368.0 284.0,373.0 280.0,377.0 274.0,381.0 268.0,384.0 262.0,388.0 256.0,392.0 250.0,395.0 245.0,400.0 242.0,406.0 238.0,409.0 232.0,412.0 226.0,415.0 221.0,418.0 218.0,422.0 213.0,424.0 212.0,418.0 212.0,412.0 214.0,406.0 215.0,401.0 211.0,399.0 206.0,396.0 201.0,393.0 198.0,397.0 196.0,392.0 192.0,389.0 193.0,384.0 190.0,381.0 187.0,385.0 185.0,389.0 182.0,382.0 179.0,376.0 177.0,370.0 174.0,365.0 170.0,361.0 166.0,358.0 161.0,355.0 157.0,355.0 152.0,355.0 147.0,355.0 144.0,352.0 147.0,346.0 147.0,340.0 140.0,339.0 132.0,341.0 130.0,346.0 130.0,354.0 130.0,360.0 128.0,366.0 125.0,372.0 122.0,380.0 119.0,388.0 117.0,396.0 116.0,404.0 118.0,412.0 124.0,414.0 129.0,410.0 130.0,416.0 130.0,422.0 133.0,428.0 136.0,434.0 137.0,442.0 139.0,446.0 145.0,451.0 152.0,454.0 158.0,457.0 164.0,462.0 169.0,466.0 174.0,470.0 179.0,475.0 184.0,480.0 187.0,486.0 188.0,494.0 188.0,502.0 187.0,508.0 189.0,514.0 190.0,520.0 193.0,525.0 196.0,529.0 199.0,534.0 201.0,540.0 202.0,544.0 198.0,547.0 193.0,546.0 190.0,548.0 187.0,549.0 184.0,546.0 180.0,542.0 176.0,539.0 171.0,536.0 167.0,533.0 162.0,530.0 158.0,526.0 154.0,522.0 152.0,517.0 149.0,512.0 146.0,507.0 143.0,502.0 141.0,497.0 140.0,491.0 138.0,485.0 137.0,479.0 136.0,473.0 135.0,467.0 133.0,461.0 130.0,456.0 127.0,451.0 123.0,446.0 119.0,440.0 116.0,435.0 112.0,432.0" fill="#c0c0c0"/>
<polygon points="287.0,227.0 295.0,226.0 305.0,225.0 312.0,224.0 316.0,228.0 316.0,233.0 313.0,239.0 310.0,245.0 305.0,250.0 299.0,253.0 295.0,256.0 290.0,256.6 284.0,254.0 279.0,251.0 277.0,246.0 276.0,241.0 278.0,236.0 282.0,232.0" fill="#c0c0c0"/>
<polygon points="495.0,128.0 500.0,131.0 501.0,136.0 499.0,143.0 497.0,150.0 495.0,157.0 493.0,164.0 490.0,170.0 486.0,175.0 484.0,180.0 483.0,186.0 482.0,190.0 480.0,189.0 479.0,183.0 476.0,179.0 473.0,175.0 471.0,169.0 471.0,162.0 472.0,155.0 475.0,149.0 478.0,143.0 482.0,137.0 486.0,132.0 491.0,129.0" fill="#c0c0c0"/>
<polygon points="112.0,509.0 118.0,512.0 124.0,517.0 129.0,522.0 134.0,527.0 140.0,531.0 145.0,534.0 146.0,538.0 151.0,536.0 153.0,540.0 158.0,542.0 163.0,543.0 166.0,547.0 170.0,552.0 176.0,556.0 182.0,559.0 186.0,562.0 190.0,565.0 193.0,571.0 125.0,571.0 120.0,565.0 112.0,563.0" fill="#c0c0c0"/>
<polygon points="286.0,572.0 282.0,564.0 281.0,556.0 283.0,549.0 287.0,542.0 291.0,537.0 294.0,540.0 299.0,542.0 305.0,542.0 312.0,543.0 318.0,543.0 319.0,536.0 321.0,530.0 323.0,524.0 327.0,522.0 334.0,521.0 341.0,520.0 349.0,518.0 354.0,513.0 358.0,508.0 362.0,502.0 366.0,496.0 368.0,493.0 373.0,492.0 378.0,489.0 380.0,488.0 384.0,486.0 388.0,481.0 391.0,479.0 394.0,476.0 398.0,472.0 402.0,468.0 406.0,464.0 410.0,459.0 413.0,454.0 415.0,451.0 417.0,456.0 419.0,453.0 421.0,450.0 423.0,455.0 426.0,458.0 428.0,463.0 432.0,467.0 436.0,470.0 440.0,472.0 446.0,475.0 453.0,478.0 456.0,480.0 454.0,483.0 448.0,484.0 442.0,486.0 438.0,488.0 440.0,493.0 446.0,494.0 442.0,498.0 434.0,499.0 430.0,501.0 432.0,507.0 428.0,510.0 431.0,516.0 430.0,522.0 432.0,528.0 436.0,532.0 432.0,538.0 434.0,544.0 440.0,548.0 446.0,551.0 451.0,554.0 446.0,557.0 438.0,556.0 434.0,554.0 432.0,560.0 429.0,565.0 426.0,572.0" fill="#c0c0c0"/>
<polygon points="467.0,572.0 466.0,564.0 469.0,559.0 474.0,557.0 478.0,552.0 484.0,549.0 490.0,549.0 496.0,551.0 502.0,553.0 510.0,554.0 520.0,555.0 528.0,556.0 536.0,554.0 542.0,550.0 546.0,546.0 550.0,543.0 556.0,543.0 557.0,546.0 553.0,550.0 550.0,554.0 547.0,559.0 542.0,563.0 534.0,565.0 524.0,564.0 514.0,562.0 504.0,561.0 494.0,560.0 484.0,561.0 476.0,563.0 471.0,565.0 469.0,572.0" fill="#c0c0c0"/>
<polygon points="608.0,529.0 612.0,526.0 615.0,528.0 614.0,533.0 611.0,536.0 608.0,535.0" fill="#c0c0c0"/>
<polygon points="595.0,548.0 597.0,542.0 600.0,538.0 603.0,536.0 605.0,540.0 604.0,545.0 603.0,549.0 608.0,546.0 613.0,544.0 616.0,546.0 615.0,550.0 610.0,554.0 605.0,557.0 609.0,560.0 614.0,562.0 618.0,565.0 614.0,564.0 608.0,562.0 603.0,562.0 601.0,566.0 600.0,572.0 597.0,565.0 595.0,560.0 594.0,554.0" fill="#c0c0c0"/>
<polygon points="581.0,495.0 584.0,494.0 585.0,500.0 584.0,506.0 582.0,507.0 581.0,501.0" fill="#c0c0c0"/>
<polygon points="560.0,508.0 563.0,507.0 564.0,511.0 562.0,513.0 560.0,512.0" fill="#c0c0c0"/>
<polygon points="466.0,362.0 470.0,360.0 473.0,362.0 473.0,366.0 470.0,369.0 467.0,368.0 465.0,365.0" fill="#c0c0c0"/>
<polygon points="467.0,370.0 470.0,370.0 471.0,374.0 468.0,375.0" fill="#c0c0c0"/>
<polygon points="592.0,112.0 596.0,108.0 601.0,105.0 606.0,101.0 610.0,98.0 611.0,100.0 607.0,104.0 602.0,108.0 598.0,111.0 594.0,114.0" fill="#c0c0c0"/>
<polygon points="623.0,76.0 627.0,72.0 631.0,68.0 633.0,69.0 630.0,73.0 626.0,77.0 624.0,78.0" fill="#c0c0c0"/>
<polygon points="154.0,536.0 158.0,535.0 160.0,537.0 159.0,540.0 155.0,541.0 153.0,539.0" fill="#c0c0c0"/>
<polygon points="166.0,545.0 170.0,544.0 172.0,547.0 175.0,550.0 178.0,553.0 176.0,555.0 172.0,553.0 168.0,550.0" fill="#c0c0c0"/>
<polygon points="176.0,552.0 181.0,553.0 185.0,556.0 183.0,558.0 178.0,556.0" fill="#c0c0c0"/>
<polygon points="196.0,552.0 200.0,551.0 202.0,553.0 200.0,555.0 196.0,555.0" fill="#c0c0c0"/>
<polygon points="204.0,551.0 208.0,551.0 209.0,554.0 206.0,556.0 204.0,554.0" fill="#c0c0c0"/>
<polygon points="481.0,251.0 487.0,250.0 493.0,252.0 498.0,255.0 503.0,256.0 505.0,251.0 507.0,253.0 506.0,259.0 507.0,266.0 509.0,272.0 511.0,278.0 509.0,284.0 506.0,290.0 503.0,295.0 499.0,298.0 496.0,301.0 494.0,306.0 493.4,308.5 494.1,312.8 495.5,317.1 496.2,320.6 497.6,324.2 499.8,327.0 502.6,329.1 505.5,329.8 507.6,328.4 510.4,326.3 513.3,324.9 516.8,325.6 518.9,327.7 520.4,330.6 521.8,333.4 523.9,334.1 526.0,332.7 528.9,333.4 532.4,333.4 535.3,334.8 531.7,335.5 529.6,336.9 530.3,339.8 531.7,342.6 533.1,345.5 535.3,347.6 537.4,349.7 538.1,353.3 536.7,355.4 534.6,354.0 533.8,350.4 531.7,349.0 528.9,348.3 526.0,346.9 525.3,344.0 524.6,340.5 523.2,337.6 521.1,335.5 519.6,332.0 518.2,328.4 515.4,326.3 511.8,327.0 509.0,329.1 508.3,332.7 509.7,335.5 511.8,338.4 513.3,341.2 511.8,344.0 509.7,341.9 507.6,339.1 505.5,336.2 502.6,334.1 499.8,332.7 496.2,333.4 493.4,335.5 489.8,337.6 486.3,335.5 482.7,333.4 479.2,332.0 479.9,328.4 481.3,324.9 484.9,322.0 483.5,318.5 479.2,318.5 475.6,319.2 472.8,315.6 470.7,310.7 469.0,308.0 467.0,302.0 465.0,296.0 466.0,291.0 470.0,293.0 474.0,292.0 475.0,287.0 476.0,281.0 477.0,275.0 476.0,269.0 477.0,263.0 478.0,257.0" fill="#c0c0c0"/>
<polygon points="536.7,332.7 539.5,330.6 542.4,332.7 542.4,336.2 540.2,339.1 537.4,338.4 536.4,335.5" fill="#c0c0c0"/>
<polygon points="477.1,341.2 480.6,339.8 484.9,340.5 489.1,342.6 492.0,346.2 493.4,350.4 494.1,354.7 492.7,358.2 489.8,360.4 487.0,361.8 485.6,358.9 484.2,354.7 482.0,350.4 479.9,346.2 477.8,343.3" fill="#c0c0c0"/>
<polygon points="499.8,339.1 503.3,339.1 504.7,341.9 503.3,345.5 500.5,344.7 499.5,341.9" fill="#c0c0c0"/>
<polygon points="502.6,354.7 504.7,354.7 504.7,361.8 502.6,363.2" fill="#c0c0c0"/>
<polygon points="509.7,357.5 514.0,357.5 514.7,359.6 512.6,361.0 510.1,360.4" fill="#c0c0c0"/>
<polygon points="516.5,345.0 518.5,345.0 526.5,352.5 525.0,354.0" fill="#c0c0c0"/>
<polygon points="529.3,353.0 531.0,353.0 533.0,358.0 531.5,358.5" fill="#c0c0c0"/>
<polygon points="523.2,356.8 526.0,355.4 528.9,357.5 531.7,361.1 534.6,364.6 536.7,367.5 535.3,369.6 532.4,367.5 529.6,364.6 527.5,362.5 525.3,364.6 523.2,367.5 521.8,365.3 523.2,361.8" fill="#c0c0c0"/>
<polygon points="540.9,356.8 545.9,356.1 551.6,356.1 557.3,357.5 560.8,361.1 561.5,366.0 560.1,370.3 561.5,374.6 562.9,378.8 560.1,380.2 556.6,377.4 553.0,373.1 550.2,368.9 547.3,364.6 544.5,361.1 542.4,358.9" fill="#c0c0c0"/>
<polygon points="541.6,372.4 544.5,371.7 547.3,374.6 549.6,379.3 553.2,384.9 556.0,390.6 556.7,394.9 553.9,396.3 551.0,393.5 548.9,388.5 546.1,383.5 543.2,379.3 541.4,374.6" fill="#c0c0c0"/>
<polygon points="502.6,369.6 506.2,370.3 510.4,372.4 514.7,374.6 518.9,374.6 521.8,376.0 521.1,378.8 518.2,381.7 515.4,384.5 512.6,387.3 509.7,389.5 506.9,390.9 504.0,392.3 501.9,393.0 500.5,390.2 501.9,385.9 502.6,381.7 503.3,377.4 502.2,373.1" fill="#c0c0c0"/>
<polygon points="519.8,384.9 523.4,383.5 526.9,384.9 527.6,389.2 526.2,394.9 524.8,400.5 524.1,405.5 524.8,410.5 523.4,415.5 520.5,416.9 518.4,414.0 516.3,410.5 512.7,408.4 509.9,406.2 509.2,402.7 512.7,401.3 516.3,400.5 517.0,396.3 517.7,391.3 518.4,387.8" fill="#c0c0c0"/>
<polygon points="532.6,382.8 536.1,382.1 536.1,387.8 534.0,393.5 531.2,398.4 528.3,403.4 526.2,408.4 524.8,409.8 525.5,404.8 527.6,399.1 529.7,393.5 531.2,387.8" fill="#c0c0c0"/>
<polygon points="534.0,401.3 538.3,398.4 542.5,399.1 545.4,402.0 544.6,404.8 541.1,406.9 536.8,406.9 534.0,404.8" fill="#c0c0c0"/>
<polygon points="527.6,412.6 531.2,412.6 531.2,414.7 527.6,414.7" fill="#c0c0c0"/>
<polygon points="546.8,413.3 548.9,413.3 548.9,415.5 546.8,415.5" fill="#c0c0c0"/>
<polygon points="560.3,404.8 561.0,410.5 561.7,416.2 559.6,417.6 556.7,419.0 553.2,417.6 550.3,419.0 548.9,423.3 548.2,426.1 543.9,424.7 541.1,426.8 540.4,430.4 536.8,431.8 532.6,433.9 531.2,436.0 532.6,430.4 531.9,426.1 529.0,424.0 525.5,424.0 521.9,426.1 519.1,428.9 518.4,432.5 514.1,433.9 509.9,435.3 506.3,437.5 504.2,441.7 502.8,446.0 501.4,449.5 502.1,452.4 504.9,452.4 506.3,448.8 508.5,444.6 511.3,441.7 514.8,440.3 517.7,443.8 520.5,441.7 523.4,440.3 525.5,443.1 528.3,441.0 531.2,438.9 534.0,439.6 537.6,441.7 539.7,444.6 538.3,448.8 536.1,452.4 536.8,457.3 539.0,461.6 541.8,465.1 545.4,467.3 549.6,468.7 552.0,471.0 557.0,472.0 559.0,476.0 563.0,473.0 565.0,469.0 563.8,465.8 561.0,461.6 559.6,457.3 561.0,452.4 563.1,448.8 565.2,446.0 567.4,448.1 569.5,451.6 572.3,454.5 571.6,458.7 573.0,463.0 574.5,458.7 575.2,453.8 577.3,451.6 579.4,447.4 579.4,441.7 578.0,436.0 576.6,430.4 575.2,425.4 573.7,420.4 570.9,415.5 567.4,411.2 563.8,407.6" fill="#c0c0c0"/>
<polygon points="417.0,437.0 419.0,431.0 423.0,426.0 428.0,420.0 434.0,415.0 440.0,409.0 445.0,403.0 449.0,398.0 454.0,393.0 457.0,389.0 456.0,382.0 458.0,378.0 460.0,375.0 464.0,373.0 466.0,375.0 462.0,379.0 461.0,384.0 462.0,391.0 460.0,394.0 456.0,397.0 451.0,401.0 447.0,406.0 443.0,411.0 437.0,417.0 431.0,422.0 426.0,427.0 422.0,431.0 420.0,436.0 418.0,438.0" fill="#c0c0c0"/>
<polygon points="417.0,447.0 422.0,446.0 422.0,449.0 418.0,450.0" fill="#c0c0c0"/>
<polygon points="266.0,500.0 270.0,499.0 272.0,503.0 271.0,508.0 268.0,509.0 266.0,505.0" fill="#c0c0c0"/>
<polygon points="500.0,457.0 505.0,457.0 505.0,461.0 500.0,461.0" fill="#c0c0c0"/>
<polygon points="500.0,314.0 504.0,314.0 504.0,320.0 501.0,320.0" fill="#c0c0c0"/>
<polyline points="264.0,197.0 258.0,195.0 253.0,193.0 248.0,190.0 244.0,187.0 242.0,182.0 243.0,177.0 244.0,173.0 238.0,172.0 232.0,171.0 227.0,169.0 222.0,165.0 220.0,163.6 216.0,166.0 212.0,168.0 210.0,172.0 206.0,174.0 202.0,176.0 198.0,175.0 195.0,179.0 192.0,176.0 189.0,178.0 186.0,175.0 182.0,180.0 178.0,177.0 173.0,175.0 170.0,178.0 168.0,182.0" fill="none"/>
<polyline points="168.0,182.0 170.0,185.0 174.0,190.0 178.0,193.0 180.0,198.0 179.0,203.0 182.0,208.0 185.0,210.0 190.0,211.0 194.0,212.0 198.0,208.0 202.0,209.0 206.0,213.0 209.0,217.0 212.0,220.0 214.0,224.0 212.0,228.0 209.0,231.0 204.0,232.0 200.0,234.0 196.0,238.0 200.0,240.0 206.0,243.0 212.0,246.0 217.0,250.0 218.0,255.0 221.0,258.0 225.0,262.0 226.0,265.0 232.0,271.0 238.0,277.0 242.0,284.0 248.0,289.0 254.0,294.0 252.0,300.0 258.0,305.0 260.0,310.0 258.0,315.0 257.0,320.0 255.0,323.0" fill="none"/>
<polyline points="168.0,182.0 164.0,181.0 160.0,180.0 157.0,183.0 158.0,188.0 160.0,193.0 160.0,198.0 161.0,203.0 157.0,204.0 153.0,203.0 151.0,199.0 150.0,194.0 146.0,195.0 142.0,198.0 137.0,199.0 133.0,198.0 131.0,193.0 129.0,189.0 124.0,188.0 119.0,187.0 117.0,183.0 119.0,178.0 120.0,173.0 123.0,171.0 118.0,169.0 113.0,168.0" fill="none"/>
<polyline points="150.0,194.0 148.0,199.0 143.0,201.0 141.0,206.0 140.0,209.0 135.0,211.0 133.0,215.0 134.0,219.0 131.0,217.0 127.0,218.0 123.0,219.0 121.0,222.0 116.0,223.0 113.0,226.0" fill="none"/>
<polyline points="134.0,219.0 137.0,221.0 140.0,225.0 139.0,229.0 138.0,233.0 142.0,234.0 147.0,233.0 151.0,234.0 152.0,239.0 153.0,244.0 151.0,249.0 150.0,254.0 149.0,259.0 150.0,264.0 147.0,268.0 146.0,270.0 149.0,272.0 153.0,268.0 159.0,263.0 165.0,259.0 170.0,261.0 174.0,263.0 179.0,261.0 183.0,257.0 186.0,254.0 190.0,254.0 195.0,255.0 199.0,258.0 202.0,262.0 204.0,265.0 210.0,270.0 211.0,277.0 210.0,284.0 214.0,290.0 219.0,295.0 224.0,299.0 225.0,305.0 223.0,311.0 224.0,317.0 222.0,323.0 219.0,326.0" fill="none"/>
<polyline points="178.0,365.0 175.0,359.0 173.0,353.0 170.0,347.0 170.0,340.0 174.0,336.0 178.0,331.0 182.0,327.0 188.0,325.0 196.0,324.6 206.0,324.6 214.0,324.0 219.0,326.0 224.0,328.0 230.0,329.0 235.0,325.0 240.0,323.0 246.0,325.0 252.0,323.0 255.0,323.0" fill="none"/>
<polyline points="255.0,323.0 254.0,329.0 257.0,335.0 259.0,343.0 258.0,351.0 258.0,359.0 252.0,362.0 246.0,365.0 240.0,367.0 236.0,371.0 230.0,373.0 229.0,377.0 233.0,381.0 235.0,386.0 230.0,385.0 225.0,384.0 222.0,387.0 219.0,390.0 214.0,391.0 210.0,393.0" fill="none"/>
<polyline points="113.0,332.0 117.0,335.0 116.0,345.0 119.0,353.0 122.0,361.0 125.0,370.0 121.0,377.0 116.0,383.0 113.0,386.0" fill="none"/>
<polyline points="133.0,457.0 140.0,459.0 145.0,463.0 147.0,468.0 149.0,473.0 153.0,474.0 157.0,471.0 162.0,472.0 165.0,467.0" fill="none"/>
<polyline points="291.0,538.0 295.0,544.0 300.0,549.0 307.0,555.0 315.0,554.0 323.0,552.0 331.0,552.0 335.0,547.0 340.0,544.0 349.0,544.0 355.0,547.0 363.0,549.0 371.0,546.0 377.0,544.0 381.0,536.0 385.0,529.0 387.0,522.0 390.0,517.0 394.0,510.0 394.0,502.0 397.0,498.0 405.0,497.0 413.0,498.0 420.0,498.0 428.0,497.0 434.0,499.0" fill="none"/>
<polyline points="373.0,492.0 374.0,498.0 378.0,502.0 382.0,498.0 383.0,490.0" fill="none"/>
<polyline points="386.0,488.0 386.0,496.0 390.0,497.0 389.0,487.0" fill="none"/>
<polyline points="301.0,162.0 304.0,160.0 307.0,161.0 311.0,163.0 316.0,162.0 320.0,161.0 323.0,161.0" fill="none"/>
<polyline points="230.0,315.0 231.0,322.0" fill="none"/>
<polyline points="230.0,338.0 231.0,344.0" fill="none"/>
<polyline points="232.0,352.0 232.0,358.0" fill="none"/>
<polyline points="211.0,365.0 214.0,362.0" fill="none"/>
<polyline points="219.0,363.0 224.0,362.0 225.0,359.0" fill="none"/>
<polyline points="214.0,373.0 216.0,380.0 218.0,386.0 222.0,392.0" fill="none"/>
<polyline points="218.0,374.0 220.0,381.0 223.0,386.0" fill="none"/>
<path fill="#000" stroke="none" d="M420 158h3v1h-3zM422 159h2v3h-2zM423 158h1v1h-1zM423 156h1v3h-1zM426 158h1v1h-1zM427 156h1v3h-1zM427 154h1v1h-1zM428 153h2v1h-2zM431 153h3v3h-3zM431 152h3v1h-3zM432 151h1v3h-1zM431 149h3v3h-3zM432 149h3v2h-3zM433 147h1v3h-1zM433 146h2v3h-2zM434 146h2v2h-2zM434 144h3v2h-3zM436 144h2v2h-2zM438 145h3v3h-3zM439 145h2v3h-2zM440 143h2v1h-2zM444 141h1v3h-1zM445 140h3v2h-3zM445 139h3v2h-3zM446 138h1v3h-1zM446 136h2v1h-2zM448 136h2v1h-2zM449 135h2v1h-2zM451 132h2v3h-2zM452 128h1v3h-1zM454 129h3v1h-3zM454 126h2v3h-2zM456 128h1v3h-1zM460 126h2v3h-2zM460 124h2v2h-2zM462 123h1v1h-1zM461 121h1v1h-1zM461 119h1v3h-1zM461 118h2v3h-2zM465 119h3v2h-3zM463 116h2v3h-2zM463 115h2v2h-2zM464 114h1v1h-1zM466 112h2v3h-2zM463 111h3v2h-3zM465 110h1v3h-1zM466 109h1v3h-1zM467 106h2v1h-2zM466 107h2v3h-2zM467 106h1v1h-1zM466 102h3v2h-3zM466 101h1v2h-1zM467 100h3v2h-3zM471 102h2v2h-2zM469 98h2v1h-2zM471 98h3v1h-3zM473 98h3v1h-3zM473 95h3v1h-3zM473 93h3v2h-3zM477 94h3v2h-3zM477 92h1v3h-1zM479 92h1v1h-1zM477 89h3v1h-3zM479 89h2v3h-2zM480 86h1v1h-1zM481 85h1v3h-1zM479 83h1v1h-1zM480 82h3v1h-3zM481 81h3v2h-3zM483 80h2v3h-2zM485 80h2v3h-2zM483 76h3v1h-3zM487 76h1v1h-1zM487 75h1v3h-1zM489 75h3v3h-3zM490 75h3v1h-3zM490 72h1v3h-1zM490 70h1v2h-1zM494 73h3v3h-3zM494 69h3v3h-3zM495 67h3v2h-3zM498 63h2v1h-2zM497 61h3v1h-3zM496 60h2v1h-2zM498 57h3v2h-3zM498 55h2v1h-2zM494 55h2v1h-2zM497 52h3v2h-3zM496 51h2v1h-2zM496 49h3v2h-3zM496 48h2v3h-2zM499 48h1v1h-1zM502 47h1v1h-1zM499 43h1v2h-1zM503 44h3v2h-3zM502 42h3v3h-3zM502 41h2v1h-2zM345 192h1v2h-1zM348 194h1v3h-1zM350 194h2v1h-2zM352 192h2v3h-2zM353 191h1v1h-1zM354 188h2v3h-2zM357 189h2v2h-2zM356 186h2v1h-2zM358 185h3v3h-3zM361 184h2v1h-2zM361 187h3v2h-3zM362 188h3v2h-3zM366 189h2v1h-2zM368 187h2v2h-2zM372 184h2v2h-2zM372 182h2v3h-2zM373 181h1v3h-1zM375 181h1v2h-1zM375 180h2v3h-2zM376 178h2v1h-2zM377 177h2v1h-2zM379 178h1v1h-1zM379 176h2v1h-2zM381 178h2v1h-2zM382 178h1v3h-1zM386 178h3v2h-3zM387 177h2v1h-2zM388 176h1v1h-1zM390 175h2v3h-2zM392 175h3v3h-3zM393 175h1v3h-1zM395 175h3v3h-3zM395 172h1v1h-1zM397 175h2v2h-2zM398 174h3v3h-3zM399 173h1v2h-1zM400 174h3v3h-3zM401 173h3v3h-3zM403 174h2v1h-2zM404 171h3v3h-3zM407 171h2v3h-2zM406 169h3v3h-3zM409 169h2v2h-2zM410 168h3v3h-3zM410 167h2v2h-2zM410 164h2v2h-2zM411 163h2v2h-2zM414 164h3v1h-3zM413 161h2v1h-2zM414 160h3v2h-3zM417 162h1v1h-1zM418 159h3v2h-3zM266 199h2v1h-2zM268 198h2v2h-2zM268 195h2v2h-2zM270 197h2v2h-2zM271 195h2v1h-2zM272 195h2v1h-2zM274 192h2v2h-2zM275 193h1v2h-1zM279 195h2v1h-2zM280 196h2v1h-2zM285 197h2v1h-2zM288 200h2v1h-2zM288 197h1v1h-1zM290 196h2v2h-2zM292 197h2v2h-2zM293 197h1v1h-1zM294 199h2v1h-2zM295 199h2v2h-2zM296 200h1v1h-1zM297 201h1v2h-1zM298 202h1v2h-1zM300 202h1v2h-1zM301 202h2v2h-2zM302 201h1v1h-1zM303 201h2v2h-2zM305 201h1v1h-1zM305 201h2v2h-2zM306 201h2v2h-2zM307 202h1v1h-1zM309 204h2v1h-2zM309 202h1v1h-1zM310 201h2v1h-2zM314 201h1v1h-1zM315 201h1v2h-1zM316 201h1v1h-1zM318 201h2v2h-2zM321 198h1v1h-1zM324 196h2v2h-2zM325 196h2v2h-2zM326 195h2v2h-2zM328 196h1v2h-1zM330 195h1v2h-1zM333 195h2v2h-2zM334 196h1v1h-1zM335 196h1v1h-1zM337 193h1v2h-1zM339 193h2v2h-2zM241 219h3v3h-3zM242 218h3v2h-3zM245 218h2v1h-2zM241 215h1v2h-1zM246 215h3v1h-3zM245 213h2v2h-2zM245 212h1v2h-1zM244 211h2v2h-2zM245 210h3v2h-3zM244 211h2v1h-2zM245 210h1v2h-1zM245 207h3v2h-3zM247 208h3v1h-3zM249 210h2v2h-2zM250 210h3v3h-3zM253 209h1v2h-1zM253 207h2v2h-2zM255 204h2v1h-2zM259 207h2v3h-2zM259 205h2v2h-2zM260 204h3v1h-3zM260 202h1v1h-1zM262 203h2v3h-2zM261 200h2v1h-2zM263 198h1v2h-1zM266 200h2v1h-2zM242 401h1v1h-1zM244 400h1v1h-1zM245 399h1v1h-1zM246 398h1v1h-1zM247 397h1v1h-1zM249 396h1v1h-1zM251 396h1v1h-1zM252 394h1v1h-1zM254 394h1v1h-1zM258 391h1v1h-1zM261 388h1v1h-1zM263 389h1v1h-1zM268 384h1v1h-1zM269 383h1v1h-1zM272 382h1v1h-1zM277 380h1v1h-1zM282 376h1v1h-1zM283 374h1v1h-1zM285 369h1v1h-1zM286 368h1v1h-1zM286 367h1v1h-1zM286 366h1v1h-1zM288 365h1v1h-1zM288 364h1v1h-1zM289 359h1v1h-1zM289 356h1v1h-1zM290 351h1v1h-1zM289 345h1v1h-1zM288 343h1v1h-1zM288 339h1v1h-1zM288 338h1v1h-1zM287 334h1v1h-1zM285 329h1v1h-1zM286 328h1v1h-1zM285 327h1v1h-1zM286 325h1v1h-1zM285 322h1v1h-1zM284 321h1v1h-1zM285 319h1v1h-1zM283 316h1v1h-1zM281 313h1v1h-1zM282 310h1v1h-1zM277 304h1v1h-1zM277 302h1v1h-1zM275 303h1v1h-1zM273 299h1v1h-1zM270 297h1v1h-1zM268 294h1v1h-1zM267 293h1v1h-1zM263 290h1v1h-1zM262 290h1v1h-1zM260 288h1v1h-1zM258 284h1v1h-1zM254 282h1v1h-1zM252 281h1v1h-1zM250 278h1v1h-1zM248 276h1v1h-1zM244 272h1v1h-1zM243 271h1v1h-1zM241 266h1v1h-1zM242 264h1v1h-1zM240 262h1v1h-1zM239 258h1v1h-1zM230 252h1v1h-1zM227 247h1v1h-1zM228 244h1v1h-1zM227 243h1v1h-1zM227 241h1v1h-1zM229 236h1v1h-1zM228 234h1v1h-1zM231 230h1v1h-1zM231 228h1v1h-1zM232 227h1v1h-1zM232 226h1v1h-1zM237 224h1v1h-1zM240 221h1v1h-1zM148 356h1v2h-1zM152 356h2v1h-2zM159 358h1v2h-1zM160 358h1v2h-1zM167 359h2v1h-2zM167 361h2v1h-2zM168 361h1v2h-1zM172 365h1v2h-1zM174 369h2v1h-2zM175 370h2v1h-2zM176 371h1v1h-1zM175 372h1v1h-1zM179 376h1v2h-1zM178 381h1v1h-1zM179 382h2v2h-2zM182 382h1v2h-1zM182 383h1v1h-1zM181 385h1v2h-1zM183 385h2v1h-2zM186 390h2v1h-2zM189 382h1v2h-1zM190 381h1v2h-1zM190 382h1v2h-1zM192 384h2v1h-2zM193 386h2v1h-2zM193 388h1v1h-1zM194 390h1v2h-1zM199 396h1v1h-1zM200 396h1v2h-1zM203 396h1v1h-1zM204 398h2v2h-2zM206 396h2v1h-2zM209 398h1v1h-1zM210 400h1v1h-1zM211 400h2v2h-2zM429 569h1v2h-1zM433 563h2v2h-2zM432 561h2v2h-2zM434 561h2v1h-2zM435 557h2v1h-2zM434 555h1v1h-1zM434 554h2v2h-2zM437 556h1v2h-1zM438 553h2v1h-2zM443 554h2v1h-2zM444 552h1v2h-1zM446 551h2v1h-2zM445 548h2v2h-2zM441 548h1v1h-1zM439 545h2v2h-2zM438 545h1v1h-1zM436 543h2v1h-2zM435 542h1v1h-1zM434 541h1v2h-1zM435 540h2v2h-2zM434 539h2v2h-2zM433 537h1v2h-1zM435 537h2v2h-2zM434 535h2v1h-2zM437 532h2v1h-2zM437 530h1v2h-1zM433 528h2v1h-2zM433 526h2v1h-2zM432 519h1v1h-1zM433 515h1v1h-1zM430 514h1v2h-1zM429 511h2v2h-2zM428 510h1v2h-1zM430 510h1v2h-1zM430 508h1v2h-1zM433 510h2v1h-2zM433 507h1v2h-1zM431 505h2v1h-2zM430 501h1v1h-1zM431 501h2v1h-2zM433 502h2v1h-2zM435 502h1v1h-1zM436 501h2v2h-2zM441 498h1v1h-1zM441 494h1v2h-1zM442 491h2v2h-2zM441 488h2v1h-2zM440 488h2v2h-2zM442 487h1v2h-1zM446 485h2v2h-2zM448 485h2v1h-2zM450 482h2v2h-2zM452 484h1v2h-1zM504 42h3v3h-3zM501 40h3v1h-3zM502 40h2v1h-2zM504 37h1v2h-1zM503 38h2v3h-2zM504 41h1v2h-1zM506 41h2v1h-2zM503 39h2v3h-2zM502 40h1v1h-1zM505 41h3v2h-3zM495 51h2v3h-2zM497 59h2v2h-2zM494 58h2v1h-2zM496 51h2v2h-2zM500 54h1v1h-1zM500 48h2v3h-2zM497 58h2v2h-2zM496 54h3v3h-3zM497 60h1v2h-1zM498 56h1v1h-1zM496 52h3v2h-3zM499 49h1v3h-1zM500 50h3v1h-3zM495 52h3v1h-3zM495 47h2v1h-2zM498 57h1v3h-1zM499 54h2v2h-2zM496 52h1v1h-1zM495 53h3v3h-3zM494 54h1v1h-1zM499 53h1v3h-1zM494 50h2v3h-2zM484 79h2v2h-2zM483 77h1v2h-1zM487 80h3v1h-3zM488 75h1v1h-1zM486 84h3v2h-3zM488 82h2v1h-2zM481 81h1v3h-1zM486 77h2v1h-2zM483 74h1v2h-1zM487 78h3v2h-3zM487 81h1v2h-1zM485 82h1v2h-1zM484 82h1v2h-1zM484 81h2v1h-2zM483 77h3v3h-3zM481 75h2v1h-2zM486 80h2v2h-2zM490 77h1v1h-1zM482 79h1v1h-1zM490 76h1v3h-1zM485 76h2v3h-2zM487 77h3v2h-3zM483 78h2v1h-2zM486 80h1v3h-1zM484 71h1v3h-1zM486 78h3v3h-3zM466 112h1v1h-1zM465 100h1v3h-1zM468 106h3v3h-3zM468 101h1v3h-1zM464 112h3v2h-3zM465 107h2v1h-2zM466 113h1v3h-1zM464 111h1v3h-1zM464 103h1v2h-1zM463 108h3v1h-3zM466 103h2v3h-2zM463 103h1v2h-1zM470 104h2v2h-2zM463 105h3v1h-3zM467 106h1v3h-1zM467 108h2v3h-2zM470 107h1v3h-1zM466 113h3v3h-3zM463 105h3v2h-3zM467 104h3v1h-3zM467 107h2v3h-2zM465 112h1v1h-1zM468 110h3v1h-3zM468 112h3v2h-3zM468 112h1v3h-1zM464 108h3v3h-3zM467 106h1v2h-1zM466 111h2v3h-2zM469 105h2v2h-2zM469 108h3v1h-3zM470 103h1v2h-1zM469 106h1v3h-1zM465 109h1v3h-1zM467 112h2v2h-2zM463 122h3v1h-3zM462 122h1v1h-1zM454 126h3v3h-3zM456 127h1v3h-1zM461 126h1v2h-1zM462 125h1v2h-1zM462 127h1v3h-1zM463 121h2v1h-2zM455 128h1v2h-1zM461 126h2v2h-2zM460 129h3v1h-3zM459 130h2v3h-2zM462 128h2v1h-2zM457 130h3v2h-3zM455 129h2v1h-2zM460 127h3v3h-3zM455 127h1v2h-1zM461 124h2v3h-2zM460 128h1v2h-1zM460 125h3v1h-3zM458 130h3v1h-3zM460 123h2v3h-2zM454 129h3v3h-3zM455 131h3v2h-3zM460 127h3v2h-3zM453 129h3v3h-3zM465 123h2v3h-2zM463 122h1v2h-1zM465 123h3v3h-3zM458 128h3v1h-3zM440 137h3v3h-3zM441 138h3v2h-3zM441 143h2v2h-2zM436 141h3v2h-3zM441 140h2v2h-2zM444 141h2v1h-2zM440 144h1v1h-1zM441 145h3v1h-3zM446 142h2v1h-2zM441 141h2v2h-2zM439 136h3v3h-3zM435 144h3v3h-3zM439 145h2v1h-2zM441 144h1v3h-1zM442 141h2v2h-2zM437 140h3v1h-3zM445 135h2v2h-2zM437 140h3v2h-3zM438 137h1v1h-1zM440 144h1v2h-1zM445 139h2v3h-2zM443 137h3v2h-3zM436 143h3v1h-3zM445 141h1v1h-1zM436 141h2v3h-2zM435 140h1v3h-1zM440 137h2v3h-2zM446 136h2v2h-2zM435 142h3v1h-3zM439 142h3v3h-3zM438 140h3v3h-3zM435 142h2v3h-2zM429 156h3v1h-3zM428 156h3v2h-3zM422 157h1v3h-1zM427 156h2v1h-2zM426 160h1v1h-1zM430 155h3v1h-3zM425 159h2v1h-2zM427 155h3v1h-3zM424 156h1v1h-1zM428 155h1v2h-1zM427 156h2v2h-2zM429 158h2v1h-2zM426 158h3v3h-3zM427 158h3v2h-3zM427 155h1v1h-1zM426 158h1v2h-1zM426 159h2v3h-2zM427 160h3v1h-3zM424 161h2v3h-2zM429 157h2v2h-2zM429 154h3v1h-3zM430 156h3v1h-3zM428 157h1v3h-1zM427 153h1v1h-1zM413 165h2v2h-2zM409 162h2v2h-2zM412 165h2v3h-2zM412 162h2v3h-2zM409 162h2v3h-2zM410 162h1v1h-1zM415 165h3v1h-3zM412 165h2v1h-2zM409 162h2v1h-2zM414 164h1v1h-1zM411 162h1v1h-1zM410 165h3v2h-3zM245 207h1v1h-1zM247 206h2v2h-2zM248 206h2v3h-2zM249 205h1v2h-1zM245 209h3v3h-3zM243 209h3v3h-3zM246 210h2v2h-2zM251 209h2v1h-2zM243 207h1v3h-1zM242 210h3v1h-3zM246 206h1v2h-1zM241 208h3v3h-3zM241 208h1v3h-1zM242 208h2v3h-2zM244 210h1v1h-1zM246 205h2v1h-2zM241 207h3v1h-3zM243 206h1v2h-1zM248 207h3v1h-3zM246 206h3v3h-3zM245 211h1v2h-1zM241 210h2v3h-2zM244 206h3v3h-3zM250 208h3v1h-3zM242 209h1v2h-1zM251 208h3v3h-3zM243 208h3v1h-3zM246 210h1v1h-1zM243 209h1v3h-1zM248 209h3v2h-3zM256 204h1v1h-1zM252 204h3v2h-3zM258 202h3v1h-3zM256 204h3v1h-3zM254 200h1v3h-1zM251 202h2v2h-2zM259 202h2v1h-2zM257 203h1v2h-1zM257 202h2v2h-2zM258 203h2v2h-2zM255 204h3v1h-3zM254 203h2v1h-2zM254 205h3v3h-3zM253 202h2v2h-2zM253 203h1v2h-1zM251 202h3v3h-3zM251 201h2v3h-2zM257 202h1v1h-1zM374 179h2v2h-2zM371 181h3v1h-3zM372 181h2v3h-2zM369 184h3v2h-3zM370 184h3v2h-3zM372 186h1v1h-1zM373 181h3v2h-3zM376 181h2v2h-2zM374 184h2v3h-2zM375 183h3v1h-3zM370 183h2v1h-2zM375 179h2v1h-2zM370 183h1v3h-1zM373 178h2v1h-2zM371 180h3v3h-3zM370 184h2v1h-2zM374 179h3v1h-3zM375 182h3v3h-3zM373 184h1v3h-1zM369 183h3v3h-3zM377 181h3v3h-3zM373 181h3v3h-3zM351 183h2v2h-2zM351 183h2v2h-2zM351 183h1v1h-1zM350 186h1v1h-1zM350 187h2v2h-2zM350 184h2v2h-2zM352 186h1v1h-1zM353 183h1v1h-1zM352 188h2v1h-2zM352 188h1v1h-1zM351 182h2v1h-2zM349 184h1v1h-1zM351 183h1v1h-1zM352 182h1v2h-1zM308 206h1v1h-1zM307 205h1v2h-1zM306 203h2v1h-2zM307 203h1v2h-1zM306 203h2v1h-2zM307 208h2v2h-2zM308 206h2v1h-2zM305 207h1v1h-1zM431 467h2v2h-2zM431 471h3v2h-3zM435 470h1v1h-1zM435 473h3v2h-3zM431 467h1v3h-1zM428 469h3v2h-3zM438 470h2v1h-2zM430 470h1v1h-1zM432 469h3v3h-3zM435 467h1v3h-1zM429 472h3v3h-3zM432 471h1v2h-1zM429 468h1v1h-1zM432 471h2v2h-2zM430 472h2v2h-2zM433 470h2v1h-2zM432 470h3v1h-3zM432 467h1v2h-1zM436 471h2v2h-2zM429 469h1v3h-1zM446 490h1v1h-1zM443 487h3v1h-3zM446 492h1v1h-1zM445 493h2v3h-2zM450 488h1v2h-1zM446 486h2v1h-2zM444 487h2v3h-2zM447 492h1v2h-1zM448 491h3v2h-3zM443 492h2v1h-2zM450 492h3v2h-3zM444 489h3v2h-3zM448 491h1v3h-1zM444 489h2v2h-2zM444 486h3v1h-3zM444 493h1v2h-1zM441 489h1v3h-1zM446 488h1v1h-1zM448 492h3v2h-3zM443 487h1v1h-1zM453 489h3v1h-3zM448 489h3v2h-3zM453 490h2v3h-2zM453 490h2v1h-2zM428 500h3v1h-3zM426 500h3v2h-3zM430 498h1v1h-1zM427 501h2v3h-2zM432 498h1v1h-1zM425 498h2v1h-2zM428 497h2v1h-2zM430 500h1v3h-1zM433 500h2v2h-2zM428 497h3v1h-3zM426 498h2v1h-2zM429 502h3v2h-3zM430 496h2v3h-2zM433 499h2v3h-2zM426 499h2v1h-2zM427 498h1v3h-1zM429 511h1v3h-1zM425 509h1v1h-1zM428 515h3v3h-3zM425 509h2v3h-2zM427 515h1v3h-1zM426 507h3v1h-3zM424 509h2v2h-2zM427 511h2v2h-2zM426 509h1v1h-1zM429 512h3v2h-3zM423 516h1v3h-1zM428 510h2v3h-2zM426 517h2v1h-2zM423 513h1v2h-1zM425 509h3v2h-3zM428 512h1v3h-1zM421 513h2v1h-2zM424 517h2v1h-2zM428 509h1v2h-1zM422 509h2v1h-2zM428 509h1v3h-1zM426 508h2v1h-2zM438 482h2v1h-2zM438 482h1v1h-1zM438 482h2v1h-2zM433 481h2v1h-2zM434 478h2v2h-2zM440 481h1v1h-1zM435 478h1v1h-1zM436 482h2v1h-2zM439 481h2v1h-2zM439 482h2v1h-2zM484 471h1v1h-1zM477 475h1v2h-1zM485 470h1v2h-1zM483 470h1v1h-1zM482 473h2v2h-2zM482 472h1v2h-1zM484 470h2v1h-2zM484 472h2v2h-2zM479 472h2v2h-2zM478 474h2v1h-2zM496 464h2v1h-2zM494 462h1v2h-1zM496 461h1v1h-1zM500 461h1v1h-1zM495 463h2v2h-2zM495 463h2v2h-2zM495 463h2v1h-2zM497 460h2v2h-2zM458 163h2v2h-2zM460 160h1v2h-1zM461 159h2v2h-2zM462 161h1v2h-1zM458 161h2v1h-2zM461 164h2v1h-2zM461 158h1v2h-1zM461 159h2v1h-2zM459 159h2v1h-2zM459 159h2v2h-2zM460 164h2v2h-2zM458 162h2v1h-2zM462 164h1v2h-1zM459 159h2v2h-2zM536 149h1v1h-1zM540 147h1v2h-1zM535 149h2v2h-2zM537 145h1v2h-1zM538 149h2v2h-2zM533 148h1v2h-1zM540 146h2v2h-2zM533 145h2v2h-2zM538 145h1v1h-1zM540 144h2v1h-2zM534 148h1v1h-1zM532 148h2v2h-2zM532 144h1v1h-1zM532 147h2v2h-2zM532 146h1v2h-1zM538 147h1v1h-1zM532 147h1v2h-1zM537 144h2v1h-2zM537 145h1v1h-1zM538 144h1v2h-1zM535 145h2v2h-2zM531 145h2v1h-2zM559 135h1v2h-1zM557 137h1v1h-1zM558 139h2v1h-2zM558 138h2v2h-2zM557 138h1v2h-1zM559 136h2v2h-2zM559 138h1v2h-1zM557 135h1v2h-1zM517 144h1v1h-1zM519 143h1v1h-1zM602 102h1v2h-1zM597 110h1v1h-1zM593 110h2v2h-2zM593 113h1v1h-1zM602 105h1v1h-1zM602 105h2v1h-2zM600 107h1v2h-1zM598 106h2v1h-2zM604 106h1v1h-1zM603 107h1v1h-1zM596 108h2v2h-2zM605 106h1v1h-1zM601 106h2v1h-2zM601 103h1v2h-1zM598 112h1v1h-1zM595 108h1v2h-1zM598 112h1v2h-1zM596 109h1v1h-1zM598 106h2v2h-2zM606 105h2v1h-2zM603 108h1v2h-1zM606 103h2v1h-2zM627 74h2v1h-2zM625 75h1v2h-1zM626 73h1v2h-1zM629 73h2v1h-2zM626 74h2v1h-2zM626 75h1v2h-1zM625 72h2v1h-2zM631 71h1v2h-1zM630 71h1v2h-1zM630 72h2v1h-2zM619 80h1v2h-1zM620 81h2v1h-2zM620 80h2v2h-2zM619 81h1v1h-1zM619 82h1v2h-1zM614 89h1v1h-1zM613 89h1v1h-1zM615 87h1v1h-1zM602 95h1v1h-1zM602 96h1v1h-1zM585 108h1v1h-1zM584 109h1v1h-1zM583 109h1v1h-1zM624 55h1v1h-1zM623 55h1v1h-1zM633 42h1v1h-1zM632 43h1v1h-1zM632 43h1v1h-1zM631 44h1v1h-1zM500 214h2v1h-2zM500 207h2v1h-2zM500 209h1v1h-1zM500 210h2v2h-2zM500 211h2v1h-2zM499 212h2v1h-2zM500 210h2v1h-2zM501 208h1v2h-1zM492 238h2v1h-2zM493 238h2v1h-2zM492 238h1v2h-1zM494 238h1v2h-1zM492 241h2v2h-2zM494 240h2v2h-2zM502 233h1v1h-1zM502 232h1v1h-1zM500 246h1v1h-1zM501 245h1v1h-1zM500 246h1v1h-1zM236 514h2v1h-2zM234 514h1v2h-1zM236 517h2v2h-2zM232 517h1v2h-1zM232 513h2v2h-2zM238 514h1v1h-1zM237 515h1v1h-1zM231 516h2v2h-2zM238 515h2v1h-2zM238 513h2v1h-2zM234 517h2v2h-2zM234 513h2v1h-2zM231 515h2v1h-2zM235 514h1v2h-1zM229 519h1v2h-1zM229 520h1v1h-1zM232 519h1v1h-1zM226 519h1v2h-1zM228 520h2v1h-2zM227 520h2v2h-2zM230 518h2v2h-2zM228 518h2v2h-2zM228 520h1v2h-1zM230 522h1v1h-1zM235 522h2v1h-2zM238 522h2v1h-2zM237 521h2v1h-2zM237 521h2v1h-2zM235 523h2v2h-2zM278 521h1v1h-1zM278 520h1v1h-1zM279 523h1v1h-1zM262 487h1v1h-1zM263 487h1v1h-1zM254 551h1v1h-1zM253 550h1v1h-1zM252 551h1v1h-1zM473 368h2v1h-2zM472 369h1v1h-1zM467 368h2v2h-2zM471 362h2v1h-2zM472 368h2v2h-2zM469 367h1v2h-1zM471 365h1v2h-1zM468 364h2v1h-2zM469 363h1v1h-1zM473 362h2v2h-2zM470 363h2v2h-2zM470 361h2v1h-2zM469 369h2v1h-2zM469 362h1v1h-1zM468 369h1v2h-1zM472 368h2v1h-2zM467 362h1v1h-1zM467 366h2v1h-2zM472 364h2v1h-2zM471 363h1v2h-1zM471 361h1v1h-1zM473 366h2v2h-2zM472 364h2v1h-2zM468 367h2v1h-2zM472 362h1v2h-1zM459 385h2v1h-2zM458 379h2v2h-2zM462 378h2v1h-2zM461 384h2v1h-2zM461 383h1v2h-1zM461 377h1v2h-1zM460 379h2v1h-2zM460 376h1v1h-1zM458 382h2v2h-2zM458 379h2v2h-2zM462 382h1v2h-1zM462 382h2v1h-2zM461 379h2v2h-2zM462 383h2v2h-2zM461 378h1v1h-1zM460 385h2v1h-2zM459 379h1v2h-1zM463 380h2v2h-2zM567 398h2v1h-2zM567 402h2v1h-2zM566 399h1v2h-1zM567 406h1v2h-1zM564 399h2v2h-2zM569 397h1v1h-1zM565 403h1v1h-1zM568 404h1v2h-1zM564 398h2v1h-2zM565 395h2v1h-2zM565 396h1v2h-1zM563 401h1v1h-1zM563 396h1v1h-1zM569 396h1v2h-1zM566 395h1v1h-1zM568 398h1v1h-1zM567 400h1v1h-1zM569 402h2v2h-2zM565 400h2v1h-2zM569 396h1v1h-1zM565 400h2v1h-2zM569 399h2v1h-2zM490 467h1v1h-1zM486 468h2v2h-2zM492 466h1v1h-1zM487 469h2v1h-2zM488 468h1v2h-1zM484 469h1v2h-1zM493 467h1v1h-1zM489 469h2v2h-2zM487 468h2v1h-2zM489 468h1v1h-1zM485 470h2v1h-2zM488 467h1v1h-1zM487 467h1v1h-1zM485 471h1v1h-1zM474 483h2v1h-2zM474 482h2v1h-2zM476 481h2v1h-2zM471 481h2v2h-2zM475 482h2v1h-2zM471 482h2v2h-2zM474 481h1v2h-1zM470 483h1v1h-1zM474 484h2v2h-2zM475 481h2v1h-2zM476 480h1v2h-1zM470 483h1v1h-1zM473 480h1v2h-1zM477 481h1v2h-1zM477 481h2v2h-2zM475 482h1v1h-1zM463 489h1v1h-1zM460 487h1v1h-1zM462 488h1v1h-1zM463 489h1v1h-1zM460 488h1v1h-1zM463 488h1v1h-1zM559 520h2v1h-2zM558 527h2v1h-2zM559 524h1v1h-1zM559 517h2v2h-2zM559 519h1v1h-1zM559 522h2v2h-2zM204 561h1v1h-1zM197 553h1v1h-1zM204 558h1v2h-1zM200 552h1v2h-1zM201 567h2v1h-2zM207 563h1v1h-1zM197 562h1v1h-1zM208 553h2v2h-2zM205 555h2v1h-2zM200 556h2v1h-2zM195 559h2v1h-2zM198 557h2v1h-2zM194 559h1v1h-1zM208 560h1v1h-1zM196 560h1v2h-1zM208 561h1v2h-1zM192 555h2v1h-2zM199 559h1v1h-1zM193 558h2v1h-2zM198 558h2v2h-2zM208 565h2v2h-2zM200 561h2v1h-2zM205 558h2v2h-2zM206 558h1v2h-1zM210 560h1v2h-1zM207 564h2v1h-2zM206 554h2v1h-2zM194 565h1v1h-1zM200 558h1v2h-1zM206 559h2v1h-2zM198 567h2v1h-2zM192 564h1v1h-1zM194 559h1v2h-1zM205 553h2v1h-2zM203 566h2v1h-2zM202 553h2v1h-2zM201 548h1v2h-1zM197 560h1v2h-1zM202 567h1v1h-1zM201 566h2v2h-2zM199 551h1v2h-1zM205 561h2v1h-2zM211 558h1v2h-1zM211 561h1v2h-1zM197 556h2v2h-2zM196 556h1v1h-1zM200 568h2v1h-2zM203 557h1v1h-1zM210 562h1v1h-1zM194 557h2v1h-2zM194 558h2v1h-2zM195 554h2v2h-2zM199 554h2v1h-2zM208 556h2v1h-2zM210 561h2v1h-2zM399 40h1v1h-1zM397 41h1v1h-1zM399 40h1v1h-1zM410 54h1v1h-1zM411 53h1v1h-1zM408 55h1v1h-1zM362 182h1v2h-1zM360 180h2v3h-2zM365 182h3v2h-3zM358 177h2v2h-2zM358 182h1v2h-1zM360 176h1v2h-1zM365 179h2v3h-2zM359 176h3v3h-3zM364 186h2v3h-2zM363 177h3v2h-3zM365 176h3v1h-3zM364 180h3v2h-3zM361 185h1v1h-1zM366 183h1v1h-1zM363 182h3v1h-3zM363 181h1v1h-1zM361 182h3v2h-3zM360 182h2v2h-2zM365 178h2v1h-2zM364 181h1v3h-1zM365 184h3v2h-3zM359 180h1v3h-1zM358 178h1v1h-1zM358 183h2v3h-2zM362 181h1v2h-1zM361 179h1v3h-1zM359 181h1v3h-1zM361 178h3v2h-3zM363 182h3v1h-3zM361 179h1v2h-1zM358 179h2v3h-2zM362 181h1v1h-1zM363 184h3v3h-3zM363 184h1v1h-1zM367 180h2v1h-2zM362 182h2v3h-2zM366 179h2v2h-2zM361 177h1v3h-1zM361 183h2v3h-2zM363 183h3v1h-3zM505 317h1v1h-1zM504 316h1v1h-1zM505 316h1v1h-1zM479 252h1v2h-1zM479 253h2v2h-2zM478 258h2v1h-2zM478 261h1v1h-1zM477 264h2v2h-2zM475 266h1v1h-1zM475 268h1v1h-1zM475 270h2v1h-2zM476 271h2v2h-2zM475 273h2v1h-2zM475 274h2v2h-2zM477 275h2v2h-2zM477 276h1v1h-1zM475 283h1v2h-1zM474 284h2v1h-2zM475 287h1v2h-1zM474 288h1v1h-1zM473 290h2v2h-2zM474 291h2v2h-2zM472 291h1v2h-1zM464 293h1v1h-1zM464 296h2v2h-2zM465 299h2v1h-2zM465 300h2v1h-2zM475 318h1v2h-1zM478 319h1v2h-1zM481 319h2v2h-2zM483 320h2v2h-2zM483 322h1v1h-1zM480 324h1v1h-1zM480 326h1v1h-1zM480 330h1v1h-1zM482 333h1v1h-1zM482 335h2v1h-2zM483 335h2v1h-2zM484 336h1v2h-1zM491 339h1v1h-1zM492 338h1v2h-1zM492 336h1v1h-1zM498 334h1v2h-1zM499 334h2v1h-2zM499 333h2v1h-2zM501 333h2v1h-2zM504 335h1v1h-1zM507 340h1v2h-1zM510 344h1v2h-1zM512 342h1v2h-1zM514 341h1v2h-1zM514 339h1v1h-1zM512 338h2v2h-2zM512 336h2v1h-2zM510 335h1v2h-1zM510 334h2v2h-2zM509 332h2v1h-2zM509 329h2v1h-2zM511 328h2v2h-2zM512 328h2v1h-2zM516 328h2v2h-2zM520 335h1v1h-1zM523 338h1v2h-1zM524 341h1v2h-1zM523 343h1v2h-1zM526 345h1v2h-1zM528 350h1v2h-1zM530 350h2v1h-2zM531 349h2v1h-2zM533 350h2v1h-2zM534 352h1v1h-1zM534 354h1v1h-1zM536 355h1v1h-1zM540 353h2v1h-2zM538 352h2v2h-2zM539 351h1v1h-1zM536 349h1v1h-1zM536 347h1v1h-1zM533 346h2v1h-2zM534 343h2v2h-2zM532 343h1v2h-1zM530 337h1v2h-1zM533 336h1v2h-1zM534 334h1v2h-1zM529 334h1v2h-1zM528 333h1v1h-1zM524 332h1v2h-1zM523 333h1v2h-1zM522 330h1v1h-1zM519 326h2v2h-2zM517 324h2v2h-2zM509 327h1v2h-1zM506 328h1v1h-1zM504 329h1v2h-1zM503 328h2v1h-2zM499 325h2v1h-2zM498 324h2v1h-2zM497 319h2v2h-2zM496 315h2v1h-2zM496 314h2v1h-2zM495 308h1v2h-1zM495 305h1v1h-1zM496 301h2v1h-2zM499 300h1v1h-1zM503 295h1v2h-1zM505 293h1v1h-1zM507 292h2v1h-2zM508 286h2v2h-2zM510 283h1v2h-1zM511 282h2v2h-2zM510 273h2v1h-2zM509 272h2v1h-2zM509 269h2v2h-2zM509 267h2v1h-2zM508 262h2v2h-2zM508 254h2v2h-2zM507 251h1v2h-1zM504 251h1v1h-1zM504 254h2v1h-2zM500 256h2v1h-2zM498 254h1v2h-1zM497 253h1v1h-1zM492 252h1v2h-1zM486 248h1v1h-1zM482 249h2v1h-2zM479 344h1v2h-1zM480 349h1v2h-1zM482 352h1v1h-1zM483 352h1v1h-1zM483 354h1v2h-1zM485 357h2v1h-2zM485 359h1v2h-1zM487 360h2v2h-2zM491 362h1v2h-1zM491 359h1v1h-1zM492 358h2v1h-2zM493 357h2v1h-2zM494 353h2v2h-2zM495 352h2v1h-2zM488 342h1v1h-1zM484 340h1v1h-1zM479 339h1v1h-1zM523 357h2v2h-2zM523 358h2v1h-2zM523 359h2v1h-2zM524 361h1v2h-1zM522 363h2v2h-2zM521 364h2v2h-2zM521 366h2v1h-2zM522 367h1v1h-1zM527 364h1v1h-1zM529 364h2v2h-2zM529 365h2v2h-2zM530 366h1v1h-1zM531 367h2v1h-2zM533 370h1v1h-1zM536 369h1v1h-1zM536 366h2v2h-2zM531 360h2v2h-2zM530 359h1v2h-1zM527 357h2v1h-2zM526 355h1v2h-1zM540 359h2v2h-2zM541 360h1v2h-1zM542 361h1v2h-1zM547 363h2v1h-2zM548 367h2v2h-2zM550 369h2v2h-2zM549 371h2v1h-2zM551 371h1v2h-1zM552 372h2v1h-2zM556 378h2v1h-2zM559 379h2v1h-2zM564 378h1v2h-1zM562 377h2v1h-2zM562 376h2v2h-2zM561 373h1v2h-1zM561 372h1v1h-1zM560 369h1v2h-1zM562 368h1v1h-1zM563 366h2v1h-2zM562 365h1v2h-1zM561 364h2v2h-2zM561 361h2v2h-2zM561 359h1v2h-1zM558 359h2v2h-2zM558 356h2v1h-2zM556 357h1v1h-1zM550 355h1v2h-1zM543 355h1v1h-1zM542 357h2v1h-2zM541 372h2v2h-2zM542 377h2v1h-2zM541 379h1v1h-1zM544 381h2v2h-2zM546 387h2v1h-2zM547 388h2v1h-2zM547 389h2v1h-2zM550 390h1v2h-1zM550 391h1v2h-1zM549 393h1v1h-1zM550 395h2v2h-2zM553 396h1v1h-1zM554 396h1v2h-1zM556 388h2v1h-2zM555 387h1v1h-1zM552 384h2v2h-2zM553 382h1v1h-1zM552 381h1v2h-1zM551 379h1v1h-1zM548 377h2v1h-2zM548 374h2v1h-2zM547 373h1v1h-1zM545 372h2v2h-2zM543 371h1v1h-1zM501 375h1v2h-1zM503 376h2v1h-2zM503 377h2v2h-2zM503 382h1v1h-1zM502 385h1v2h-1zM501 387h2v1h-2zM506 392h2v1h-2zM509 391h2v1h-2zM511 390h2v1h-2zM512 388h1v2h-1zM513 388h1v2h-1zM515 386h2v1h-2zM519 382h2v1h-2zM519 375h2v1h-2zM516 375h2v2h-2zM515 375h1v1h-1zM508 370h1v2h-1zM506 369h1v2h-1zM505 369h2v1h-2zM520 385h1v2h-1zM518 390h2v1h-2zM517 391h1v1h-1zM518 393h2v1h-2zM517 394h1v2h-1zM517 396h2v1h-2zM516 400h2v2h-2zM513 402h2v2h-2zM509 403h2v2h-2zM512 409h2v1h-2zM517 413h1v1h-1zM522 416h2v1h-2zM524 413h1v1h-1zM525 408h2v1h-2zM524 407h1v2h-1zM524 406h1v1h-1zM525 404h2v1h-2zM527 394h2v2h-2zM527 392h1v2h-1zM528 389h2v2h-2zM523 382h1v2h-1zM522 383h2v1h-2zM533 383h2v1h-2zM533 384h1v1h-1zM529 393h2v2h-2zM527 399h1v1h-1zM527 400h1v1h-1zM526 404h2v2h-2zM526 405h1v1h-1zM525 409h1v1h-1zM528 408h2v2h-2zM528 406h1v2h-1zM529 404h1v1h-1zM530 399h2v2h-2zM531 398h2v1h-2zM534 395h1v1h-1zM537 389h1v2h-1zM537 388h1v2h-1zM537 384h1v1h-1zM534 403h2v2h-2zM535 407h2v2h-2zM538 407h2v1h-2zM544 407h1v1h-1zM544 399h2v2h-2zM543 399h1v1h-1zM541 399h1v2h-1zM540 399h1v1h-1zM537 398h2v2h-2zM536 400h2v1h-2zM560 405h2v2h-2zM559 408h2v2h-2zM560 409h2v2h-2zM561 413h1v2h-1zM561 415h1v2h-1zM558 418h2v2h-2zM557 419h2v2h-2zM551 417h2v1h-2zM550 419h2v2h-2zM548 423h2v1h-2zM548 426h1v1h-1zM547 425h2v1h-2zM542 425h1v1h-1zM541 427h2v1h-2zM540 428h2v1h-2zM539 429h1v2h-1zM540 430h2v2h-2zM539 430h1v2h-1zM538 430h2v1h-2zM536 430h1v1h-1zM531 435h2v2h-2zM532 433h2v2h-2zM533 430h2v1h-2zM532 428h2v1h-2zM532 425h2v1h-2zM529 423h1v2h-1zM525 423h2v1h-2zM524 424h1v2h-1zM523 425h2v1h-2zM521 425h1v2h-1zM520 426h1v2h-1zM519 429h1v1h-1zM518 430h2v1h-2zM509 434h1v1h-1zM508 435h2v1h-2zM506 437h2v2h-2zM505 439h2v1h-2zM503 441h2v1h-2zM504 443h2v1h-2zM501 447h2v1h-2zM500 451h1v2h-1zM502 452h2v1h-2zM505 453h2v1h-2zM507 450h1v2h-1zM506 449h1v1h-1zM508 446h1v1h-1zM509 445h1v2h-1zM510 444h2v1h-2zM510 442h2v1h-2zM511 441h1v1h-1zM514 441h2v1h-2zM515 442h1v2h-1zM517 443h2v2h-2zM522 441h2v2h-2zM522 441h1v2h-1zM524 442h2v2h-2zM526 444h1v2h-1zM527 442h2v2h-2zM530 440h1v2h-1zM531 438h2v2h-2zM533 439h1v2h-1zM535 441h2v2h-2zM536 441h2v1h-2zM538 442h1v2h-1zM539 446h2v2h-2zM538 450h2v1h-2zM535 454h1v2h-1zM536 455h2v2h-2zM537 456h1v2h-1zM536 460h2v2h-2zM539 463h2v2h-2zM541 464h2v2h-2zM541 466h1v1h-1zM544 467h1v1h-1zM545 469h2v2h-2zM548 468h1v1h-1zM548 470h2v2h-2zM550 470h2v1h-2zM552 471h2v1h-2zM554 473h2v2h-2zM556 472h1v2h-1zM561 476h2v1h-2zM562 476h2v1h-2zM563 473h1v2h-1zM564 472h2v2h-2zM564 470h1v2h-1zM566 469h2v2h-2zM565 464h1v1h-1zM561 458h1v2h-1zM562 453h2v2h-2zM565 448h1v2h-1zM568 449h2v1h-2zM569 451h1v1h-1zM569 452h1v2h-1zM572 453h2v2h-2zM571 454h2v2h-2zM570 456h1v1h-1zM572 457h1v2h-1zM571 459h2v2h-2zM571 461h2v1h-2zM573 461h2v2h-2zM573 463h2v1h-2zM574 460h1v2h-1zM575 459h2v1h-2zM575 456h2v1h-2zM575 455h1v1h-1zM576 454h1v2h-1zM577 453h1v1h-1zM579 451h2v1h-2zM579 449h1v2h-1zM580 447h1v1h-1zM580 445h2v1h-2zM579 442h2v2h-2zM580 439h1v2h-1zM579 436h1v2h-1zM578 430h1v1h-1zM577 426h2v1h-2zM576 424h2v2h-2zM574 420h1v1h-1zM574 417h2v1h-2zM570 413h1v1h-1zM570 411h2v2h-2zM567 412h2v1h-2zM567 410h1v1h-1zM565 410h2v1h-2zM565 406h2v2h-2zM418 438h1v2h-1zM420 436h1v2h-1zM422 434h2v2h-2zM421 432h2v2h-2zM427 426h2v1h-2zM428 425h2v1h-2zM430 425h2v1h-2zM432 423h1v1h-1zM435 419h1v2h-1zM437 417h1v1h-1zM447 408h1v1h-1zM448 406h1v2h-1zM448 405h2v1h-2zM449 404h1v2h-1zM450 404h2v2h-2zM451 402h2v1h-2zM451 401h1v2h-1zM457 398h2v2h-2zM460 394h1v2h-1zM461 393h2v1h-2zM462 391h2v2h-2zM462 385h1v2h-1zM461 384h1v1h-1zM461 383h2v1h-2zM463 382h1v2h-1zM464 379h1v1h-1zM465 378h1v2h-1zM466 375h1v1h-1zM462 372h2v2h-2zM459 375h2v2h-2zM457 378h1v2h-1zM457 379h2v1h-2zM456 380h2v2h-2zM456 383h1v2h-1zM455 388h2v1h-2zM457 389h1v1h-1zM455 390h2v1h-2zM454 392h2v1h-2zM451 394h1v1h-1zM451 396h2v2h-2zM444 402h1v1h-1zM444 404h1v2h-1zM443 405h2v2h-2zM441 405h2v1h-2zM441 406h2v1h-2zM437 412h1v1h-1zM434 414h2v1h-2zM433 416h1v2h-1zM431 416h1v1h-1zM431 417h2v1h-2zM427 421h1v1h-1zM425 424h1v1h-1zM423 424h1v1h-1zM422 427h2v2h-2zM421 428h2v2h-2zM421 429h1v2h-1zM418 431h1v2h-1zM417 433h1v1h-1zM537 333h2v1h-2zM536 336h2v2h-2zM537 337h2v1h-2zM537 338h1v2h-1zM541 338h1v2h-1zM543 336h2v2h-2zM541 332h1v2h-1zM499 342h2v1h-2zM502 346h1v1h-1zM504 341h1v1h-1zM594 549h1v1h-1zM593 558h1v2h-1zM594 559h2v1h-2zM594 560h2v1h-2zM596 567h2v1h-2zM598 568h2v2h-2zM599 570h1v2h-1zM599 571h2v1h-2zM600 572h1v2h-1zM602 566h2v2h-2zM606 562h2v1h-2zM610 563h1v1h-1zM612 563h2v1h-2zM613 564h2v2h-2zM618 565h2v2h-2zM617 564h2v1h-2zM614 561h2v1h-2zM613 561h1v2h-1zM612 561h2v2h-2zM610 559h2v2h-2zM607 558h1v1h-1zM607 557h2v1h-2zM609 555h2v2h-2zM611 553h2v2h-2zM612 553h2v2h-2zM615 550h2v2h-2zM615 549h1v1h-1zM613 543h2v2h-2zM611 543h2v2h-2zM605 547h2v2h-2zM605 547h1v1h-1zM605 545h2v2h-2zM605 544h2v2h-2zM605 543h1v1h-1zM606 541h1v1h-1zM605 538h2v1h-2zM604 537h1v1h-1zM602 537h1v1h-1zM601 538h1v2h-1zM596 543h2v1h-2zM595 547h2v1h-2zM467 572h2v1h-2zM470 572h2v2h-2zM471 569h2v1h-2zM470 566h1v2h-1zM475 564h2v2h-2zM480 562h2v1h-2zM481 561h1v2h-1zM486 560h1v2h-1zM488 562h1v1h-1zM490 561h1v2h-1zM493 561h1v1h-1zM499 561h1v1h-1zM500 562h2v2h-2zM504 562h2v1h-2zM506 562h2v2h-2zM513 563h1v1h-1zM515 563h1v2h-1zM521 565h2v1h-2zM530 565h1v2h-1zM535 565h1v1h-1zM537 564h1v2h-1zM543 564h2v1h-2zM546 560h2v1h-2zM548 560h2v1h-2zM549 555h2v1h-2zM552 553h1v1h-1zM552 551h1v2h-1zM554 549h2v2h-2zM556 547h2v1h-2zM556 545h2v2h-2zM551 542h1v1h-1zM550 543h2v2h-2zM548 545h2v1h-2zM546 546h2v2h-2zM545 547h2v2h-2zM542 550h1v2h-1zM540 551h1v1h-1zM539 551h1v2h-1zM536 553h2v1h-2zM533 554h1v1h-1zM527 556h2v1h-2zM524 555h1v2h-1zM521 555h2v1h-2zM514 554h1v1h-1zM512 554h1v2h-1zM507 554h1v1h-1zM501 552h2v2h-2zM493 549h1v2h-1zM490 548h2v1h-2zM485 548h2v2h-2zM479 551h2v1h-2zM476 554h2v2h-2zM475 555h1v1h-1zM471 558h1v2h-1zM470 558h2v2h-2zM468 558h2v2h-2zM467 563h1v2h-1zM466 564h1v2h-1zM466 568h1v2h-1zM495 127h1v2h-1zM482 137h1v2h-1zM479 141h1v2h-1zM477 144h2v2h-2zM475 148h1v2h-1zM474 150h2v1h-2zM474 151h1v2h-1zM471 156h1v1h-1zM471 163h1v2h-1zM472 171h2v1h-2zM474 176h1v2h-1zM475 177h2v2h-2zM476 179h2v1h-2zM479 182h1v1h-1zM479 184h2v1h-2zM482 190h1v1h-1zM483 185h1v1h-1zM485 177h2v1h-2zM491 167h1v1h-1zM492 166h2v1h-2zM494 164h1v1h-1zM493 163h2v1h-2zM493 162h1v1h-1zM497 154h1v2h-1zM499 145h2v2h-2zM498 144h2v2h-2zM500 138h1v1h-1zM287 227h1v1h-1zM281 233h1v2h-1zM279 235h2v1h-2zM277 243h1v2h-1zM276 245h2v1h-2zM278 248h2v2h-2zM280 251h2v1h-2zM284 254h1v1h-1zM285 254h1v1h-1zM286 256h1v2h-1zM291 257h2v1h-2zM293 257h2v1h-2zM302 251h1v1h-1zM313 240h2v2h-2zM316 233h2v2h-2zM316 230h1v2h-1zM315 227h1v2h-1zM314 226h2v2h-2zM312 224h1v2h-1zM311 224h1v2h-1zM305 225h1v2h-1zM300 225h2v2h-2zM516 345h2v1h-2zM519 348h2v1h-2zM520 348h1v1h-1zM521 349h1v1h-1zM521 351h2v2h-2zM524 352h2v1h-2zM525 354h1v2h-1zM522 348h1v2h-1zM520 347h2v2h-2zM520 345h1v2h-1zM518 344h2v2h-2zM530 355h1v1h-1zM530 356h1v1h-1zM503 360h2v2h-2zM503 364h1v1h-1zM504 362h1v1h-1zM505 362h1v1h-1zM505 359h2v2h-2zM505 356h1v2h-1zM505 355h1v1h-1zM513 361h2v2h-2zM514 361h2v1h-2zM514 358h2v1h-2zM511 357h2v1h-2z"/>
</g>
<rect x="112" y="37" width="526" height="534" fill="none" stroke="#000" stroke-width="2" shape-rendering="crispEdges"/>
<rect x="113" y="38" width="5" height="1" fill="#000"/>
<g shape-rendering="crispEdges" fill="#000">
<rect x="130" y="38" width="1" height="5"/><rect x="130" y="565" width="1" height="5"/>
<rect x="164" y="38" width="1" height="5"/><rect x="164" y="565" width="1" height="5"/>
<rect x="198" y="38" width="1" height="5"/><rect x="198" y="565" width="1" height="5"/>
<rect x="231" y="38" width="1" height="5"/><rect x="231" y="565" width="1" height="5"/>
<rect x="265" y="38" width="1" height="5"/><rect x="265" y="565" width="1" height="5"/>
<rect x="299" y="38" width="1" height="5"/><rect x="299" y="565" width="1" height="5"/>
<rect x="333" y="38" width="1" height="5"/><rect x="333" y="565" width="1" height="5"/>
<rect x="367" y="38" width="1" height="5"/><rect x="367" y="565" width="1" height="5"/>
<rect x="400" y="38" width="1" height="5"/><rect x="400" y="565" width="1" height="5"/>
<rect x="434" y="38" width="1" height="5"/><rect x="434" y="565" width="1" height="5"/>
<rect x="468" y="38" width="1" height="5"/><rect x="468" y="565" width="1" height="5"/>
<rect x="502" y="38" width="1" height="5"/><rect x="502" y="565" width="1" height="5"/>
<rect x="535" y="38" width="1" height="5"/><rect x="535" y="565" width="1" height="5"/>
<rect x="569" y="38" width="1" height="5"/><rect x="569" y="565" width="1" height="5"/>
<rect x="603" y="38" width="1" height="5"/><rect x="603" y="565" width="1" height="5"/>
<rect x="113" y="536" width="5" height="1"/><rect x="632" y="536" width="5" height="1"/>
<rect x="113" y="502" width="5" height="1"/><rect x="632" y="502" width="5" height="1"/>
<rect x="113" y="469" width="5" height="1"/><rect x="632" y="469" width="5" height="1"/>
<rect x="113" y="434" width="5" height="1"/><rect x="632" y="434" width="5" height="1"/>
<rect x="113" y="400" width="5" height="1"/><rect x="632" y="400" width="5" height="1"/>
<rect x="113" y="366" width="5" height="1"/><rect x="632" y="366" width="5" height="1"/>
<rect x="113" y="331" width="5" height="1"/><rect x="632" y="331" width="5" height="1"/>
<rect x="113" y="296" width="5" height="1"/><rect x="632" y="296" width="5" height="1"/>
<rect x="113" y="261" width="5" height="1"/><rect x="632" y="261" width="5" height="1"/>
<rect x="113" y="225" width="5" height="1"/><rect x="632" y="225" width="5" height="1"/>
<rect x="113" y="189" width="5" height="1"/><rect x="632" y="189" width="5" height="1"/>
<rect x="113" y="152" width="5" height="1"/><rect x="632" y="152" width="5" height="1"/>
<rect x="113" y="115" width="5" height="1"/><rect x="632" y="115" width="5" height="1"/>
<rect x="113" y="77" width="5" height="1"/><rect x="632" y="77" width="5" height="1"/>
</g>
<g font-size="10.8" font-style="italic" fill="#000">
<text x="134.0" y="587.5" text-anchor="middle">100 E</text>
<text x="218.5" y="587.5" text-anchor="middle">105 E</text>
<text x="302.9" y="587.5" text-anchor="middle">110 E</text>
<text x="387.4" y="587.5" text-anchor="middle">115 E</text>
<text x="471.9" y="587.5" text-anchor="middle">120 E</text>
<text x="556.4" y="587.5" text-anchor="middle">125 E</text>
<text x="640.8" y="587.5" text-anchor="middle">130 E</text>
<text x="646" y="574.1">0</text>
<text x="646" y="489.1">5 N</text>
<text x="646" y="404.1">10 N</text>
<text x="646" y="318.1">15 N</text>
<text x="646" y="229.1">20 N</text>
<text x="646" y="137.1">25 N</text>
<text x="646" y="42.2">30 N</text>
</g>
<text x="375" y="20.3" font-size="13" text-anchor="middle" fill="#000058" textLength="252.6" lengthAdjust="spacing">Significant Wave Height with Wave Direction</text>
<text x="376" y="31.6" font-size="12.1" font-style="italic" text-anchor="middle" fill="#000058" textLength="179.5" lengthAdjust="spacing">Valid For Jul-20-2012 06:00 GMT</text>
<path d="M115.0 595.5H119.0Q120.5 595.5 120.5 597.0V600.0Q120.5 601.5 119.0 601.5H115.0Q113.5 601.5 113.5 600.0V597.0Q113.5 595.5 115.0 595.5zM129.0 595.5H124.0Q122.5 595.5 122.5 597.0V600.0Q122.5 601.5 124.0 601.5H129.0M131 598.5H138V597.0Q138 595.5 136.5 595.5H132.5Q131 595.5 131 597.0V600.0Q131 601.5 132.5 601.5H138M140 595.5H145.5Q147 595.5 147 597.0V601.5H141.5Q140 601.5 140 600.5V599.5Q140 598.5 141.5 598.5H147M149 602.0V595.5H154.0Q155.5 595.5 155.5 597.0V602.0M157.3 595.0V600.0Q157.3 601.5 158.8 601.5H165.3Q166.8 601.5 166.8 600.0V595.0M162.05 595.0V601.5M168.7 598.5H175.7V597.0Q175.7 595.5 174.2 595.5H170.2Q168.7 595.5 168.7 597.0V600.0Q168.7 601.5 170.2 601.5H175.7M177.5 595.5H183.0Q184.5 595.5 184.5 597.0V601.5H179.0Q177.5 601.5 177.5 600.5V599.5Q177.5 598.5 179.0 598.5H184.5M187.2 593.0V600.0Q187.2 601.5 188.7 601.5H190.7M185.7 595.5H190.7M192.5 592.5V602.0M192.5 595.5H197.8Q199.3 595.5 199.3 597.0V602.0M201.2 598.5H208.2V597.0Q208.2 595.5 206.7 595.5H202.7Q201.2 595.5 201.2 597.0V600.0Q201.2 601.5 202.7 601.5H208.2M210.2 602.0V597.0Q210.2 595.5 211.7 595.5H216.2M222.3 595.0V602.0M222.3 592.5v1M225 602.0V595.5H230.0Q231.5 595.5 231.5 597.0V602.0M239.3 595.5H234.8Q233.3 595.5 233.3 597.0V600.0Q233.3 601.5 234.8 601.5H239.3M240.3 601.0v1" fill="none" stroke="#000078" stroke-width="1.15" stroke-linejoin="round"/>
<text x="523.5" y="597.5" font-size="7.8" font-style="italic" fill="#2020a0" textLength="114" lengthAdjust="spacingAndGlyphs">Plotted at Jul 19, 2012 21:49 GMT</text>
<g shape-rendering="crispEdges">
<rect x="255" y="629" width="5" height="13" fill="#000bff"/>
<rect x="260" y="629" width="5" height="13" fill="#0020ff"/>
<rect x="265" y="629" width="5" height="13" fill="#0035ff"/>
<rect x="270" y="629" width="5" height="13" fill="#004aff"/>
<rect x="275" y="629" width="5" height="13" fill="#0060ff"/>
<rect x="280" y="629" width="5" height="13" fill="#0075ff"/>
<rect x="285" y="629" width="5" height="13" fill="#008aff"/>
<rect x="290" y="629" width="5" height="13" fill="#009fff"/>
<rect x="295" y="629" width="5" height="13" fill="#00b5ff"/>
<rect x="300" y="629" width="5" height="13" fill="#00caff"/>
<rect x="305" y="629" width="5" height="13" fill="#00dfff"/>
<rect x="310" y="629" width="5" height="13" fill="#00f4ff"/>
<rect x="315" y="629" width="5" height="13" fill="#00fff4"/>
<rect x="320" y="629" width="5" height="13" fill="#00ffdf"/>
<rect x="325" y="629" width="5" height="13" fill="#00ffca"/>
<rect x="330" y="629" width="5" height="13" fill="#00ffb5"/>
<rect x="335" y="629" width="5" height="13" fill="#00ff9f"/>
<rect x="340" y="629" width="5" height="13" fill="#00ff8a"/>
<rect x="345" y="629" width="5" height="13" fill="#00ff75"/>
<rect x="350" y="629" width="5" height="13" fill="#00ff60"/>
<rect x="355" y="629" width="5" height="13" fill="#00ff4a"/>
<rect x="360" y="629" width="5" height="13" fill="#00ff35"/>
<rect x="365" y="629" width="5" height="13" fill="#00ff20"/>
<rect x="370" y="629" width="5" height="13" fill="#00ff0b"/>
<rect x="375" y="629" width="5" height="13" fill="#0bff00"/>
<rect x="380" y="629" width="5" height="13" fill="#20ff00"/>
<rect x="385" y="629" width="5" height="13" fill="#35ff00"/>
<rect x="390" y="629" width="5" height="13" fill="#4aff00"/>
<rect x="395" y="629" width="5" height="13" fill="#60ff00"/>
<rect x="400" y="629" width="5" height="13" fill="#75ff00"/>
<rect x="405" y="629" width="5" height="13" fill="#8aff00"/>
<rect x="410" y="629" width="5" height="13" fill="#9fff00"/>
<rect x="415" y="629" width="5" height="13" fill="#b5ff00"/>
<rect x="420" y="629" width="5" height="13" fill="#caff00"/>
<rect x="425" y="629" width="5" height="13" fill="#dfff00"/>
<rect x="430" y="629" width="5" height="13" fill="#f4ff00"/>
<rect x="435" y="629" width="5" height="13" fill="#fff400"/>
<rect x="440" y="629" width="5" height="13" fill="#ffdf00"/>
<rect x="445" y="629" width="5" height="13" fill="#ffca00"/>
<rect x="450" y="629" width="5" height="13" fill="#ffb500"/>
<rect x="455" y="629" width="5" height="13" fill="#ff9f00"/>
<rect x="460" y="629" width="5" height="13" fill="#ff8a00"/>
<rect x="465" y="629" width="5" height="13" fill="#ff7500"/>
<rect x="470" y="629" width="5" height="13" fill="#ff6000"/>
<rect x="475" y="629" width="5" height="13" fill="#ff4a00"/>
<rect x="480" y="629" width="5" height="13" fill="#ff3500"/>
<rect x="485" y="629" width="5" height="13" fill="#ff2000"/>
<rect x="490" y="629" width="5" height="13" fill="#ff0b00"/>
<rect x="255" y="629" width="2" height="13" fill="#000018"/></g>
<g font-size="8.6" fill="#000060" text-anchor="middle">
<text x="305.8" y="613.6" font-size="9.2" text-anchor="start" textLength="138.4" lengthAdjust="spacing">Significant Wave Height (Meters)</text>
<text x="310.8" y="661.9" font-size="9.2" text-anchor="start" textLength="129.5" lengthAdjust="spacing">Significant Wave Height (Feet)</text>
<text x="256" y="625.7">0</text>
<text x="276" y="625.7">1</text>
<text x="296" y="625.7">2</text>
<text x="316" y="625.7">3</text>
<text x="336" y="625.7">4</text>
<text x="356" y="625.7">5</text>
<text x="376" y="625.7">6</text>
<text x="396" y="625.7">7</text>
<text x="416" y="625.7">8</text>
<text x="436" y="625.7">9</text>
<text x="456" y="625.7">10</text>
<text x="476" y="625.7">11</text>
<text x="496" y="625.7">12</text>
<text x="256.5" y="649.8">0</text>
<text x="286.5" y="649.8">5</text>
<text x="316.5" y="649.8">10</text>
<text x="346.5" y="649.8">15</text>
<text x="376.5" y="649.8">20</text>
<text x="406.5" y="649.8">25</text>
<text x="436.5" y="649.8">30</text>
<text x="466.5" y="649.8">35</text>
<text x="496.5" y="649.8">40</text>
</g>
</svg></body></html>
